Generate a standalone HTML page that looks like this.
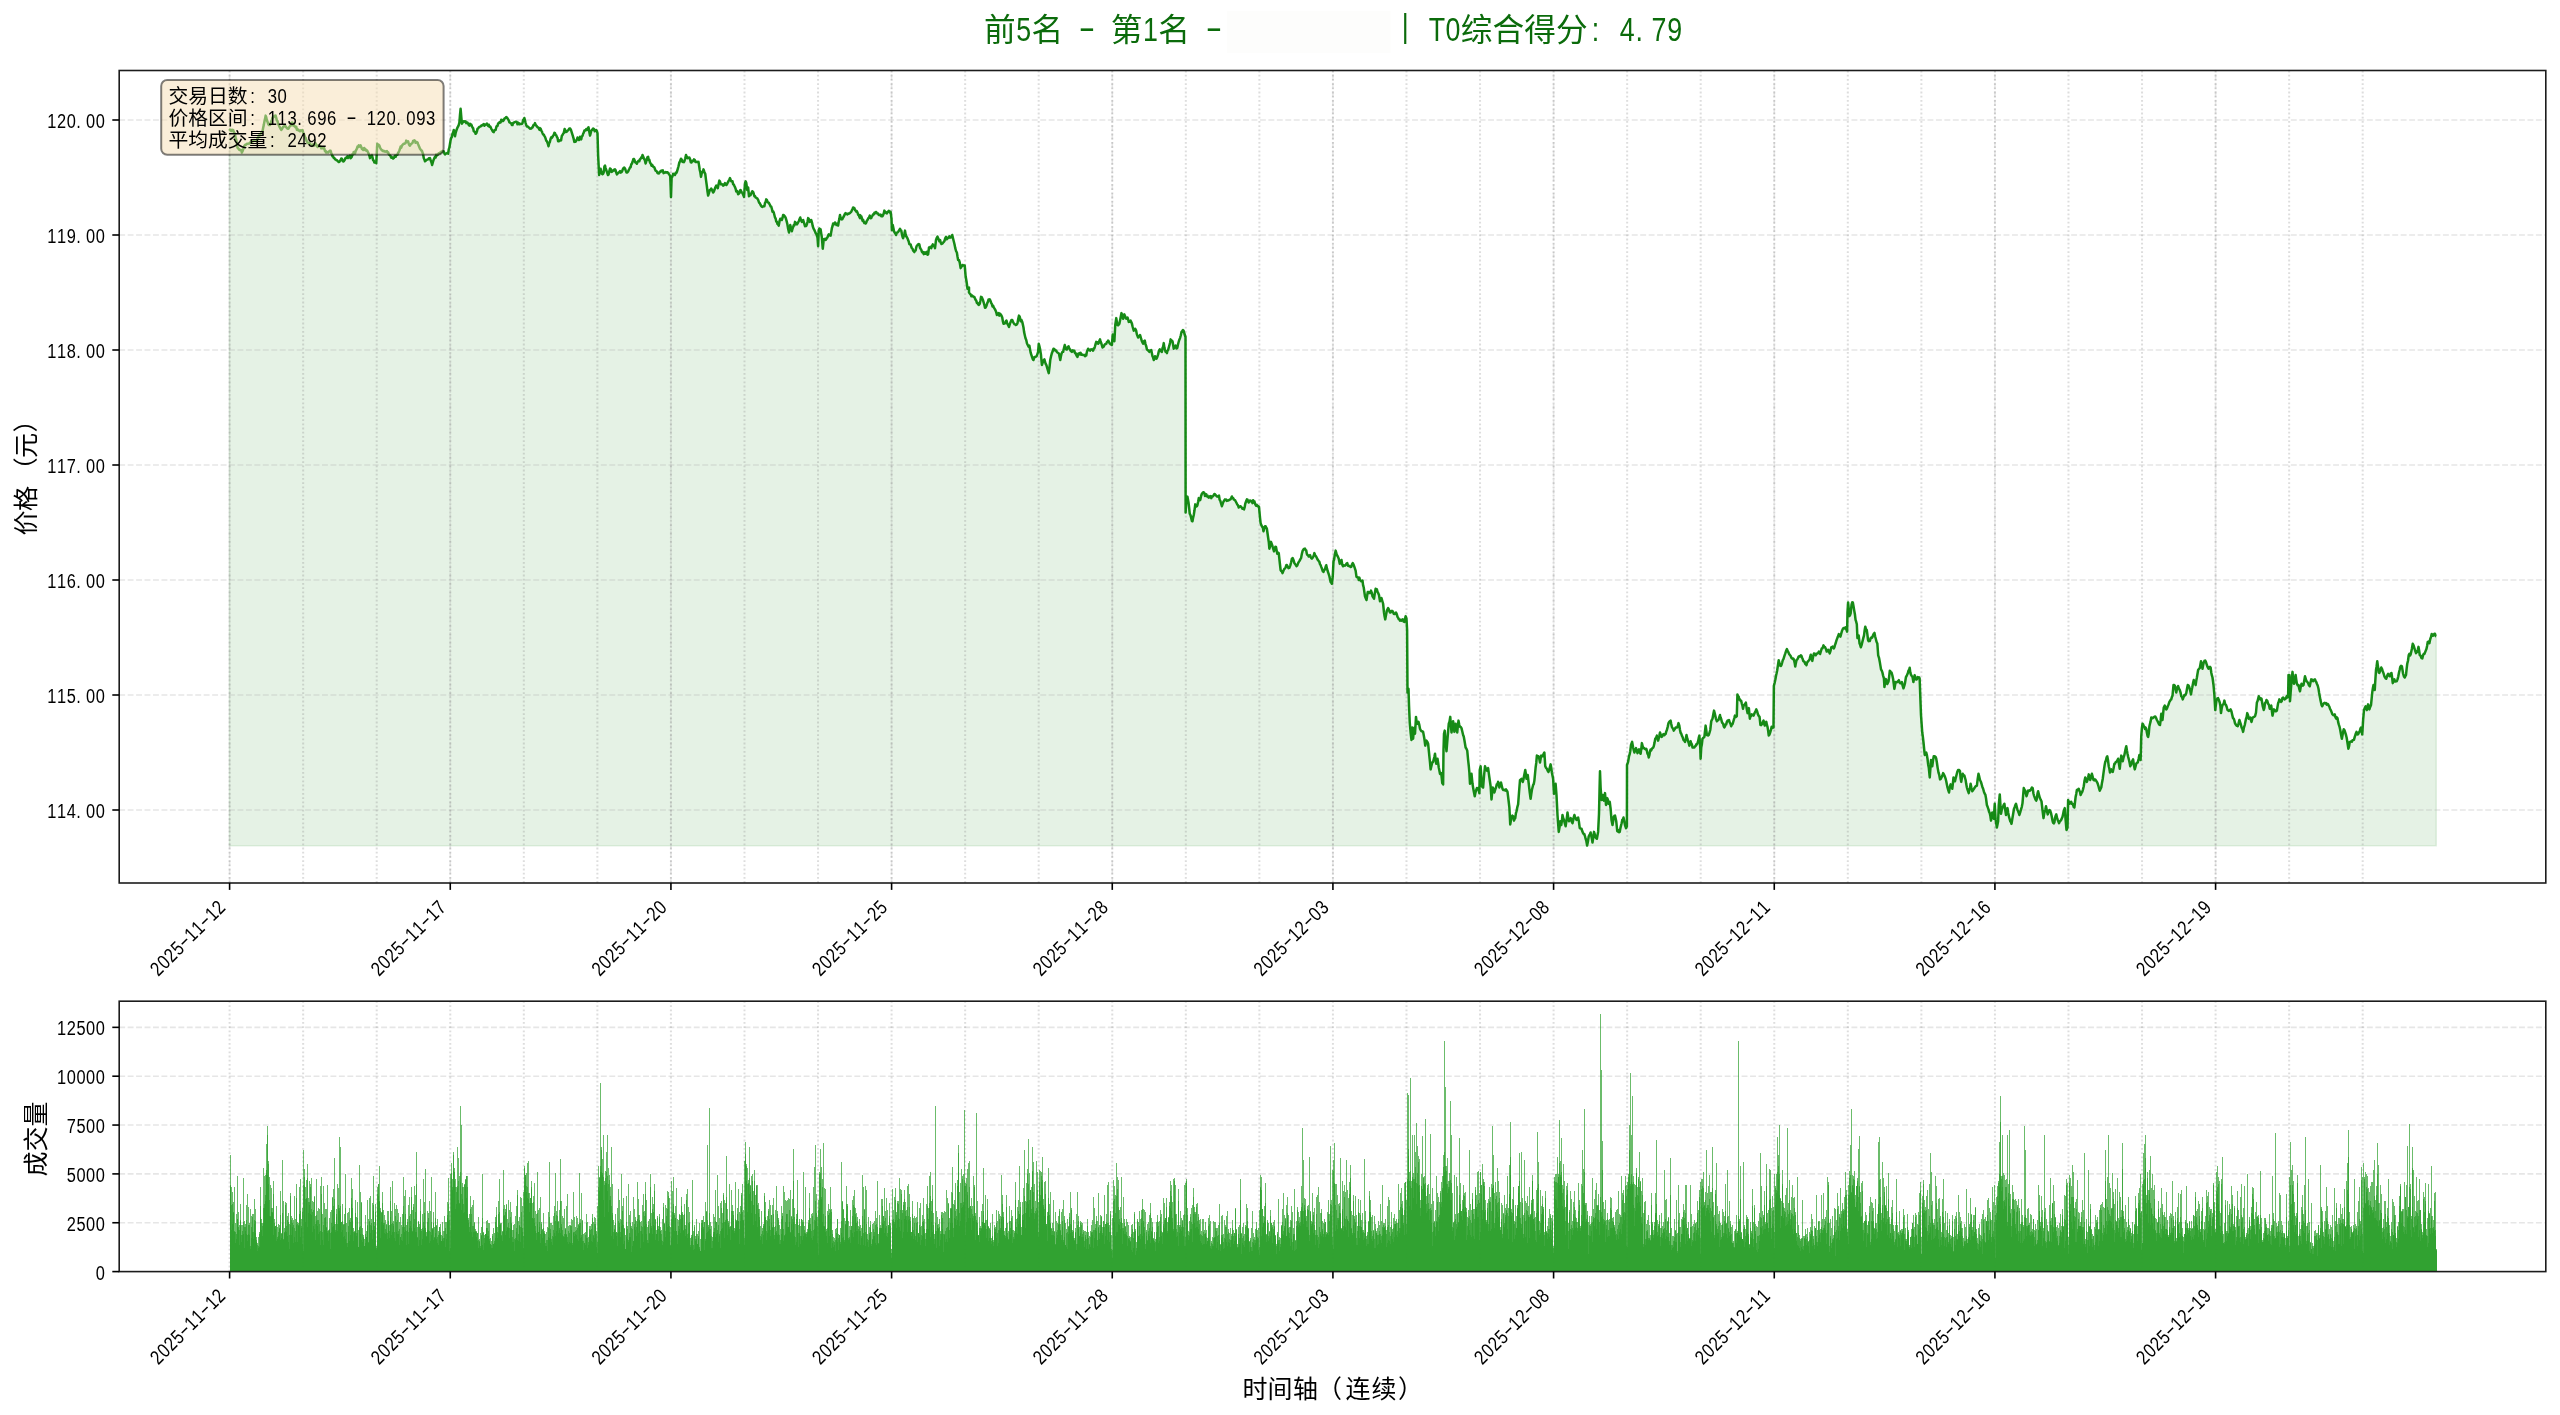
<!DOCTYPE html>
<html lang="zh-CN"><head><meta charset="utf-8"><title>T0 chart</title>
<style>html,body{margin:0;padding:0;background:#fff;overflow:hidden}svg{display:block;will-change:transform}</style></head>
<body>
<svg width="2560" height="1415" viewBox="0 0 2560 1415">
<rect width="2560" height="1415" fill="#fff"/>
<path d="M229.38 845.7L229.38 130.62L232.5 130L235 133.75L237.5 147.5L242.5 151.25L245 145L250 142.5L256.25 140L262.5 131.25L265.62 115.62L268.12 123.75L270 125L272.5 117.5L275.62 115.62L278.75 125L281.25 130L285 125L288.12 128.75L291.88 122.5L295 126.25L300 131.25L302.5 130L306.25 140L308.75 143.75L312.5 145L316.25 145L320 146.25L323.75 147.5L326.25 152.5L330 150.62L332.5 156.25L336.25 160L339.38 161.88L341.88 158.75L343.75 161.25L347.5 156.25L351.25 157.5L354.38 151.88L359.38 145.62L362.5 148.75L365.62 149.38L368.12 152.5L370 158.12L371.88 155L374.38 162.5L376.25 163.12L377.25 143.75L380 147.5L383.75 151.25L387.5 152.5L390.62 156.25L393.75 158.12L396.88 155L400 148.75L403.75 143.75L406.88 141.25L410 145.62L413.75 140.62L417.5 142.5L420 148.75L422.5 152.5L425 161.25L427.5 159.38L430 158.12L432.12 165L434.38 158.12L437.5 155L440.62 151.88L443.75 151.25L445 154.38L448.12 153.75L450.62 140L453.75 130L455 136.25L457.5 127.5L459.38 122.5L460.62 108.75L461.88 123.75L463.75 121.25L466.25 123.12L470 123.75L472.5 127.5L475.62 133.75L478.75 127.5L482.5 125L486.25 124.38L490 126.25L493.12 131.88L495 130L498.75 123.12L502.5 120L506.88 117.5L510 122.5L511.88 125L515 121.88L520 123.75L522.5 123.12L524.38 118.12L526.25 125L530 128.75L532.5 127.5L535 123.12L538.12 127.5L540 130L540 128.12L542.5 133.12L545 136.88L546.88 141.25L548.5 146.25L550.62 138.75L552.5 136.88L555 133.12L556.88 136.88L558.75 141.25L560.25 140L561.88 135.62L563.75 133.12L564.62 129L566.5 131.88L569.38 128.5L571 130L572.75 135.62L574.38 141.88L576.25 140.62L577.5 137.5L579 140L580 136.88L581.25 139.38L583.12 133.75L585 130.62L586.88 130L588.5 127.25L590 135.62L591.25 130.62L593.12 128.5L594.75 131.25L596.25 130L597.5 133.12L598.12 155L599.12 175L600.62 168.75L601.88 173.75L603.12 173.75L605 165.62L606.25 170L607.88 175L610 168.5L611.5 171.88L613.12 170.62L615 169.38L616.88 174.38L618.75 172.5L621.25 172.25L623.5 168.12L625 168.5L626.5 172.5L628.12 171.5L630 167.5L631.88 163.75L634 159L635.25 162.5L636.88 163.75L638.75 160.62L640.62 158.75L642.5 155L644 158.75L645.62 163.5L646.88 158.75L648.12 156.88L650 162.5L651.5 165.62L653.75 166.88L655.62 170.62L658.12 173.12L660.62 171.88L662.75 170.25L664.38 172.75L666.25 172.5L668.75 173.75L670.25 176.25L671 196.88L671.62 177.5L673.12 173.75L675 175L676.88 171.88L678.5 166.25L680 161.25L681 158.75L682.5 161.88L684.38 161.25L686 155L687.5 158.12L689.38 157.5L691.5 162.5L694 159.38L696.25 161.88L698.5 161.88L699.75 170L701 176.88L702.25 171.88L703.5 169.38L705.25 173.75L706.88 186.25L708.12 195.62L709.75 190L711.25 188.5L713.12 192.5L714.75 189L716.25 185.62L717.75 188.12L719.38 180.62L721.25 184.38L723.12 185.62L725 183.12L726.5 185L728.12 181.88L730 178.12L731.88 181.25L733.75 184.38L735.62 188.75L737.5 191.88L738.75 193.75L740.62 190L742.5 193.12L744 196.88L745 183.12L746.25 182.75L747.25 190L748.12 187.5L749 196.25L750.62 195L752.25 191.25L753.75 193.75L755.62 197.5L757.5 198.75L759 202.5L760.62 205L761.88 206.88L764.38 206.25L766.25 199.38L768.12 202.5L770 205L771.88 208.75L773.75 212.5L775 217.5L776.88 221.88L778.75 225.62L780.25 218.75L781.88 220L783.12 215L784.75 216.25L786.5 220.62L788.12 228.75L789 232.5L790.25 225L791.88 231.25L793.75 225L795 221.88L796.88 224.38L798.75 221.25L800.25 217.5L801.88 221.88L803.12 220L805 226.25L806.88 224.38L808.12 218.12L809.75 221.88L811.25 220L812.75 226.25L814.38 230L816.25 233.75L817.5 237.5L818.12 246.25L818.75 230L820.62 229.38L821.88 237.5L822.75 248.75L823.75 239.38L825.62 240L827.5 237.5L828.75 234.38L830.62 235.62L832.5 226.25L835 222.5L836.5 225L838.12 225.62L840 215L841.5 219.38L843.12 217.5L845 213.75L847.5 214.38L850 213.12L853.12 207.5L855 210L857.5 212.5L860 218.12L860 215L861.88 218.12L863.75 221.88L865.62 223.5L867.5 220L869.75 215.62L871.25 218.12L873.12 214.38L875.62 212.25L878.12 213.5L880 215.25L882.5 216.25L884.38 210.62L886.25 213.12L888.12 211.5L890.62 211.88L891.5 218.75L891.88 230L892.75 225L894 231.25L896 235L898.12 231.88L900 228.75L901.88 233.75L903.12 238.12L905 230.62L906.25 236.25L908.12 240L910 244.38L911.88 248.12L913.75 251.25L915.62 250.62L916.88 245.62L918.75 244L920.62 248.75L922.5 252.5L924.38 253.75L926.25 252.5L928.12 254.38L929 247.5L931.25 248.12L932.75 244.38L935 248.12L936 240L937.5 236.62L939.38 241.25L941.5 244L943.75 241.88L946 236.88L947.5 238.12L949.38 236.25L950.62 237.5L952.25 235L953.75 241.25L955.25 248.12L956.88 252.5L958.12 260L959.75 262.5L960.62 268.12L962.5 265L964.75 265.62L965.62 276.25L966.5 281.25L967.5 288.75L969 287.5L969 292.5L970.62 294.38L972.5 296.25L974.38 296.88L976.25 300.62L978.12 304.38L979.75 303.75L981 296.88L982.75 299.38L984.38 305L985.62 307.5L987.25 303.12L989.75 299.38L991.25 303.12L993.12 305.62L995 309.38L996.88 315L998.75 313.12L1000.62 314.38L1002.25 317.5L1003.5 323.75L1005.25 323.12L1006.5 320.62L1008.12 325L1009 326.88L1010.62 321.88L1012.25 320L1013.75 323.12L1015.62 325L1017.5 323.12L1019 315.62L1020.62 321.25L1022.25 321.88L1023.5 327.5L1024.75 335L1026.25 340L1027.75 345L1029.38 345.62L1030.62 352.5L1032.25 357.5L1033.5 360L1035 356.88L1036.88 355.62L1038.12 351.88L1038.75 343.75L1040 348.75L1041 355L1041.88 365L1043.12 361.25L1044.38 359.38L1045.62 363.75L1047.25 368.12L1048.75 373.12L1050.25 360L1051.88 353.12L1053.5 348.75L1055.62 350.62L1057.5 352.5L1059 353.75L1060.25 360L1061.5 353.75L1063.12 351.88L1064.75 345L1066.25 349.38L1068.5 346.25L1070 349.38L1071.88 351.88L1073.75 350.62L1075.62 353.12L1077.5 356.88L1079.38 353.12L1081.88 354.38L1085 356.25L1086.88 351.88L1088.12 348.75L1090 350.62L1091.25 349.38L1093.12 350.62L1095 346.25L1096.25 341.88L1098.12 343.75L1100 339.38L1101.25 343.12L1102.5 347.5L1104.38 345L1106.25 343.75L1108.12 340.62L1110 343.75L1111.88 345L1112.75 334.38L1114.38 341.25L1115.25 325L1116.25 318.12L1117.5 325L1119.38 323.75L1120.62 317.5L1121.5 313.12L1123.12 318.75L1124.38 314.38L1126.25 318.75L1127.5 317.5L1128.75 321.88L1130.62 320.62L1132.5 326.25L1133.75 330.62L1135.25 328.75L1136.88 334.38L1138.12 337.5L1140 335L1141.88 341.25L1143.12 343.75L1144.75 340.62L1146.25 346.25L1147.5 350L1149.38 351.88L1151.25 350L1152.5 356.25L1153.75 360L1155 356.25L1156.5 358.75L1158.12 354.38L1159.75 349.38L1161.88 351.88L1163.75 343.12L1165 350L1166.88 353.12L1168.75 347.5L1170.62 339.38L1172.5 341.25L1173.75 348.75L1175.62 345.62L1177.25 348.12L1178.5 342.5L1180 338.12L1181.5 332L1183 330L1184.5 334L1185.5 337L1185.62 512.5L1186.5 496.25L1187.5 496.88L1188.5 502.5L1189.75 513.75L1191.25 518.12L1192.5 521.25L1193.75 515L1195.25 504.38L1196.88 506.25L1198.75 498.12L1200.25 500L1201.88 493.75L1203.75 492.25L1205.62 495L1208.12 496.88L1210 496.25L1211.88 496.88L1214.38 494L1216.88 496.5L1219 495.62L1220.25 500.62L1221.88 506.25L1223.75 501.25L1225.62 500L1228.12 500.62L1230 499.38L1231.88 496.5L1233.75 499.38L1235.62 501.25L1237.25 504.38L1238.75 507.5L1240.62 506.25L1242.5 508.75L1244 509.38L1245.25 503.75L1246.88 499.38L1248.75 502.5L1250.62 500.62L1252.5 503.12L1254.38 501.25L1256 505.62L1257.5 506.25L1259 506.88L1260 517.5L1260.62 523.12L1262.25 526.88L1263.5 531.25L1265 526.25L1266.88 528.75L1268.12 537.5L1269.38 548.75L1271 541.88L1272.5 546.25L1274 551.25L1276 546.88L1277.25 553.75L1278.75 553.12L1279.75 562.5L1280.62 570L1282.5 573.12L1284.38 568.75L1286.88 565L1288.5 568.12L1290.25 565.62L1291.88 558.75L1292.75 558.12L1294.38 563.12L1296.5 566.25L1298.12 563.12L1300.25 559.38L1301.88 553.75L1303.5 549.38L1305.62 550L1307.5 555L1309.38 555.62L1311.25 558.12L1313.12 556.88L1314.38 553.12L1316 556.25L1317.5 559.38L1319.38 561.88L1321.25 566.88L1323.5 571.88L1325 569.38L1326.25 565.25L1327.75 571.25L1329.38 576.25L1330.62 581.88L1331.88 583.75L1332.75 576.25L1333.5 561.25L1334.75 555L1335.62 550.62L1337.25 555.62L1338.75 558.75L1339.75 563.75L1341.5 560L1343.12 566.25L1345 565.62L1347.25 563.12L1349.38 566.25L1351.25 566.88L1352.75 563.12L1354.38 566.88L1355.62 570.62L1356.5 576.88L1358.12 577.5L1360 580L1362.5 580.62L1363.75 587.5L1365 596.25L1366.5 600L1367.75 591.88L1369.38 593.12L1371 590.62L1372.5 596.25L1374 598.75L1375.62 588.75L1377.5 591.88L1379 595L1380 601.25L1381.5 598.12L1383.12 603.75L1384 612.5L1385.25 619.38L1386.88 610.62L1388.12 608.12L1390 612.5L1391.88 611.25L1393.75 613.75L1396 612.5L1397.5 616.88L1399.38 619.38L1401.25 620.62L1402.75 619.38L1404.38 621.88L1405.62 616.25L1406.5 618.75L1407.12 630L1407.5 692.5L1408.5 688.75L1409 705L1409.75 722.5L1410.62 732.5L1411.5 740L1412.25 727.5L1413.12 738.75L1414 728.12L1415 733.75L1416 716.88L1417.25 723.75L1418.5 721.88L1420 728.75L1421.5 731.25L1423.12 731.88L1424.38 738.75L1425.25 745.62L1426.5 740.62L1428.12 743.75L1429 752.5L1430 762.5L1430.62 769.38L1432.25 762.5L1433.75 759.38L1435 753.75L1436.25 763.75L1437.5 758.75L1438.75 767.5L1440 773.75L1441.25 773.12L1442.25 783.12L1443.12 784.38L1443.5 750L1444 733.75L1444.75 730.62L1445.62 742.5L1446.5 751.25L1447.5 738.75L1448.75 723.75L1450.25 716.88L1451.5 732.5L1453.12 721.25L1454.38 731.88L1455.62 723.75L1457.25 732.5L1458.5 720.62L1460 726.88L1461.5 728.12L1463.12 735L1464.38 740L1465.62 747.5L1467.25 750.62L1468.12 760L1469.38 772.5L1470 783.75L1471.5 773.75L1472.5 783.75L1473.75 791.25L1474.75 796.25L1476.25 790L1478.12 788.12L1479.38 793.12L1479.75 770L1480.62 766.25L1481.88 786.25L1483.12 787.5L1484 776.25L1485 766.25L1486.88 770.62L1488.12 768.12L1489.38 777.5L1490.62 786.25L1491.5 799.38L1492.75 787.5L1494.38 792.5L1496 787.5L1498.12 781.88L1499.38 787.5L1501 782.5L1502.5 788.75L1504.38 790L1506 789.38L1507.5 791.88L1508.5 800L1509.38 807.5L1510.25 824.38L1511.5 816.88L1513.12 816.25L1514 820.62L1515.25 818.12L1516.5 811.25L1518.12 804.38L1519 792.5L1520 780L1521.5 778.75L1522.75 781.88L1524 776.25L1525.25 770L1526.5 778.75L1527.75 775L1528.75 783.75L1529.75 792.5L1530.62 798.75L1531.88 790L1533.12 785L1534.38 780.62L1535.62 767.5L1536.88 755.62L1538.5 756.25L1540 762.5L1541.25 755.62L1542.75 756.25L1544.38 752.5L1545.25 766.25L1546.88 768.75L1548.5 771.88L1550.62 764.38L1551.88 772.5L1553.12 778.75L1554 793.75L1555.62 783.75L1556.5 795L1557.5 815L1558.75 831.88L1560.25 821.25L1561.25 825L1562.5 815L1564 820L1565.62 826.25L1567.5 812.5L1569 821.25L1570.62 818.12L1572.5 823.12L1574.38 815L1576.5 820L1578.12 817.5L1579.75 828.12L1581.5 828.75L1583.12 833.12L1585 836.25L1586.25 840.62L1587.12 845.62L1588.75 836.25L1590.62 832.5L1592.5 842.5L1594 831.88L1595.62 837.5L1596.88 838.75L1598.12 831.88L1599 813.75L1599.62 786.25L1600 771.25L1600.62 787.5L1601.5 800L1602.75 795L1604 800.62L1605 793.12L1606 805L1607.25 798.12L1608.5 803.75L1609.75 801.88L1610.62 808.75L1611.5 820L1612.5 825L1613.75 816.88L1615 815.62L1616.25 821.25L1617.25 831.25L1618.5 831.88L1619.75 831.88L1621 825.62L1622.25 820L1623.5 817.5L1625 825L1626 828.12L1626.88 826.25L1627 765L1628.12 761.88L1629 756.25L1630.25 751.25L1631 745L1632.12 741.88L1633.12 747.5L1634.38 752.5L1636 748.12L1637.5 753.12L1639 749.38L1640.62 753.75L1641.88 743.12L1643.12 748.12L1644.75 748.75L1646.25 748.75L1647.5 753.75L1648.75 757.5L1650 751.25L1651.88 748.75L1653.75 746.25L1655.25 738.75L1656.88 735.62L1658.12 740.62L1660 732.5L1661.5 736.88L1663.12 734.38L1665 734.38L1666.88 730L1668.5 723.12L1670.62 720.62L1671.88 726.88L1673.75 730.62L1675.62 727.5L1677.5 726.88L1678.5 723.12L1680 730L1681.88 735.62L1683.5 740L1685 741.88L1686.5 735L1688.12 741.25L1689.38 745.62L1690.62 741.25L1692.5 747.5L1694.38 747.5L1696.25 744.38L1698.12 741.25L1699.38 735.62L1700.25 747.5L1700.62 758.75L1701.25 747.5L1702.5 738.75L1704.38 736.88L1705.62 725.62L1706.88 735L1708.75 735L1710.25 730L1711.25 721.25L1712.5 718.75L1714 710.62L1715.25 715.62L1716.88 721.25L1718.5 720L1720 715L1720 715.62L1721.87 721.84L1724.35 727.44L1726.84 721.84L1728.96 719.98L1731.19 726.19L1733.06 722.46L1734.93 715.62L1736.79 716.24L1737.41 694.48L1739.28 699.45L1741.14 700.7L1743.01 708.78L1744.25 705.05L1745.87 702.56L1747.61 713.13L1748.86 708.16L1749.85 718.73L1751.72 714.38L1753.58 715.62L1755.45 711.27L1756.32 709.4L1757.94 714.38L1759.55 716.87L1760.42 724.95L1762.29 723.71L1763.53 720.6L1764.78 725.57L1766.27 721.84L1767.51 726.82L1768.76 735.52L1770 733.03L1771.62 726.82L1773.48 727.44L1773.86 685.77L1775.35 679.55L1776.59 673.33L1777.84 665.87L1778.71 660.27L1780.32 665.87L1781.57 664.63L1783.43 659.03L1785.3 653.43L1786.92 649.08L1788.41 652.19L1790.65 655.92L1792.76 659.03L1794 659.65L1795.25 666.49L1796.49 660.27L1798.61 656.54L1800.85 655.3L1802.71 659.03L1804.58 662.14L1806.44 665.25L1808.31 660.9L1809.8 658.41L1810.8 654.68L1812.29 660.9L1813.91 653.43L1815.77 655.3L1817.64 653.43L1818.88 651.57L1820.12 654.05L1821.74 648.46L1823.48 645.35L1825.1 647.21L1826.72 651.57L1828.21 649.7L1829.7 653.43L1831.32 647.21L1832.56 646.59L1833.81 648.46L1835.05 644.73L1836.92 639.13L1838.78 634.15L1840.4 636.64L1842.14 630.42L1843.76 627.94L1845.62 627.31L1847.11 631.67L1847.49 612.39L1848.11 602.44L1849.35 616.12L1850.6 613.63L1851.59 604.3L1852.84 602.44L1854.33 611.14L1855.57 619.85L1856.82 624.2L1857.44 637.89L1858.68 635.4L1859.55 643.48L1860.8 647.21L1862.41 641.62L1864.03 635.4L1865.27 626.69L1866.77 629.8L1868.01 639.75L1869.88 641L1871.49 637.26L1872.99 635.4L1874.48 632.91L1875.72 638.51L1877.34 643.48L1878.21 655.3L1879.83 662.14L1881.07 669.6L1882.31 672.09L1883.93 678.31L1884.43 687.01L1885.67 678.93L1887.29 683.91L1888.53 681.42L1889.78 670.85L1891.64 672.71L1893.13 678.93L1894.38 688.88L1895.62 682.04L1897.24 682.04L1898.86 680.17L1900.35 683.28L1901.84 682.04L1903.46 688.26L1905.07 682.66L1905.95 677.06L1907.81 673.33L1909.68 667.74L1910.92 674.58L1912.54 677.06L1913.41 682.04L1914.65 675.2L1916.27 679.55L1917.76 677.06L1919.63 678.31L1920.62 705L1921 715L1922.25 732.5L1923.5 742.5L1924.75 755L1926.25 752.5L1927.5 758.75L1928.75 767.5L1929.75 777.5L1931 760L1932.25 766.25L1933.75 756.25L1935.62 756.88L1936.88 762.5L1938.5 772.5L1940 779.38L1941.5 777.5L1943.12 773.12L1944.75 776.25L1946.25 781.25L1947.5 787.5L1949 792.5L1950.62 784.38L1952.25 788.75L1953.5 777.5L1955 781.25L1956.5 775L1958.12 770L1960 771.25L1961.25 781.88L1962.75 773.75L1964.38 775.62L1965.62 780L1966.88 787.5L1968.75 793.12L1970.62 783.75L1972.25 791.25L1974 788.75L1975.62 786.25L1976.88 785.62L1978.5 773.75L1980 780L1981.5 783.75L1983.12 788.75L1984.75 793.75L1986 798.12L1986.88 805L1988.5 809.38L1989.75 813.12L1991 820.62L1992.25 812.5L1993.75 818.75L1994.75 803.75L1995.62 819.38L1996.88 827.5L1998.12 821.25L1998.75 805L1999.75 794.38L2001 813.75L2002.5 807.5L2004.38 803.75L2006 815L2007.5 808.12L2009 816.88L2010.25 821.25L2011.5 823.75L2012.75 816.25L2014 808.75L2016 803.75L2017.5 810L2019.38 815L2021 809.38L2022.5 803.12L2023.75 788.12L2025.25 790.62L2026.5 796.25L2028.12 790.62L2030 790.62L2031.88 787.5L2033.5 793.75L2034.75 797.5L2036.25 800.62L2038.12 791.25L2039.75 797.5L2041.5 801.25L2042.5 810L2043.5 818.12L2044.75 811.25L2046 806.25L2047.75 814.38L2049.38 810L2051 813.12L2052.5 820.62L2054.38 822.5L2056.25 814.38L2057.75 820L2059 823.12L2060.62 820.62L2062.5 816.88L2063.75 810.62L2064.75 808.12L2065.62 820L2066.5 830L2067.5 827.5L2068.12 800L2069.75 803.75L2071.25 801.88L2073.12 805L2074.38 807.5L2075.62 796.88L2076.88 790L2078.75 788.75L2080.62 795L2082.25 791.88L2083.75 786.25L2085.25 777.5L2086.88 781.88L2088.75 774.38L2090.25 780L2091.88 773.75L2093.5 780L2095 779.38L2096.88 781.88L2098.5 786.25L2099.75 790.62L2101.25 787.5L2102.75 778.75L2104 769.38L2105.25 761.88L2107.25 756.25L2108.75 766.25L2110 772.5L2111.5 769.38L2112.75 771.88L2114.38 763.75L2116.25 761.88L2118.12 758.75L2119.75 768.75L2121.25 755.62L2122.75 761.25L2124.38 755L2126.25 746.25L2127.5 753.75L2129 760L2130.25 766.25L2131.88 761.88L2133.12 759.38L2134.75 769.38L2136.25 763.75L2137.75 762.5L2139.38 755L2140.62 760L2141.25 736.25L2142.5 723.75L2144.38 726.88L2146.25 728.75L2148.12 736.88L2150 723.75L2151.25 717.5L2153.5 717.5L2155.25 716.5L2156.88 720L2158.5 723.12L2159 724.38L2160 725L2161.25 713.75L2162.5 720L2163.75 707.5L2164.75 705.62L2166.25 709.38L2167.75 706.25L2169.38 701.88L2171.25 699.38L2172.5 695.62L2173.5 685L2174.75 685.62L2176.25 692.5L2178.12 686L2179.75 690L2181.25 696.25L2182.75 699.38L2184.38 695L2186.25 693.12L2187.75 685L2189.38 687.5L2191 694.38L2192.25 687.5L2193.75 680L2195.62 685L2196.88 677.5L2198.12 670L2199.75 668.12L2201 661.25L2202.5 668.75L2203.75 662.5L2205.25 660.62L2206.88 665L2208.5 668.75L2210 666.88L2211.25 672.5L2212.5 677.5L2213.5 685L2214.38 695L2215.25 710L2216.5 700L2218.12 698.12L2219.75 702.5L2221 713.12L2222.5 705L2224.38 700.62L2226 705L2227.5 710L2229.38 710.62L2230.62 709.38L2232.25 715L2233.75 718.75L2235 723.12L2236.5 725.62L2237.75 726.25L2239.38 720L2241 725L2242.25 728.75L2243.12 731.88L2244.75 725L2246 718.75L2247.25 713.12L2248.75 718.75L2250.25 717.5L2251.5 721.88L2252.75 717.5L2254.38 716.88L2256 712.5L2256.88 702.5L2258.75 696.25L2260.25 699.38L2261.5 698.75L2262.75 706.25L2263.75 710L2265 703.12L2266.5 700L2268.12 703.75L2269.75 708.75L2271.25 705.62L2272.5 715.62L2274 709.38L2275.62 711.25L2276.88 710.62L2278.12 703.12L2279.38 699.38L2281 701.88L2283.12 697.5L2284.75 699.38L2286.25 697.5L2288.12 696.25L2288.5 675L2289.38 675L2290 701.25L2291.25 685L2292.5 671.88L2294 683.75L2295.62 675L2296.88 683.75L2298.5 685L2300 691.25L2301.5 683.75L2303.5 685L2305 676.25L2306.5 681.25L2308.12 683.12L2309.75 686.25L2311.25 679.38L2313.12 681.25L2315 679.38L2316.88 683.75L2318.5 688.75L2319.75 696.25L2321 702.5L2322.25 706.25L2324 703.12L2326 703.12L2328.12 704.38L2330 708.75L2331.5 711.88L2333.12 715L2334.75 714.38L2336.25 718.75L2337.5 718.12L2338.75 724.38L2340.25 730L2341.88 738.75L2343.12 731.88L2344.38 730L2346 735L2347.25 741.25L2348.38 748.75L2349.75 741.88L2351.25 741.25L2353.12 740L2354.75 736.88L2356.5 731.88L2358.12 734.38L2359.75 731.25L2361 727.5L2362.25 734.38L2363.12 720L2364 710L2365.62 706.25L2366.88 710L2368.12 704.38L2369.38 709.38L2371 705L2372.25 692.5L2373.5 685L2374.75 690L2376 670L2377.25 661.25L2378.75 672.5L2380 671.25L2381.25 667.5L2382.75 671.25L2384.38 676.25L2386.25 678.75L2388.12 673.75L2390 676.25L2391.5 673.12L2392.75 683.12L2394.38 679.38L2396 681.25L2397.5 679.38L2399 672.5L2400.25 666.88L2401.88 666.25L2403.12 673.75L2404.75 677.5L2406 675L2407.25 663.75L2408.75 655L2410.62 654.38L2411.88 648.75L2412.75 643.75L2414.38 648.12L2416 653.12L2417.25 651.88L2418.5 646.88L2419.75 655L2421.5 658.12L2423.12 655L2425 652.5L2426.5 648.75L2427.75 641.88L2429.38 643.12L2431 636.88L2432.5 635.62L2434.38 633.75L2436.25 636.25L2436.25 845.7Z" fill="#008000" fill-opacity="0.1" stroke="#008000" stroke-opacity="0.1" stroke-width="1.5"/>
<path d="M119.2 120H2545.8" stroke="#b0b0b0" stroke-opacity="0.32" stroke-width="1.6" stroke-dasharray="5.9 2.55" fill="none"/>
<path d="M119.2 235H2545.8" stroke="#b0b0b0" stroke-opacity="0.32" stroke-width="1.6" stroke-dasharray="5.9 2.55" fill="none"/>
<path d="M119.2 350H2545.8" stroke="#b0b0b0" stroke-opacity="0.32" stroke-width="1.6" stroke-dasharray="5.9 2.55" fill="none"/>
<path d="M119.2 465H2545.8" stroke="#b0b0b0" stroke-opacity="0.32" stroke-width="1.6" stroke-dasharray="5.9 2.55" fill="none"/>
<path d="M119.2 580H2545.8" stroke="#b0b0b0" stroke-opacity="0.32" stroke-width="1.6" stroke-dasharray="5.9 2.55" fill="none"/>
<path d="M119.2 695H2545.8" stroke="#b0b0b0" stroke-opacity="0.32" stroke-width="1.6" stroke-dasharray="5.9 2.55" fill="none"/>
<path d="M119.2 810H2545.8" stroke="#b0b0b0" stroke-opacity="0.32" stroke-width="1.6" stroke-dasharray="5.9 2.55" fill="none"/>
<path d="M229.6 883V70.5" stroke="#b0b0b0" stroke-opacity="0.32" stroke-width="1.6" stroke-dasharray="5.9 2.55" fill="none"/>
<path d="M450.26 883V70.5" stroke="#b0b0b0" stroke-opacity="0.32" stroke-width="1.6" stroke-dasharray="5.9 2.55" fill="none"/>
<path d="M670.93 883V70.5" stroke="#b0b0b0" stroke-opacity="0.32" stroke-width="1.6" stroke-dasharray="5.9 2.55" fill="none"/>
<path d="M891.6 883V70.5" stroke="#b0b0b0" stroke-opacity="0.32" stroke-width="1.6" stroke-dasharray="5.9 2.55" fill="none"/>
<path d="M1112.26 883V70.5" stroke="#b0b0b0" stroke-opacity="0.32" stroke-width="1.6" stroke-dasharray="5.9 2.55" fill="none"/>
<path d="M1332.92 883V70.5" stroke="#b0b0b0" stroke-opacity="0.32" stroke-width="1.6" stroke-dasharray="5.9 2.55" fill="none"/>
<path d="M1553.59 883V70.5" stroke="#b0b0b0" stroke-opacity="0.32" stroke-width="1.6" stroke-dasharray="5.9 2.55" fill="none"/>
<path d="M1774.26 883V70.5" stroke="#b0b0b0" stroke-opacity="0.32" stroke-width="1.6" stroke-dasharray="5.9 2.55" fill="none"/>
<path d="M1994.92 883V70.5" stroke="#b0b0b0" stroke-opacity="0.32" stroke-width="1.6" stroke-dasharray="5.9 2.55" fill="none"/>
<path d="M2215.59 883V70.5" stroke="#b0b0b0" stroke-opacity="0.32" stroke-width="1.6" stroke-dasharray="5.9 2.55" fill="none"/>
<path d="M229.6 883V70.5" stroke="#808080" stroke-opacity="0.31" stroke-width="2" stroke-dasharray="1.8 2.4" fill="none"/>
<path d="M303.15 883V70.5" stroke="#808080" stroke-opacity="0.27" stroke-width="2" stroke-dasharray="1.8 2.4" fill="none"/>
<path d="M376.71 883V70.5" stroke="#808080" stroke-opacity="0.27" stroke-width="2" stroke-dasharray="1.8 2.4" fill="none"/>
<path d="M450.26 883V70.5" stroke="#808080" stroke-opacity="0.31" stroke-width="2" stroke-dasharray="1.8 2.4" fill="none"/>
<path d="M523.82 883V70.5" stroke="#808080" stroke-opacity="0.27" stroke-width="2" stroke-dasharray="1.8 2.4" fill="none"/>
<path d="M597.38 883V70.5" stroke="#808080" stroke-opacity="0.27" stroke-width="2" stroke-dasharray="1.8 2.4" fill="none"/>
<path d="M670.93 883V70.5" stroke="#808080" stroke-opacity="0.31" stroke-width="2" stroke-dasharray="1.8 2.4" fill="none"/>
<path d="M744.49 883V70.5" stroke="#808080" stroke-opacity="0.27" stroke-width="2" stroke-dasharray="1.8 2.4" fill="none"/>
<path d="M818.04 883V70.5" stroke="#808080" stroke-opacity="0.27" stroke-width="2" stroke-dasharray="1.8 2.4" fill="none"/>
<path d="M891.6 883V70.5" stroke="#808080" stroke-opacity="0.31" stroke-width="2" stroke-dasharray="1.8 2.4" fill="none"/>
<path d="M965.15 883V70.5" stroke="#808080" stroke-opacity="0.27" stroke-width="2" stroke-dasharray="1.8 2.4" fill="none"/>
<path d="M1038.7 883V70.5" stroke="#808080" stroke-opacity="0.27" stroke-width="2" stroke-dasharray="1.8 2.4" fill="none"/>
<path d="M1112.26 883V70.5" stroke="#808080" stroke-opacity="0.31" stroke-width="2" stroke-dasharray="1.8 2.4" fill="none"/>
<path d="M1185.82 883V70.5" stroke="#808080" stroke-opacity="0.27" stroke-width="2" stroke-dasharray="1.8 2.4" fill="none"/>
<path d="M1259.37 883V70.5" stroke="#808080" stroke-opacity="0.27" stroke-width="2" stroke-dasharray="1.8 2.4" fill="none"/>
<path d="M1332.92 883V70.5" stroke="#808080" stroke-opacity="0.31" stroke-width="2" stroke-dasharray="1.8 2.4" fill="none"/>
<path d="M1406.48 883V70.5" stroke="#808080" stroke-opacity="0.27" stroke-width="2" stroke-dasharray="1.8 2.4" fill="none"/>
<path d="M1480.04 883V70.5" stroke="#808080" stroke-opacity="0.27" stroke-width="2" stroke-dasharray="1.8 2.4" fill="none"/>
<path d="M1553.59 883V70.5" stroke="#808080" stroke-opacity="0.31" stroke-width="2" stroke-dasharray="1.8 2.4" fill="none"/>
<path d="M1627.14 883V70.5" stroke="#808080" stroke-opacity="0.27" stroke-width="2" stroke-dasharray="1.8 2.4" fill="none"/>
<path d="M1700.7 883V70.5" stroke="#808080" stroke-opacity="0.27" stroke-width="2" stroke-dasharray="1.8 2.4" fill="none"/>
<path d="M1774.26 883V70.5" stroke="#808080" stroke-opacity="0.31" stroke-width="2" stroke-dasharray="1.8 2.4" fill="none"/>
<path d="M1847.81 883V70.5" stroke="#808080" stroke-opacity="0.27" stroke-width="2" stroke-dasharray="1.8 2.4" fill="none"/>
<path d="M1921.37 883V70.5" stroke="#808080" stroke-opacity="0.27" stroke-width="2" stroke-dasharray="1.8 2.4" fill="none"/>
<path d="M1994.92 883V70.5" stroke="#808080" stroke-opacity="0.31" stroke-width="2" stroke-dasharray="1.8 2.4" fill="none"/>
<path d="M2068.48 883V70.5" stroke="#808080" stroke-opacity="0.27" stroke-width="2" stroke-dasharray="1.8 2.4" fill="none"/>
<path d="M2142.03 883V70.5" stroke="#808080" stroke-opacity="0.27" stroke-width="2" stroke-dasharray="1.8 2.4" fill="none"/>
<path d="M2215.59 883V70.5" stroke="#808080" stroke-opacity="0.31" stroke-width="2" stroke-dasharray="1.8 2.4" fill="none"/>
<path d="M2289.14 883V70.5" stroke="#808080" stroke-opacity="0.27" stroke-width="2" stroke-dasharray="1.8 2.4" fill="none"/>
<path d="M2362.7 883V70.5" stroke="#808080" stroke-opacity="0.27" stroke-width="2" stroke-dasharray="1.8 2.4" fill="none"/>
<path d="M229.38 130.62L230 129.64L230.63 130.64L231.25 130.94L231.88 129.76L232.5 130L233.12 130.01L233.75 131.83L234.38 133.15L235 133.75L235.62 137.96L236.25 139.77L236.88 143.16L237.5 147.5L238.12 148.46L238.75 148.77L239.38 149.98L240 150.06L240.62 149.77L241.25 150.12L241.88 152.58L242.5 151.25L243.12 149.49L243.75 147.58L244.38 145.77L245 145L245.62 144.75L246.25 144.48L246.88 143.82L247.5 143.71L248.12 143.63L248.75 143.61L249.38 143.58L250 142.5L250.62 142.4L251.25 140.75L251.88 142.24L252.5 140.51L253.12 141.13L253.75 139.97L254.38 140.75L255 139.96L255.62 140.4L256.25 140L256.88 141.44L257.5 138.22L258.12 137.96L258.75 135.57L259.38 135.42L260 135.21L260.62 133.81L261.25 133.26L261.88 132.2L262.5 131.25L263.12 127.91L263.75 125.12L264.37 121.7L265 119.14L265.62 115.62L266.25 117.3L266.87 120.17L267.5 121.72L268.12 123.75L268.75 124.83L269.37 124.16L270 125L270.62 123.82L271.25 121.16L271.88 120.26L272.5 117.5L273.12 117.56L273.75 116.85L274.37 115.83L275 116.53L275.62 115.62L276.25 117.82L276.87 120.52L277.5 120.98L278.12 123.51L278.75 125L279.38 126.61L280 127.7L280.62 128.9L281.25 130L281.88 129.29L282.5 127.91L283.12 126.79L283.75 126.39L284.38 126.25L285 125L285.62 126.81L286.25 127.18L286.87 127.99L287.5 128.54L288.12 128.75L288.75 128.2L289.37 126.8L290 126.17L290.63 125.82L291.25 123.31L291.88 122.5L292.5 122.76L293.13 125.37L293.75 124.92L294.38 126.18L295 126.25L295.62 127.49L296.25 126.7L296.88 129.83L297.5 129.99L298.12 129.5L298.75 130.53L299.38 130.71L300 131.25L300.62 130.32L301.25 130.55L301.88 130.57L302.5 130L303.12 132.45L303.75 133.83L304.38 135.04L305 137.62L305.62 137.8L306.25 140L306.88 141.49L307.5 142.65L308.12 142.61L308.75 143.75L309.38 142.7L310 143.53L310.62 144.54L311.25 144.95L311.88 145.88L312.5 145L313.12 144.3L313.75 145L314.38 145.45L315 144.89L315.62 143.34L316.25 145L316.88 145.77L317.5 147.04L318.12 146.33L318.75 145.19L319.38 145.75L320 146.25L320.62 146.61L321.25 148.41L321.88 147.31L322.5 147.16L323.12 148.38L323.75 147.5L324.38 148.69L325 151.3L325.62 150.77L326.25 152.5L326.88 151.85L327.5 152.38L328.12 152.56L328.75 151.7L329.38 151.14L330 150.62L330.62 150.75L331.25 152.94L331.88 154.42L332.5 156.25L333.12 156.5L333.75 157.91L334.38 157.89L335 159.3L335.62 159.43L336.25 160L336.88 160.14L337.5 160.83L338.13 161.43L338.75 162.1L339.38 161.88L340 160.76L340.63 160.15L341.25 158.58L341.88 158.75L342.5 160.71L343.13 161.43L343.75 161.25L344.38 160.29L345 159.25L345.62 157.88L346.25 158.04L346.88 157.23L347.5 156.25L348.12 157.99L348.75 156.84L349.38 156.33L350 155.37L350.62 158.28L351.25 157.5L351.88 156.51L352.5 154.13L353.13 154.25L353.75 151.88L354.38 151.88L355 153.53L355.63 151.1L356.25 149.93L356.88 148.63L357.5 146.47L358.13 147.1L358.75 145.31L359.38 145.62L360 146.66L360.63 145.37L361.25 146.86L361.88 148.98L362.5 148.75L363.12 150.03L363.75 148.18L364.37 148.05L365 149.87L365.62 149.38L366.25 150.76L366.87 150.25L367.5 151.23L368.12 152.5L368.75 153.89L369.37 155.41L370 158.12L370.63 156.6L371.25 156.92L371.88 155L372.5 157.36L373.13 160.19L373.75 160.56L374.38 162.5L375 162.61L375.63 162.23L376.25 163.12L377.25 143.75L377.94 144.6L378.62 144.71L379.31 145.32L380 147.5L380.62 148.61L381.25 149.76L381.88 149.96L382.5 150.93L383.12 150.8L383.75 151.25L384.38 150.96L385 151.73L385.62 151.61L386.25 151.31L386.88 151.11L387.5 152.5L388.12 152.21L388.75 154L389.37 154.86L390 155.17L390.62 156.25L391.25 157.62L391.87 157.12L392.5 157.78L393.12 158.6L393.75 158.12L394.38 156.92L395 155.49L395.63 156.77L396.25 155.14L396.88 155L397.5 154.67L398.13 152.74L398.75 151.95L399.38 150.53L400 148.75L400.62 146.46L401.25 147.59L401.88 145.78L402.5 144.89L403.12 144.28L403.75 143.75L404.38 143.79L405 143.37L405.63 142.96L406.25 140.59L406.88 141.25L407.5 141.71L408.13 141.34L408.75 143.8L409.38 145.17L410 145.62L410.62 144.25L411.25 144.12L411.88 143.28L412.5 142.99L413.12 140.88L413.75 140.62L414.38 140.35L415 140.71L415.62 142.79L416.25 142.64L416.88 142.1L417.5 142.5L418.12 144.22L418.75 145.71L419.38 147.33L420 148.75L420.62 149.54L421.25 150.39L421.88 150.68L422.5 152.5L423.12 154.24L423.75 158.03L424.38 159.44L425 161.25L425.62 160.83L426.25 160.16L426.88 159.89L427.5 159.38L428.12 159.31L428.75 158.3L429.38 158.57L430 158.12L430.71 160.58L431.41 162.18L432.12 165L432.87 162.15L433.63 159.71L434.38 158.12L435 156.75L435.63 157.49L436.25 154.6L436.88 155.44L437.5 155L438.12 153.95L438.75 153.32L439.37 153.2L440 153.29L440.62 151.88L441.25 151.81L441.87 151.53L442.5 151.07L443.12 151.29L443.75 151.25L444.38 153.45L445 154.38L445.62 153.98L446.25 153.33L446.87 153.12L447.5 153.1L448.12 153.75L448.75 149.34L449.37 147.64L450 143.69L450.62 140L451.25 137.83L451.87 137.02L452.5 133.54L453.12 132.53L453.75 130L454.38 133.69L455 136.25L455.62 132.98L456.25 130.79L456.88 129.04L457.5 127.5L458.13 126.47L458.75 125.07L459.38 122.5L460 114.77L460.62 108.75L461.25 116.47L461.88 123.75L462.5 122.65L463.13 121.81L463.75 121.25L464.38 121.33L465 121.96L465.62 121.38L466.25 123.12L466.88 122.52L467.5 122.47L468.12 123.78L468.75 125L469.38 125.56L470 123.75L470.62 124.45L471.25 124.42L471.88 126.28L472.5 127.5L473.12 128.09L473.75 131.39L474.37 131.65L475 131.99L475.62 133.75L476.25 133.16L476.87 131.63L477.5 128.86L478.12 128.38L478.75 127.5L479.38 126.92L480 126.68L480.62 126.34L481.25 125.6L481.88 125.55L482.5 125L483.12 124.49L483.75 124.17L484.38 125.75L485 124.84L485.62 124.79L486.25 124.38L486.88 123.58L487.5 124.89L488.12 125.89L488.75 124.72L489.38 126.71L490 126.25L490.62 127.1L491.25 128.78L491.87 129.53L492.5 130.91L493.12 131.88L493.75 132.1L494.37 130.34L495 130L495.62 129.95L496.25 127.16L496.88 125.91L497.5 125.91L498.12 123.52L498.75 123.12L499.38 122.34L500 122.71L500.62 122.41L501.25 119.8L501.88 120.87L502.5 120L503.13 120.96L503.75 120.12L504.38 118.76L505 118.15L505.63 118.01L506.25 117.05L506.88 117.5L507.5 118.31L508.13 119.37L508.75 120.4L509.38 122.33L510 122.5L510.63 123.17L511.25 123.15L511.88 125L512.5 125.11L513.13 123L513.75 122.81L514.38 122.41L515 121.88L515.62 121.87L516.25 121.65L516.88 122.41L517.5 124.34L518.12 122.62L518.75 123.19L519.38 124.3L520 123.75L520.62 124.11L521.25 123.97L521.88 123.88L522.5 123.12L523.13 120.08L523.75 119.18L524.38 118.12L525 120.5L525.63 123.06L526.25 125L526.88 126.53L527.5 126.58L528.12 126.71L528.75 127.53L529.38 127.98L530 128.75L530.62 128.61L531.25 128.6L531.88 127.57L532.5 127.5L533.12 125.84L533.75 124.71L534.38 124.98L535 123.12L535.62 124.89L536.25 125.57L536.87 126.35L537.5 127.21L538.12 127.5L538.75 128.33L539.37 129.63L540 130L540 128.12L540.62 128.63L541.25 130.48L541.88 131.36L542.5 133.12L543.12 134.57L543.75 134.59L544.38 135.86L545 136.88L545.63 138.62L546.25 140.74L546.88 141.25L547.69 143.2L548.5 146.25L549.21 143.09L549.91 141.82L550.62 138.75L551.25 137.35L551.87 137.82L552.5 136.88L553.12 135.54L553.75 134.93L554.38 132.79L555 133.12L555.63 134.87L556.25 135.28L556.88 136.88L557.5 137.71L558.13 141.25L558.75 141.25L559.5 141.12L560.25 140L561.07 140.27L561.88 135.62L562.5 135.07L563.13 133.71L563.75 133.12L564.62 129L565.25 130.04L565.87 132.04L566.5 131.88L567.22 131.02L567.94 130.51L568.66 129.71L569.38 128.5L570.19 128.61L571 130L571.88 132.9L572.75 135.62L573.57 138.4L574.38 141.88L575 140.59L575.63 141.65L576.25 140.62L576.88 139.53L577.5 137.5L578.25 138.8L579 140L580 136.88L580.62 137.49L581.25 139.38L581.87 136.1L582.5 135.97L583.12 133.75L583.75 132.64L584.37 130.48L585 130.62L585.63 130.37L586.25 129.14L586.88 130L587.69 128.61L588.5 127.25L589.25 131.54L590 135.62L590.62 133.37L591.25 130.62L591.87 130.07L592.5 129.33L593.12 128.5L593.93 129.08L594.75 131.25L595.5 130.36L596.25 130L596.88 131.2L597.5 133.12L598.12 155L599.12 175L599.87 171.71L600.62 168.75L601.25 171.44L601.88 173.75L602.5 174.18L603.12 173.75L603.75 172.18L604.37 166.53L605 165.62L605.62 168.09L606.25 170L607.07 172.36L607.88 175L608.59 174.43L609.29 171.32L610 168.5L610.75 169.03L611.5 171.88L612.31 171.53L613.12 170.62L613.75 169.84L614.37 170.49L615 169.38L615.63 170.31L616.25 172.64L616.88 174.38L617.5 173.66L618.13 173.06L618.75 172.5L619.38 172.03L620 171.09L620.62 172.63L621.25 172.25L622 171.57L622.75 169.45L623.5 168.12L624.25 167.6L625 168.5L625.75 170.64L626.5 172.5L627.31 172.4L628.12 171.5L628.75 170.04L629.37 168.82L630 167.5L630.63 167.24L631.25 164.22L631.88 163.75L632.59 161.78L633.29 159.25L634 159L634.62 160.26L635.25 162.5L636.07 162.61L636.88 163.75L637.5 162.03L638.13 161.18L638.75 160.62L639.37 161.25L640 159.24L640.62 158.75L641.25 157.42L641.87 157.79L642.5 155L643.25 156.83L644 158.75L644.81 159.91L645.62 163.5L646.25 161.41L646.88 158.75L647.5 157.16L648.12 156.88L648.75 159.9L649.37 159.75L650 162.5L650.75 163.65L651.5 165.62L652.25 164.92L653 166.53L653.75 166.88L654.37 167.42L655 169.33L655.62 170.62L656.25 170.98L656.87 171.44L657.5 173.16L658.12 173.12L658.75 173.46L659.37 172.54L660 171.56L660.62 171.88L661.33 170.59L662.04 170.98L662.75 170.25L663.57 173.17L664.38 172.75L665 172.35L665.63 172.03L666.25 172.5L666.88 172.32L667.5 172.36L668.12 172.76L668.75 173.75L669.5 174.86L670.25 176.25L671 196.88L671.62 177.5L672.37 176.63L673.12 173.75L673.75 174.17L674.37 174.23L675 175L675.63 172.83L676.25 173.07L676.88 171.88L677.69 169.05L678.5 166.25L679.25 162.89L680 161.25L681 158.75L681.75 159.55L682.5 161.88L683.13 161.64L683.75 162.17L684.38 161.25L685.19 158.56L686 155L686.75 156.7L687.5 158.12L688.13 157.69L688.75 157.93L689.38 157.5L690.09 159.16L690.79 162.35L691.5 162.5L692.12 160.93L692.75 160.68L693.38 161.05L694 159.38L694.75 160.03L695.5 162.04L696.25 161.88L697 161.85L697.75 161.98L698.5 161.88L699.12 165.68L699.75 170L700.38 172.47L701 176.88L701.62 173.7L702.25 171.88L702.88 172.18L703.5 169.38L704.38 172.02L705.25 173.75L706.07 180.42L706.88 186.25L707.5 191.6L708.12 195.62L708.93 193.21L709.75 190L710.5 189.97L711.25 188.5L711.87 189.65L712.5 191.01L713.12 192.5L713.93 191.44L714.75 189L715.5 187.06L716.25 185.62L717 185.94L717.75 188.12L718.57 184.21L719.38 180.62L720 181.49L720.63 183.56L721.25 184.38L721.87 184.29L722.5 184.46L723.12 185.62L723.75 184.55L724.37 185.04L725 183.12L725.75 184.03L726.5 185L727.31 183.55L728.12 181.88L728.75 180.63L729.37 179.58L730 178.12L730.63 179.81L731.25 181.18L731.88 181.25L732.5 181.14L733.13 184.29L733.75 184.38L734.37 185.83L735 187.07L735.62 188.75L736.25 191.47L736.87 190.72L737.5 191.88L738.12 194.18L738.75 193.75L739.37 193.18L740 190.53L740.62 190L741.25 191.38L741.87 192.6L742.5 193.12L743.25 194.91L744 196.88L745 183.12L745.62 181.31L746.25 182.75L747.25 190L748.12 187.5L749 196.25L749.81 195.38L750.62 195L751.43 192.99L752.25 191.25L753 191.72L753.75 193.75L754.37 196.28L755 196.08L755.62 197.5L756.25 197.64L756.87 198.12L757.5 198.75L758.25 200.08L759 202.5L759.81 203.21L760.62 205L761.25 206.01L761.88 206.88L762.5 206.94L763.13 206.21L763.75 206.34L764.38 206.25L765 202.99L765.63 202.04L766.25 199.38L766.87 199.9L767.5 201.61L768.12 202.5L768.75 202.7L769.37 203.81L770 205L770.63 206.4L771.25 206.65L771.88 208.75L772.5 211.73L773.13 211.22L773.75 212.5L774.38 214.95L775 217.5L775.63 218.45L776.25 221.54L776.88 221.88L777.5 224.1L778.13 224.58L778.75 225.62L779.5 221.23L780.25 218.75L781.07 219.02L781.88 220L782.5 217.93L783.12 215L783.93 215.27L784.75 216.25L785.62 217.61L786.5 220.62L787.31 223.85L788.12 228.75L789 232.5L789.62 228.21L790.25 225L791.07 228.13L791.88 231.25L792.5 228.71L793.13 227.1L793.75 225L794.38 225.39L795 221.88L795.63 223.95L796.25 222.82L796.88 224.38L797.5 223.58L798.13 222.35L798.75 221.25L799.5 219.28L800.25 217.5L801.07 220.42L801.88 221.88L802.5 220.71L803.12 220L803.75 221.86L804.37 223.9L805 226.25L805.63 225.56L806.25 225.9L806.88 224.38L807.5 221.79L808.12 218.12L808.93 219.06L809.75 221.88L810.5 220.63L811.25 220L812 222.57L812.75 226.25L813.57 228.7L814.38 230L815 231.41L815.63 233.12L816.25 233.75L816.88 235.58L817.5 237.5L818.12 246.25L818.75 230L819.37 228.46L820 229.9L820.62 229.38L821.25 233.6L821.88 237.5L822.75 248.75L823.75 239.38L824.37 239.94L825 238.88L825.62 240L826.25 239.22L826.87 237.85L827.5 237.5L828.12 235.46L828.75 234.38L829.37 235.04L830 235.45L830.62 235.62L831.25 231.87L831.87 228.17L832.5 226.25L833.12 223.58L833.75 223.97L834.38 224.22L835 222.5L835.75 223.71L836.5 225L837.31 223.73L838.12 225.62L838.75 221.48L839.37 218.84L840 215L840.75 218.36L841.5 219.38L842.31 219.26L843.12 217.5L843.75 216.51L844.37 215.14L845 213.75L845.62 213.17L846.25 213.75L846.88 213.99L847.5 214.38L848.12 213.52L848.75 213.79L849.38 213.16L850 213.12L850.62 212.23L851.25 211.88L851.87 210.27L852.5 208.92L853.12 207.5L853.75 208.16L854.37 208.1L855 210L855.62 210.55L856.25 211.63L856.88 211.17L857.5 212.5L858.12 214.78L858.75 215.08L859.38 216.98L860 218.12L860 215L860.63 215.81L861.25 216.2L861.88 218.12L862.5 220.82L863.13 219.81L863.75 221.88L864.37 223.06L865 222.57L865.62 223.5L866.25 222.53L866.87 220.6L867.5 220L868.25 218.25L869 217.72L869.75 215.62L870.5 218.23L871.25 218.12L871.87 216.28L872.5 215.63L873.12 214.38L873.75 214.51L874.37 212.87L875 213.28L875.62 212.25L876.25 212.01L876.87 213.3L877.5 213.49L878.12 213.5L878.75 214.93L879.37 214.92L880 215.25L880.62 214.66L881.25 216.22L881.88 215.23L882.5 216.25L883.13 214.9L883.75 213.55L884.38 210.62L885 211.87L885.63 211.9L886.25 213.12L886.87 213.41L887.5 212.16L888.12 211.5L888.75 210.72L889.37 211.44L890 212.78L890.62 211.88L891.5 218.75L891.88 230L892.75 225L893.38 227.91L894 231.25L894.67 232.59L895.33 233.51L896 235L896.71 232.78L897.41 232.56L898.12 231.88L898.75 231.09L899.37 229.94L900 228.75L900.63 230.29L901.25 230.59L901.88 233.75L902.5 236.79L903.12 238.12L903.75 236.12L904.37 233.84L905 230.62L905.62 234.35L906.25 236.25L906.87 237.19L907.5 238.33L908.12 240L908.75 241.68L909.37 244.09L910 244.38L910.63 244.45L911.25 246.71L911.88 248.12L912.5 248.66L913.13 250.6L913.75 251.25L914.37 252.07L915 250.62L915.62 250.62L916.25 247.25L916.88 245.62L917.5 245.11L918.13 244.34L918.75 244L919.37 244.5L920 247.79L920.62 248.75L921.25 249.63L921.87 251.73L922.5 252.5L923.13 252L923.75 254.1L924.38 253.75L925 252.32L925.63 253.65L926.25 252.5L926.87 251.86L927.5 254.72L928.12 254.38L929 247.5L929.75 247.44L930.5 246.82L931.25 248.12L932 246.09L932.75 244.38L933.5 245.86L934.25 246.18L935 248.12L936 240L936.75 237.96L937.5 236.62L938.13 238.35L938.75 239.59L939.38 241.25L940.09 240.02L940.79 242.78L941.5 244L942.25 243.59L943 242.79L943.75 241.88L944.5 240.92L945.25 238.06L946 236.88L946.75 239.29L947.5 238.12L948.13 238.06L948.75 237.09L949.38 236.25L950 237.63L950.62 237.5L951.43 236.92L952.25 235L953 238.2L953.75 241.25L954.5 244.25L955.25 248.12L956.07 251.03L956.88 252.5L957.5 256.55L958.12 260L958.93 259.93L959.75 262.5L960.62 268.12L961.25 266.31L961.87 266.37L962.5 265L963.25 265.28L964 265.61L964.75 265.62L965.62 276.25L966.5 281.25L967.5 288.75L968.25 288.57L969 287.5L969 292.5L969.81 293.54L970.62 294.38L971.25 296.11L971.87 295.21L972.5 296.25L973.13 296.18L973.75 296.9L974.38 296.88L975 298.65L975.63 299.92L976.25 300.62L976.87 302.91L977.5 302.79L978.12 304.38L978.93 304.88L979.75 303.75L980.38 300.64L981 296.88L981.88 297.4L982.75 299.38L983.57 302.09L984.38 305L985 307.71L985.62 307.5L986.43 305.86L987.25 303.12L987.88 301.86L988.5 299.57L989.12 299.8L989.75 299.38L990.5 300.76L991.25 303.12L991.87 304.01L992.5 306.4L993.12 305.62L993.75 307.4L994.37 308.35L995 309.38L995.63 310.6L996.25 312.3L996.88 315L997.5 314.23L998.13 313.42L998.75 313.12L999.37 315.64L1000 313.68L1000.62 314.38L1001.43 315.51L1002.25 317.5L1002.88 321.42L1003.5 323.75L1004.38 323.49L1005.25 323.12L1005.88 321.01L1006.5 320.62L1007.31 323.71L1008.12 325L1009 326.88L1009.81 324.16L1010.62 321.88L1011.43 320.01L1012.25 320L1013 321.78L1013.75 323.12L1014.37 324.09L1015 324.14L1015.62 325L1016.25 324.86L1016.87 324.32L1017.5 323.12L1018.25 318.75L1019 315.62L1019.81 316.99L1020.62 321.25L1021.43 319.89L1022.25 321.88L1022.88 324.6L1023.5 327.5L1024.12 332.11L1024.75 335L1025.5 338.2L1026.25 340L1027 343.47L1027.75 345L1028.57 346.61L1029.38 345.62L1030.62 352.5L1031.43 355.01L1032.25 357.5L1032.88 359.49L1033.5 360L1034.25 357.37L1035 356.88L1035.63 356.94L1036.25 356.31L1036.88 355.62L1038.12 351.88L1038.75 343.75L1039.38 346.18L1040 348.75L1041 355L1041.88 365L1043.12 361.25L1043.75 360.01L1044.38 359.38L1045.62 363.75L1046.43 365.15L1047.25 368.12L1048 370.72L1048.75 373.12L1049.5 367.45L1050.25 360L1051.07 356.3L1051.88 353.12L1052.69 351.31L1053.5 348.75L1054.21 348.91L1054.91 350.17L1055.62 350.62L1056.25 350.54L1056.87 352.14L1057.5 352.5L1058.25 352.97L1059 353.75L1059.62 357.1L1060.25 360L1060.88 356.45L1061.5 353.75L1062.31 351.99L1063.12 351.88L1063.93 348.21L1064.75 345L1065.5 347.92L1066.25 349.38L1067 349.44L1067.75 347.07L1068.5 346.25L1069.25 348.37L1070 349.38L1070.63 350.74L1071.25 351.32L1071.88 351.88L1072.5 350.37L1073.13 351.27L1073.75 350.62L1074.37 350.77L1075 353.11L1075.62 353.12L1076.25 354.93L1076.87 356.06L1077.5 356.88L1078.13 353.85L1078.75 354.81L1079.38 353.12L1080.01 353.92L1080.63 352.86L1081.26 354.74L1081.88 354.38L1082.5 354.81L1083.13 355L1083.75 355L1084.38 355.16L1085 356.25L1085.63 354.49L1086.25 355.5L1086.88 351.88L1088.12 348.75L1088.75 349.52L1089.37 350.14L1090 350.62L1090.62 349.55L1091.25 349.38L1091.87 349.36L1092.5 349.82L1093.12 350.62L1093.75 348.54L1094.37 348.32L1095 346.25L1095.62 343.88L1096.25 341.88L1096.87 343.11L1097.5 342.32L1098.12 343.75L1098.75 342.94L1099.37 340.82L1100 339.38L1100.62 341.72L1101.25 343.12L1101.88 345.24L1102.5 347.5L1103.13 346.05L1103.75 346.68L1104.38 345L1105 344.28L1105.63 344.06L1106.25 343.75L1106.87 342.09L1107.5 341.81L1108.12 340.62L1108.75 341.39L1109.37 342.9L1110 343.75L1110.63 344.41L1111.25 344.1L1111.88 345L1112.75 334.38L1113.57 336.83L1114.38 341.25L1115.25 325L1116.25 318.12L1116.88 321.86L1117.5 325L1118.13 325.23L1118.75 324.65L1119.38 323.75L1120.62 317.5L1121.5 313.12L1122.31 315.13L1123.12 318.75L1123.75 316.99L1124.38 314.38L1125 316.11L1125.63 317.49L1126.25 318.75L1126.88 318.43L1127.5 317.5L1128.12 319.46L1128.75 321.88L1129.37 321.61L1130 321.69L1130.62 320.62L1131.25 322.14L1131.87 323.37L1132.5 326.25L1133.12 328.36L1133.75 330.62L1134.5 329.82L1135.25 328.75L1136.07 330.27L1136.88 334.38L1138.12 337.5L1138.75 336.19L1139.37 336.25L1140 335L1140.63 336.98L1141.25 339.23L1141.88 341.25L1143.12 343.75L1143.93 341.3L1144.75 340.62L1145.5 344.07L1146.25 346.25L1146.88 349.35L1147.5 350L1148.13 350.49L1148.75 350.74L1149.38 351.88L1150 350.44L1150.63 351.25L1151.25 350L1151.88 353.2L1152.5 356.25L1153.12 357.57L1153.75 360L1154.38 358.97L1155 356.25L1155.75 358.04L1156.5 358.75L1157.31 356.99L1158.12 354.38L1158.93 350.65L1159.75 349.38L1160.46 350.14L1161.17 351.48L1161.88 351.88L1162.5 348.1L1163.13 346.69L1163.75 343.12L1164.38 347.56L1165 350L1165.63 351.76L1166.25 351.57L1166.88 353.12L1167.5 350.75L1168.13 350.03L1168.75 347.5L1169.37 345.49L1170 342.95L1170.62 339.38L1171.25 340.84L1171.87 340.56L1172.5 341.25L1173.12 344.71L1173.75 348.75L1174.37 346.41L1175 347.21L1175.62 345.62L1176.43 348.46L1177.25 348.12L1177.88 344.99L1178.5 342.5L1179.25 339.98L1180 338.12L1180.75 335.51L1181.5 332L1182.25 331.26L1183 330L1183.75 331.04L1184.5 334L1185.5 337L1185.62 512.5L1186.5 496.25L1187.5 496.88L1188.5 502.5L1189.12 507.62L1189.75 513.75L1190.5 515.17L1191.25 518.12L1191.88 521.1L1192.5 521.25L1193.12 517.62L1193.75 515L1194.5 510.29L1195.25 504.38L1196.07 506.66L1196.88 506.25L1197.5 504.87L1198.13 501.83L1198.75 498.12L1199.5 500.2L1200.25 500L1201.07 496.01L1201.88 493.75L1202.5 493.01L1203.13 492.24L1203.75 492.25L1204.37 492.96L1205 495.92L1205.62 495L1206.24 494.29L1206.87 496.33L1207.49 495.54L1208.12 496.88L1208.75 497.61L1209.37 497.37L1210 496.25L1210.63 496.1L1211.25 498.12L1211.88 496.88L1212.51 496.21L1213.13 496.35L1213.76 494.94L1214.38 494L1215.01 494.23L1215.63 494.98L1216.26 495.79L1216.88 496.5L1217.59 496.64L1218.29 496L1219 495.62L1219.62 499.77L1220.25 500.62L1221.07 503.3L1221.88 506.25L1222.5 504.26L1223.13 502.41L1223.75 501.25L1224.37 500.29L1225 499.41L1225.62 500L1226.24 499.47L1226.87 500.94L1227.49 500.51L1228.12 500.62L1228.75 500.09L1229.37 500.04L1230 499.38L1230.63 499.17L1231.25 497.89L1231.88 496.5L1232.5 498L1233.13 498.03L1233.75 499.38L1234.37 499.82L1235 500.08L1235.62 501.25L1236.43 502.75L1237.25 504.38L1238 505.37L1238.75 507.5L1239.37 506.82L1240 506.54L1240.62 506.25L1241.25 506.93L1241.87 507.73L1242.5 508.75L1243.25 508.72L1244 509.38L1244.62 507.48L1245.25 503.75L1246.07 501.33L1246.88 499.38L1247.5 499.71L1248.13 501.6L1248.75 502.5L1249.37 501.11L1250 500.5L1250.62 500.62L1251.25 501.51L1251.87 501.12L1252.5 503.12L1253.13 500.24L1253.75 502.08L1254.38 501.25L1255.19 504.16L1256 505.62L1256.75 504.77L1257.5 506.25L1258.25 505.94L1259 506.88L1260 517.5L1260.62 523.12L1261.43 525.4L1262.25 526.88L1262.88 527.67L1263.5 531.25L1264.25 528.14L1265 526.25L1265.63 526.24L1266.25 527.78L1266.88 528.75L1268.12 537.5L1268.75 541.74L1269.38 548.75L1270.19 545.94L1271 541.88L1271.75 543.96L1272.5 546.25L1273.25 548.96L1274 551.25L1274.67 549.56L1275.33 546.85L1276 546.88L1276.62 550.21L1277.25 553.75L1278 552.5L1278.75 553.12L1279.75 562.5L1280.62 570L1281.25 571.05L1281.87 571.48L1282.5 573.12L1283.13 571.44L1283.75 570.06L1284.38 568.75L1285.01 568.35L1285.63 567.41L1286.26 565.23L1286.88 565L1287.69 566.55L1288.5 568.12L1289.38 567.89L1290.25 565.62L1291.07 562.53L1291.88 558.75L1292.75 558.12L1293.57 560.11L1294.38 563.12L1295.09 564.08L1295.79 564.96L1296.5 566.25L1297.31 565.34L1298.12 563.12L1298.83 561.9L1299.54 560.89L1300.25 559.38L1301.07 558.11L1301.88 553.75L1302.69 550.6L1303.5 549.38L1304.21 548.88L1304.91 548.58L1305.62 550L1306.25 550.55L1306.87 553.93L1307.5 555L1308.13 555.41L1308.75 556.56L1309.38 555.62L1310 555.07L1310.63 556.67L1311.25 558.12L1311.87 558.72L1312.5 558.01L1313.12 556.88L1313.75 555.62L1314.38 553.12L1315.19 555.3L1316 556.25L1316.75 557.84L1317.5 559.38L1318.13 560.21L1318.75 561.07L1319.38 561.88L1320 564.14L1320.63 565.1L1321.25 566.88L1322 568.77L1322.75 571.23L1323.5 571.88L1324.25 569.84L1325 569.38L1325.62 566.79L1326.25 565.25L1327 568.65L1327.75 571.25L1328.57 573.57L1329.38 576.25L1330.62 581.88L1331.25 582.71L1331.88 583.75L1332.75 576.25L1333.5 561.25L1334.12 559.59L1334.75 555L1335.62 550.62L1336.43 553.41L1337.25 555.62L1338 556.89L1338.75 558.75L1339.75 563.75L1340.62 562.64L1341.5 560L1342.31 564.89L1343.12 566.25L1343.75 565.26L1344.37 565.36L1345 565.62L1345.75 564.87L1346.5 563.51L1347.25 563.12L1347.96 565.68L1348.67 565.57L1349.38 566.25L1350 566.18L1350.63 567.01L1351.25 566.88L1352 564.44L1352.75 563.12L1353.57 564.58L1354.38 566.88L1355.62 570.62L1356.5 576.88L1357.31 577.26L1358.12 577.5L1358.75 580L1359.37 577.59L1360 580L1360.62 580.45L1361.25 581.26L1361.88 580.98L1362.5 580.62L1363.12 585.41L1363.75 587.5L1364.38 592.19L1365 596.25L1365.75 598.23L1366.5 600L1367.12 595.85L1367.75 591.88L1368.57 591.9L1369.38 593.12L1370.19 593.01L1371 590.62L1371.75 592.61L1372.5 596.25L1373.25 597.41L1374 598.75L1374.81 593.38L1375.62 588.75L1376.25 589.24L1376.87 589.28L1377.5 591.88L1378.25 593.17L1379 595L1380 601.25L1380.75 599.78L1381.5 598.12L1382.31 601.04L1383.12 603.75L1384 612.5L1384.62 616.53L1385.25 619.38L1386.07 614.89L1386.88 610.62L1388.12 608.12L1388.75 609.13L1389.37 611.26L1390 612.5L1390.63 612.55L1391.25 611.03L1391.88 611.25L1392.5 611.02L1393.13 612.2L1393.75 613.75L1394.5 614.07L1395.25 613.62L1396 612.5L1396.75 614.07L1397.5 616.88L1398.13 617.79L1398.75 619.13L1399.38 619.38L1400 620.72L1400.63 619.75L1401.25 620.62L1402 619.83L1402.75 619.38L1403.57 621.62L1404.38 621.88L1405.62 616.25L1406.5 618.75L1407.12 630L1407.5 692.5L1408.5 688.75L1409 705L1409.75 722.5L1410.62 732.5L1411.5 740L1412.25 727.5L1413.12 738.75L1414 728.12L1415 733.75L1416 716.88L1416.62 722L1417.25 723.75L1417.88 723.89L1418.5 721.88L1419.25 724.52L1420 728.75L1420.75 730.31L1421.5 731.25L1422.31 731.36L1423.12 731.88L1423.75 735.27L1424.38 738.75L1425.25 745.62L1425.88 742.66L1426.5 740.62L1427.31 741.85L1428.12 743.75L1429 752.5L1430 762.5L1430.62 769.38L1431.43 765.93L1432.25 762.5L1433 762.2L1433.75 759.38L1434.38 757.05L1435 753.75L1435.62 759.05L1436.25 763.75L1436.88 761.27L1437.5 758.75L1438.12 762.6L1438.75 767.5L1439.38 770.46L1440 773.75L1440.62 774.3L1441.25 773.12L1442.25 783.12L1443.12 784.38L1443.5 750L1444 733.75L1444.75 730.62L1445.62 742.5L1446.5 751.25L1447.5 738.75L1448.12 731.42L1448.75 723.75L1449.5 721.69L1450.25 716.88L1450.88 724.74L1451.5 732.5L1452.31 726.86L1453.12 721.25L1453.75 725.43L1454.38 731.88L1455.62 723.75L1456.43 728.4L1457.25 732.5L1457.88 725.35L1458.5 720.62L1459.25 724.82L1460 726.88L1460.75 727.06L1461.5 728.12L1462.31 731.56L1463.12 735L1463.75 736.55L1464.38 740L1465.62 747.5L1466.43 748.71L1467.25 750.62L1468.12 760L1468.75 765.6L1469.38 772.5L1470 783.75L1470.75 779.54L1471.5 773.75L1472.5 783.75L1473.12 787.67L1473.75 791.25L1474.75 796.25L1475.5 792.3L1476.25 790L1476.87 788.02L1477.5 788.7L1478.12 788.12L1478.75 790.28L1479.38 793.12L1479.75 770L1480.62 766.25L1481.25 776.02L1481.88 786.25L1483.12 787.5L1484 776.25L1485 766.25L1485.63 768.12L1486.25 769.03L1486.88 770.62L1488.12 768.12L1488.75 772.89L1489.38 777.5L1490.62 786.25L1491.5 799.38L1492.12 793.03L1492.75 787.5L1493.57 789.6L1494.38 792.5L1495.19 789.68L1496 787.5L1496.71 784.5L1497.41 784.19L1498.12 781.88L1498.75 784.97L1499.38 787.5L1500.19 783.79L1501 782.5L1501.75 785.7L1502.5 788.75L1503.13 789.97L1503.75 789.75L1504.38 790L1505.19 790.6L1506 789.38L1506.75 790.44L1507.5 791.88L1508.5 800L1509.38 807.5L1510.25 824.38L1510.88 820.63L1511.5 816.88L1512.31 815.66L1513.12 816.25L1514 820.62L1514.62 818.74L1515.25 818.12L1515.88 813.41L1516.5 811.25L1517.31 807.19L1518.12 804.38L1519 792.5L1520 780L1520.75 779.55L1521.5 778.75L1522.12 780.68L1522.75 781.88L1523.38 779.88L1524 776.25L1524.62 773.22L1525.25 770L1525.88 773.68L1526.5 778.75L1527.12 777.18L1527.75 775L1528.75 783.75L1529.75 792.5L1530.62 798.75L1531.25 794.27L1531.88 790L1533.12 785L1533.75 784.06L1534.38 780.62L1535.62 767.5L1536.25 762.93L1536.88 755.62L1537.69 756.61L1538.5 756.25L1539.25 758.58L1540 762.5L1540.62 758.69L1541.25 755.62L1542 756.07L1542.75 756.25L1543.57 753.88L1544.38 752.5L1545.25 766.25L1546.07 767.87L1546.88 768.75L1547.69 770.8L1548.5 771.88L1549.21 769.97L1549.91 767.04L1550.62 764.38L1551.25 767.82L1551.88 772.5L1553.12 778.75L1554 793.75L1554.81 788.16L1555.62 783.75L1556.5 795L1557.5 815L1558.12 823.41L1558.75 831.88L1559.5 827.49L1560.25 821.25L1561.25 825L1561.88 821.1L1562.5 815L1563.25 818.18L1564 820L1564.81 823.38L1565.62 826.25L1566.25 822.14L1566.87 817.66L1567.5 812.5L1568.25 817.78L1569 821.25L1569.81 820.28L1570.62 818.12L1571.25 818.71L1571.87 822.12L1572.5 823.12L1573.13 820.68L1573.75 817.38L1574.38 815L1575.09 817.03L1575.79 818.54L1576.5 820L1577.31 818.71L1578.12 817.5L1578.93 821.63L1579.75 828.12L1580.62 828.51L1581.5 828.75L1582.31 831.32L1583.12 833.12L1583.75 834.13L1584.37 834.09L1585 836.25L1585.62 838.76L1586.25 840.62L1587.12 845.62L1587.93 841.44L1588.75 836.25L1589.37 835.13L1590 834.05L1590.62 832.5L1591.25 835.59L1591.87 838.71L1592.5 842.5L1593.25 837.56L1594 831.88L1594.81 834.44L1595.62 837.5L1596.25 838.25L1596.88 838.75L1598.12 831.88L1599 813.75L1599.62 786.25L1600 771.25L1600.62 787.5L1601.5 800L1602.12 799.78L1602.75 795L1603.38 798.31L1604 800.62L1605 793.12L1606 805L1606.62 801.65L1607.25 798.12L1607.88 799.8L1608.5 803.75L1609.12 802.88L1609.75 801.88L1610.62 808.75L1611.5 820L1612.5 825L1613.12 821.47L1613.75 816.88L1614.38 815.76L1615 815.62L1615.62 818.27L1616.25 821.25L1617.25 831.25L1617.88 829.99L1618.5 831.88L1619.12 832.27L1619.75 831.88L1620.38 828.33L1621 825.62L1621.62 823.29L1622.25 820L1622.88 819.71L1623.5 817.5L1624.25 821.14L1625 825L1626 828.12L1626.88 826.25L1627 765L1628.12 761.88L1629 756.25L1629.62 754.44L1630.25 751.25L1631 745L1632.12 741.88L1633.12 747.5L1633.75 750.18L1634.38 752.5L1635.19 750.17L1636 748.12L1636.75 750.42L1637.5 753.12L1638.25 750.65L1639 749.38L1639.81 752.46L1640.62 753.75L1641.25 749.05L1641.88 743.12L1643.12 748.12L1643.93 747.73L1644.75 748.75L1645.5 749.34L1646.25 748.75L1646.88 750.74L1647.5 753.75L1648.12 754.57L1648.75 757.5L1649.38 755.21L1650 751.25L1650.63 749.52L1651.25 750.41L1651.88 748.75L1652.5 748.06L1653.13 747.71L1653.75 746.25L1654.5 742.86L1655.25 738.75L1656.07 737.99L1656.88 735.62L1658.12 740.62L1658.75 738.16L1659.37 735.61L1660 732.5L1660.75 734.86L1661.5 736.88L1662.31 736.4L1663.12 734.38L1663.75 734.11L1664.37 735.09L1665 734.38L1665.63 733.97L1666.25 731.42L1666.88 730L1667.69 726.87L1668.5 723.12L1669.21 721.93L1669.91 721.25L1670.62 720.62L1671.25 723.93L1671.88 726.88L1672.5 727.89L1673.13 728.75L1673.75 730.62L1674.37 729.56L1675 728.67L1675.62 727.5L1676.25 727.52L1676.87 727.58L1677.5 726.88L1678.5 723.12L1679.25 725.32L1680 730L1680.63 732.86L1681.25 733.63L1681.88 735.62L1682.69 737.27L1683.5 740L1684.25 740.68L1685 741.88L1685.75 738.75L1686.5 735L1687.31 738.73L1688.12 741.25L1688.75 743.18L1689.38 745.62L1690.62 741.25L1691.25 743.44L1691.87 744.3L1692.5 747.5L1693.13 747.62L1693.75 747.42L1694.38 747.5L1695 746.16L1695.63 746.04L1696.25 744.38L1696.87 744.59L1697.5 743.02L1698.12 741.25L1698.75 737.89L1699.38 735.62L1700.25 747.5L1700.62 758.75L1701.25 747.5L1701.88 744.19L1702.5 738.75L1703.13 737.89L1703.75 737.47L1704.38 736.88L1705.62 725.62L1706.25 729.9L1706.88 735L1707.5 735.32L1708.13 735.39L1708.75 735L1709.5 732.6L1710.25 730L1711.25 721.25L1711.88 719.85L1712.5 718.75L1713.25 714.58L1714 710.62L1714.62 712.84L1715.25 715.62L1716.07 719.11L1716.88 721.25L1717.69 720.26L1718.5 720L1719.25 717.4L1720 715L1720 715.62L1720.62 717.55L1721.25 719.24L1721.87 721.84L1722.49 723.08L1723.11 723.62L1723.73 726.33L1724.35 727.44L1724.97 726.42L1725.59 724.43L1726.22 724.33L1726.84 721.84L1727.55 720.65L1728.25 720.99L1728.96 719.98L1729.7 722.38L1730.45 723.75L1731.19 726.19L1731.81 724.78L1732.44 724.32L1733.06 722.46L1733.68 720.22L1734.31 718.1L1734.93 715.62L1735.86 716.91L1736.79 716.24L1737.41 694.48L1738.03 696.29L1738.66 696.63L1739.28 699.45L1739.9 699.35L1740.52 700.87L1741.14 700.7L1741.76 703.3L1742.39 705.33L1743.01 708.78L1743.63 705.54L1744.25 705.05L1745.06 704.03L1745.87 702.56L1746.74 708.89L1747.61 713.13L1748.23 709.77L1748.86 708.16L1749.85 718.73L1750.47 715.77L1751.1 716.18L1751.72 714.38L1752.65 714.62L1753.58 715.62L1754.2 713.97L1754.83 712.5L1755.45 711.27L1756.32 709.4L1757.13 711.26L1757.94 714.38L1758.74 715.93L1759.55 716.87L1760.42 724.95L1761.04 725.18L1761.67 724.38L1762.29 723.71L1762.91 721.77L1763.53 720.6L1764.15 723.81L1764.78 725.57L1765.53 723.63L1766.27 721.84L1766.89 724.73L1767.51 726.82L1768.13 730.52L1768.76 735.52L1769.38 734.73L1770 733.03L1770.81 730.44L1771.62 726.82L1772.24 727.92L1772.86 727.25L1773.48 727.44L1773.86 685.77L1774.61 682.97L1775.35 679.55L1775.97 676.04L1776.59 673.33L1777.21 670.21L1777.84 665.87L1778.71 660.27L1779.51 663.61L1780.32 665.87L1780.94 666L1781.57 664.63L1782.19 662.5L1782.81 660.05L1783.43 659.03L1784.05 657.12L1784.68 655.15L1785.3 653.43L1786.11 650.74L1786.92 649.08L1787.66 651.06L1788.41 652.19L1789.16 654.09L1789.9 654.95L1790.65 655.92L1791.35 657.73L1792.06 658.27L1792.76 659.03L1793.38 658.66L1794 659.65L1794.62 662.67L1795.25 666.49L1795.87 663.14L1796.49 660.27L1797.2 659.5L1797.9 658.42L1798.61 656.54L1799.36 656.22L1800.1 656.42L1800.85 655.3L1801.47 655.97L1802.09 657.71L1802.71 659.03L1803.33 661.1L1803.96 661.41L1804.58 662.14L1805.2 663.9L1805.82 662.91L1806.44 665.25L1807.06 662.65L1807.69 661.75L1808.31 660.9L1809.05 660.35L1809.8 658.41L1810.8 654.68L1811.55 658.91L1812.29 660.9L1813.1 656.74L1813.91 653.43L1814.84 653.69L1815.77 655.3L1816.39 653.98L1817.02 653.44L1817.64 653.43L1818.26 652.89L1818.88 651.57L1820.12 654.05L1820.93 651.04L1821.74 648.46L1822.61 648.2L1823.48 645.35L1824.29 646.78L1825.1 647.21L1825.91 648.92L1826.72 651.57L1827.47 650.8L1828.21 649.7L1828.95 651.46L1829.7 653.43L1830.51 650.87L1831.32 647.21L1831.94 647.53L1832.56 646.59L1833.18 647.29L1833.81 648.46L1834.43 647.21L1835.05 644.73L1835.67 643.26L1836.3 640.94L1836.92 639.13L1837.85 636.82L1838.78 634.15L1839.59 635.87L1840.4 636.64L1841.27 633.31L1842.14 630.42L1842.95 628.72L1843.76 627.94L1844.69 628.5L1845.62 627.31L1846.36 629.5L1847.11 631.67L1847.49 612.39L1848.11 602.44L1848.73 608.87L1849.35 616.12L1849.97 615.2L1850.6 613.63L1851.59 604.3L1852.21 602.36L1852.84 602.44L1853.59 606.83L1854.33 611.14L1854.95 614.56L1855.57 619.85L1856.19 621.73L1856.82 624.2L1857.44 637.89L1858.06 635.42L1858.68 635.4L1859.55 643.48L1860.17 644.85L1860.8 647.21L1861.61 645.03L1862.41 641.62L1863.22 638.39L1864.03 635.4L1864.65 630.21L1865.27 626.69L1866.02 629.44L1866.77 629.8L1867.39 634.34L1868.01 639.75L1868.63 641.19L1869.26 640.22L1869.88 641L1870.68 638.13L1871.49 637.26L1872.24 637.6L1872.99 635.4L1873.74 633.86L1874.48 632.91L1875.1 636.24L1875.72 638.51L1876.53 641.82L1877.34 643.48L1878.21 655.3L1879.02 657.82L1879.83 662.14L1880.45 665.92L1881.07 669.6L1881.69 670.45L1882.31 672.09L1883.12 675.62L1883.93 678.31L1884.43 687.01L1885.05 682.96L1885.67 678.93L1886.48 680.55L1887.29 683.91L1887.91 682.71L1888.53 681.42L1889.15 676.66L1889.78 670.85L1890.4 671.27L1891.02 672.48L1891.64 672.71L1892.39 675.46L1893.13 678.93L1893.76 683.87L1894.38 688.88L1895.62 682.04L1896.43 682.28L1897.24 682.04L1898.05 681.21L1898.86 680.17L1899.61 682.6L1900.35 683.28L1901.09 683.32L1901.84 682.04L1902.65 685.73L1903.46 688.26L1904.26 685.96L1905.07 682.66L1905.95 677.06L1906.88 675.31L1907.81 673.33L1908.43 670.67L1909.06 670.34L1909.68 667.74L1910.3 672.36L1910.92 674.58L1911.73 675.98L1912.54 677.06L1913.41 682.04L1914.03 678.45L1914.65 675.2L1915.46 677.35L1916.27 679.55L1917.01 679.14L1917.76 677.06L1918.38 677.68L1919.01 677.22L1919.63 678.31L1920.62 705L1921 715L1921.62 723.72L1922.25 732.5L1922.88 736.98L1923.5 742.5L1924.12 748.62L1924.75 755L1925.5 753.14L1926.25 752.5L1926.88 755.03L1927.5 758.75L1928.12 764.15L1928.75 767.5L1929.75 777.5L1930.38 768.97L1931 760L1931.62 762.03L1932.25 766.25L1933 760.58L1933.75 756.25L1934.37 756.16L1935 756.41L1935.62 756.88L1936.25 758.75L1936.88 762.5L1937.69 768.11L1938.5 772.5L1939.25 774.84L1940 779.38L1940.75 778.92L1941.5 777.5L1942.31 775.79L1943.12 773.12L1943.93 774.44L1944.75 776.25L1945.5 778.31L1946.25 781.25L1946.88 784.42L1947.5 787.5L1948.25 790.11L1949 792.5L1949.81 787.01L1950.62 784.38L1951.43 785.71L1952.25 788.75L1952.88 783.49L1953.5 777.5L1954.25 779.31L1955 781.25L1955.75 777.85L1956.5 775L1957.31 771.83L1958.12 770L1958.75 769.94L1959.37 770.32L1960 771.25L1960.62 778.48L1961.25 781.88L1962 776.96L1962.75 773.75L1963.57 775.74L1964.38 775.62L1965.62 780L1966.25 784.08L1966.88 787.5L1967.5 789.52L1968.13 791.39L1968.75 793.12L1969.37 789.74L1970 787.98L1970.62 783.75L1971.43 787.85L1972.25 791.25L1973.12 789.99L1974 788.75L1974.81 787.42L1975.62 786.25L1976.25 786.08L1976.88 785.62L1977.69 778.91L1978.5 773.75L1979.25 776.66L1980 780L1980.75 781.45L1981.5 783.75L1982.31 786.68L1983.12 788.75L1983.93 791.67L1984.75 793.75L1985.38 794.66L1986 798.12L1986.88 805L1987.69 807.04L1988.5 809.38L1989.12 811.93L1989.75 813.12L1990.38 815.99L1991 820.62L1991.62 815.76L1992.25 812.5L1993 816.32L1993.75 818.75L1994.75 803.75L1995.62 819.38L1996.25 823.36L1996.88 827.5L1998.12 821.25L1998.75 805L1999.75 794.38L2000.38 803.97L2001 813.75L2001.75 809.8L2002.5 807.5L2003.13 806.37L2003.75 804.62L2004.38 803.75L2005.19 809.53L2006 815L2006.75 811.86L2007.5 808.12L2008.25 812.99L2009 816.88L2009.62 818.85L2010.25 821.25L2010.88 822.15L2011.5 823.75L2012.12 820.03L2012.75 816.25L2013.38 812.44L2014 808.75L2014.67 807.21L2015.33 805.06L2016 803.75L2016.75 806.72L2017.5 810L2018.13 811.27L2018.75 812.94L2019.38 815L2020.19 812.3L2021 809.38L2021.75 807.05L2022.5 803.12L2023.12 795.51L2023.75 788.12L2024.5 789.78L2025.25 790.62L2025.88 793.68L2026.5 796.25L2027.31 793.52L2028.12 790.62L2028.75 791.09L2029.37 790.24L2030 790.62L2030.63 789.97L2031.25 788.75L2031.88 787.5L2032.69 788.24L2033.5 793.75L2034.12 795.87L2034.75 797.5L2035.5 799.48L2036.25 800.62L2036.87 798.84L2037.5 793.65L2038.12 791.25L2038.93 794.45L2039.75 797.5L2040.62 799.62L2041.5 801.25L2042.5 810L2043.5 818.12L2044.12 814.03L2044.75 811.25L2045.38 809.58L2046 806.25L2046.88 810.63L2047.75 814.38L2048.57 811.65L2049.38 810L2050.19 810.74L2051 813.12L2051.75 816.59L2052.5 820.62L2053.13 822.88L2053.75 823.36L2054.38 822.5L2055 818.1L2055.63 815.84L2056.25 814.38L2057 817.65L2057.75 820L2058.38 821.49L2059 823.12L2059.81 821.44L2060.62 820.62L2061.25 819.79L2061.87 818.2L2062.5 816.88L2063.12 813.95L2063.75 810.62L2064.75 808.12L2065.62 820L2066.5 830L2067.5 827.5L2068.12 800L2068.93 802.06L2069.75 803.75L2070.5 802.07L2071.25 801.88L2071.87 803.83L2072.5 803.65L2073.12 805L2073.75 807.03L2074.38 807.5L2075.62 796.88L2076.25 793.92L2076.88 790L2077.5 789.61L2078.13 789.27L2078.75 788.75L2079.37 790.81L2080 791.66L2080.62 795L2081.43 793.22L2082.25 791.88L2083 789.36L2083.75 786.25L2084.5 780.77L2085.25 777.5L2086.07 778.67L2086.88 781.88L2087.5 780.13L2088.13 777.44L2088.75 774.38L2089.5 776.13L2090.25 780L2091.07 777.2L2091.88 773.75L2092.69 776.85L2093.5 780L2094.25 780.37L2095 779.38L2095.63 780L2096.25 780.9L2096.88 781.88L2097.69 783.55L2098.5 786.25L2099.12 788.56L2099.75 790.62L2100.5 788.98L2101.25 787.5L2102 782.68L2102.75 778.75L2103.38 773.83L2104 769.38L2104.62 765.12L2105.25 761.88L2105.92 760.44L2106.58 757.42L2107.25 756.25L2108 760.18L2108.75 766.25L2109.38 768.72L2110 772.5L2110.75 771.69L2111.5 769.38L2112.12 770.29L2112.75 771.88L2113.57 768.26L2114.38 763.75L2115 763.64L2115.63 762.16L2116.25 761.88L2116.87 761.36L2117.5 760.15L2118.12 758.75L2118.93 763.72L2119.75 768.75L2120.5 761.7L2121.25 755.62L2122 758.4L2122.75 761.25L2123.57 757.25L2124.38 755L2125 751.9L2125.63 748.77L2126.25 746.25L2126.88 750.31L2127.5 753.75L2128.25 757.11L2129 760L2129.62 762.69L2130.25 766.25L2131.07 764.67L2131.88 761.88L2133.12 759.38L2133.93 765.21L2134.75 769.38L2135.5 766.61L2136.25 763.75L2137 762.62L2137.75 762.5L2138.57 759.1L2139.38 755L2140.62 760L2141.25 736.25L2141.88 728.32L2142.5 723.75L2143.13 724.39L2143.75 726.24L2144.38 726.88L2145 728.89L2145.63 727.62L2146.25 728.75L2146.87 732.52L2147.5 735.78L2148.12 736.88L2148.75 733.81L2149.37 726.5L2150 723.75L2150.62 721.39L2151.25 717.5L2152 717.64L2152.75 718.2L2153.5 717.5L2154.38 716.88L2155.25 716.5L2156.07 717.83L2156.88 720L2157.69 721.41L2158.5 723.12L2159 724.38L2160 725L2160.62 720.42L2161.25 713.75L2161.88 717.46L2162.5 720L2163.12 713.55L2163.75 707.5L2164.75 705.62L2165.5 707.77L2166.25 709.38L2167 708.42L2167.75 706.25L2168.57 704.46L2169.38 701.88L2170 701.02L2170.63 699.76L2171.25 699.38L2171.88 696.99L2172.5 695.62L2173.5 685L2174.12 685.01L2174.75 685.62L2175.5 688.68L2176.25 692.5L2176.87 689.24L2177.5 687.19L2178.12 686L2178.93 688.61L2179.75 690L2180.5 692.35L2181.25 696.25L2182 696.91L2182.75 699.38L2183.57 697.16L2184.38 695L2185 695.38L2185.63 694.62L2186.25 693.12L2187 688.78L2187.75 685L2188.57 685.54L2189.38 687.5L2190.19 690.57L2191 694.38L2191.62 690.31L2192.25 687.5L2193 683.37L2193.75 680L2194.37 682L2195 682.6L2195.62 685L2196.25 680.71L2196.88 677.5L2198.12 670L2198.93 668.88L2199.75 668.12L2200.38 664.67L2201 661.25L2201.75 664.47L2202.5 668.75L2203.12 665.08L2203.75 662.5L2204.5 660.78L2205.25 660.62L2206.07 662.29L2206.88 665L2207.69 667.24L2208.5 668.75L2209.25 667.65L2210 666.88L2210.62 667.53L2211.25 672.5L2211.88 675.43L2212.5 677.5L2213.5 685L2214.38 695L2215.25 710L2215.88 704.95L2216.5 700L2217.31 698.46L2218.12 698.12L2218.93 700.13L2219.75 702.5L2220.38 705.71L2221 713.12L2221.75 707.91L2222.5 705L2223.13 704.35L2223.75 703.57L2224.38 700.62L2225.19 704.33L2226 705L2226.75 706.99L2227.5 710L2228.13 710.24L2228.75 710.96L2229.38 710.62L2230.62 709.38L2231.43 711.34L2232.25 715L2233 718.09L2233.75 718.75L2234.38 720.43L2235 723.12L2235.75 724.62L2236.5 725.62L2237.12 725.13L2237.75 726.25L2238.57 723.38L2239.38 720L2240.19 722.49L2241 725L2241.62 727.63L2242.25 728.75L2243.12 731.88L2243.93 727.64L2244.75 725L2245.38 721.87L2246 718.75L2246.62 717.21L2247.25 713.12L2248 715.1L2248.75 718.75L2249.5 718.37L2250.25 717.5L2250.88 720L2251.5 721.88L2252.12 719.34L2252.75 717.5L2253.57 717L2254.38 716.88L2255.19 715.68L2256 712.5L2256.88 702.5L2257.5 701.21L2258.13 698.73L2258.75 696.25L2259.5 698L2260.25 699.38L2260.88 698.27L2261.5 698.75L2262.12 702.56L2262.75 706.25L2263.75 710L2264.38 707.81L2265 703.12L2265.75 702.3L2266.5 700L2267.31 700.93L2268.12 703.75L2268.93 704.8L2269.75 708.75L2270.5 706.72L2271.25 705.62L2271.88 710.74L2272.5 715.62L2273.25 712.12L2274 709.38L2274.81 710.1L2275.62 711.25L2276.25 711.18L2276.88 710.62L2278.12 703.12L2278.75 701.88L2279.38 699.38L2280.19 700.78L2281 701.88L2281.71 701.3L2282.41 697.96L2283.12 697.5L2283.93 698.77L2284.75 699.38L2285.5 698.74L2286.25 697.5L2286.87 696.04L2287.5 697.54L2288.12 696.25L2288.5 675L2289.38 675L2290 701.25L2290.62 692.79L2291.25 685L2291.88 677.43L2292.5 671.88L2293.25 679.69L2294 683.75L2294.81 680.28L2295.62 675L2296.25 679.64L2296.88 683.75L2297.69 685.32L2298.5 685L2299.25 688.93L2300 691.25L2300.75 686.71L2301.5 683.75L2302.17 684.51L2302.83 685.57L2303.5 685L2304.25 680.51L2305 676.25L2305.75 678.8L2306.5 681.25L2307.31 681.86L2308.12 683.12L2308.93 685.2L2309.75 686.25L2310.5 682.43L2311.25 679.38L2311.87 679.59L2312.5 679.77L2313.12 681.25L2313.75 679.98L2314.37 680.16L2315 679.38L2315.63 681.17L2316.25 682.02L2316.88 683.75L2317.69 685.51L2318.5 688.75L2319.12 692.74L2319.75 696.25L2320.38 699.63L2321 702.5L2321.62 705.27L2322.25 706.25L2323.12 704.34L2324 703.12L2324.67 702.83L2325.33 703.48L2326 703.12L2326.71 704.61L2327.41 703.93L2328.12 704.38L2328.75 705.78L2329.37 706.63L2330 708.75L2330.75 710.05L2331.5 711.88L2332.31 714.11L2333.12 715L2333.93 715.29L2334.75 714.38L2335.5 717.35L2336.25 718.75L2336.88 717.28L2337.5 718.12L2338.12 721.84L2338.75 724.38L2339.5 726.54L2340.25 730L2341.07 734.79L2341.88 738.75L2343.12 731.88L2343.75 729.27L2344.38 730L2345.19 732.43L2346 735L2346.62 737.5L2347.25 741.25L2348.38 748.75L2349.07 746.21L2349.75 741.88L2350.5 741.65L2351.25 741.25L2351.87 741.75L2352.5 740.11L2353.12 740L2353.93 739.83L2354.75 736.88L2355.62 734.07L2356.5 731.88L2357.31 734.47L2358.12 734.38L2358.93 732.47L2359.75 731.25L2360.38 728.68L2361 727.5L2361.62 731.57L2362.25 734.38L2363.12 720L2364 710L2364.81 707.84L2365.62 706.25L2366.25 708.08L2366.88 710L2368.12 704.38L2368.75 705.93L2369.38 709.38L2370.19 706.95L2371 705L2371.62 698.83L2372.25 692.5L2372.88 688.25L2373.5 685L2374.12 687.78L2374.75 690L2375.38 679.51L2376 670L2376.62 666.26L2377.25 661.25L2378 666.59L2378.75 672.5L2379.38 672.91L2380 671.25L2380.62 669.13L2381.25 667.5L2382 668.91L2382.75 671.25L2383.57 673.43L2384.38 676.25L2385 677.28L2385.63 678.34L2386.25 678.75L2386.87 676.76L2387.5 674.85L2388.12 673.75L2388.75 674.89L2389.37 676L2390 676.25L2390.75 673.45L2391.5 673.12L2392.12 677.38L2392.75 683.12L2393.57 680.78L2394.38 679.38L2395.19 681.52L2396 681.25L2396.75 681.19L2397.5 679.38L2398.25 676.51L2399 672.5L2399.62 670.04L2400.25 666.88L2401.07 665.77L2401.88 666.25L2403.12 673.75L2403.93 676.42L2404.75 677.5L2405.38 675.94L2406 675L2406.62 668.81L2407.25 663.75L2408 660.75L2408.75 655L2409.37 653.77L2410 655.57L2410.62 654.38L2411.25 651.71L2411.88 648.75L2412.75 643.75L2413.57 645.28L2414.38 648.12L2415.19 650.75L2416 653.12L2416.62 651.9L2417.25 651.88L2417.88 649.51L2418.5 646.88L2419.12 650.48L2419.75 655L2420.62 655.72L2421.5 658.12L2422.31 658.44L2423.12 655L2423.75 653.81L2424.37 654.03L2425 652.5L2425.75 650.59L2426.5 648.75L2427.12 645.8L2427.75 641.88L2428.57 641.61L2429.38 643.12L2430.19 639.26L2431 636.88L2431.75 633.93L2432.5 635.62L2433.13 635.71L2433.75 634.69L2434.38 633.75L2435 633.75L2435.63 636.01L2436.25 636.25" fill="none" stroke="#008000" stroke-opacity="0.9" stroke-width="2.5" stroke-linejoin="round" stroke-linecap="butt"/>
<rect x="119.2" y="70.5" width="2426.6" height="812.5" fill="none" stroke="#1c1c1c" stroke-width="1.6"/>
<path d="M112.3 120H119.2" stroke="#000" stroke-width="1.6"/>
<text font-size="19.4" fill="#000" text-anchor="middle" style="font-family:'Noto Sans CJK SC','WenQuanYi Zen Hei',sans-serif"><tspan font-size="19.98" style="font-family:'Liberation Sans','Noto Sans CJK SC',sans-serif"><tspan x="51.85" y="128" textLength="9.11" lengthAdjust="spacingAndGlyphs">1</tspan><tspan x="61.55" y="128" textLength="9.11" lengthAdjust="spacingAndGlyphs">2</tspan><tspan x="71.25" y="128" textLength="9.11" lengthAdjust="spacingAndGlyphs">0</tspan><tspan x="78.62" y="128" textLength="4.56" lengthAdjust="spacingAndGlyphs">.</tspan><tspan x="90.65" y="128" textLength="9.11" lengthAdjust="spacingAndGlyphs">0</tspan><tspan x="100.35" y="128" textLength="9.11" lengthAdjust="spacingAndGlyphs">0</tspan></tspan></text>
<path d="M112.3 235H119.2" stroke="#000" stroke-width="1.6"/>
<text font-size="19.4" fill="#000" text-anchor="middle" style="font-family:'Noto Sans CJK SC','WenQuanYi Zen Hei',sans-serif"><tspan font-size="19.98" style="font-family:'Liberation Sans','Noto Sans CJK SC',sans-serif"><tspan x="51.85" y="243" textLength="9.11" lengthAdjust="spacingAndGlyphs">1</tspan><tspan x="61.55" y="243" textLength="9.11" lengthAdjust="spacingAndGlyphs">1</tspan><tspan x="71.25" y="243" textLength="9.11" lengthAdjust="spacingAndGlyphs">9</tspan><tspan x="78.62" y="243" textLength="4.56" lengthAdjust="spacingAndGlyphs">.</tspan><tspan x="90.65" y="243" textLength="9.11" lengthAdjust="spacingAndGlyphs">0</tspan><tspan x="100.35" y="243" textLength="9.11" lengthAdjust="spacingAndGlyphs">0</tspan></tspan></text>
<path d="M112.3 350H119.2" stroke="#000" stroke-width="1.6"/>
<text font-size="19.4" fill="#000" text-anchor="middle" style="font-family:'Noto Sans CJK SC','WenQuanYi Zen Hei',sans-serif"><tspan font-size="19.98" style="font-family:'Liberation Sans','Noto Sans CJK SC',sans-serif"><tspan x="51.85" y="358" textLength="9.11" lengthAdjust="spacingAndGlyphs">1</tspan><tspan x="61.55" y="358" textLength="9.11" lengthAdjust="spacingAndGlyphs">1</tspan><tspan x="71.25" y="358" textLength="9.11" lengthAdjust="spacingAndGlyphs">8</tspan><tspan x="78.62" y="358" textLength="4.56" lengthAdjust="spacingAndGlyphs">.</tspan><tspan x="90.65" y="358" textLength="9.11" lengthAdjust="spacingAndGlyphs">0</tspan><tspan x="100.35" y="358" textLength="9.11" lengthAdjust="spacingAndGlyphs">0</tspan></tspan></text>
<path d="M112.3 465H119.2" stroke="#000" stroke-width="1.6"/>
<text font-size="19.4" fill="#000" text-anchor="middle" style="font-family:'Noto Sans CJK SC','WenQuanYi Zen Hei',sans-serif"><tspan font-size="19.98" style="font-family:'Liberation Sans','Noto Sans CJK SC',sans-serif"><tspan x="51.85" y="473" textLength="9.11" lengthAdjust="spacingAndGlyphs">1</tspan><tspan x="61.55" y="473" textLength="9.11" lengthAdjust="spacingAndGlyphs">1</tspan><tspan x="71.25" y="473" textLength="9.11" lengthAdjust="spacingAndGlyphs">7</tspan><tspan x="78.62" y="473" textLength="4.56" lengthAdjust="spacingAndGlyphs">.</tspan><tspan x="90.65" y="473" textLength="9.11" lengthAdjust="spacingAndGlyphs">0</tspan><tspan x="100.35" y="473" textLength="9.11" lengthAdjust="spacingAndGlyphs">0</tspan></tspan></text>
<path d="M112.3 580H119.2" stroke="#000" stroke-width="1.6"/>
<text font-size="19.4" fill="#000" text-anchor="middle" style="font-family:'Noto Sans CJK SC','WenQuanYi Zen Hei',sans-serif"><tspan font-size="19.98" style="font-family:'Liberation Sans','Noto Sans CJK SC',sans-serif"><tspan x="51.85" y="588" textLength="9.11" lengthAdjust="spacingAndGlyphs">1</tspan><tspan x="61.55" y="588" textLength="9.11" lengthAdjust="spacingAndGlyphs">1</tspan><tspan x="71.25" y="588" textLength="9.11" lengthAdjust="spacingAndGlyphs">6</tspan><tspan x="78.62" y="588" textLength="4.56" lengthAdjust="spacingAndGlyphs">.</tspan><tspan x="90.65" y="588" textLength="9.11" lengthAdjust="spacingAndGlyphs">0</tspan><tspan x="100.35" y="588" textLength="9.11" lengthAdjust="spacingAndGlyphs">0</tspan></tspan></text>
<path d="M112.3 695H119.2" stroke="#000" stroke-width="1.6"/>
<text font-size="19.4" fill="#000" text-anchor="middle" style="font-family:'Noto Sans CJK SC','WenQuanYi Zen Hei',sans-serif"><tspan font-size="19.98" style="font-family:'Liberation Sans','Noto Sans CJK SC',sans-serif"><tspan x="51.85" y="703" textLength="9.11" lengthAdjust="spacingAndGlyphs">1</tspan><tspan x="61.55" y="703" textLength="9.11" lengthAdjust="spacingAndGlyphs">1</tspan><tspan x="71.25" y="703" textLength="9.11" lengthAdjust="spacingAndGlyphs">5</tspan><tspan x="78.62" y="703" textLength="4.56" lengthAdjust="spacingAndGlyphs">.</tspan><tspan x="90.65" y="703" textLength="9.11" lengthAdjust="spacingAndGlyphs">0</tspan><tspan x="100.35" y="703" textLength="9.11" lengthAdjust="spacingAndGlyphs">0</tspan></tspan></text>
<path d="M112.3 810H119.2" stroke="#000" stroke-width="1.6"/>
<text font-size="19.4" fill="#000" text-anchor="middle" style="font-family:'Noto Sans CJK SC','WenQuanYi Zen Hei',sans-serif"><tspan font-size="19.98" style="font-family:'Liberation Sans','Noto Sans CJK SC',sans-serif"><tspan x="51.85" y="818" textLength="9.11" lengthAdjust="spacingAndGlyphs">1</tspan><tspan x="61.55" y="818" textLength="9.11" lengthAdjust="spacingAndGlyphs">1</tspan><tspan x="71.25" y="818" textLength="9.11" lengthAdjust="spacingAndGlyphs">4</tspan><tspan x="78.62" y="818" textLength="4.56" lengthAdjust="spacingAndGlyphs">.</tspan><tspan x="90.65" y="818" textLength="9.11" lengthAdjust="spacingAndGlyphs">0</tspan><tspan x="100.35" y="818" textLength="9.11" lengthAdjust="spacingAndGlyphs">0</tspan></tspan></text>
<path d="M229.6 883V889.9" stroke="#000" stroke-width="1.6"/>
<g transform="translate(226.7,908.5) rotate(-45)"><text font-size="19.4" fill="#000" text-anchor="middle" style="font-family:'Noto Sans CJK SC','WenQuanYi Zen Hei',sans-serif"><tspan font-size="19.98" style="font-family:'Liberation Sans','Noto Sans CJK SC',sans-serif"><tspan x="-92.15" y="0" textLength="9.11" lengthAdjust="spacingAndGlyphs">2</tspan><tspan x="-82.45" y="0" textLength="9.11" lengthAdjust="spacingAndGlyphs">0</tspan><tspan x="-72.75" y="0" textLength="9.11" lengthAdjust="spacingAndGlyphs">2</tspan><tspan x="-63.05" y="0" textLength="9.11" lengthAdjust="spacingAndGlyphs">5</tspan><tspan x="-53.35" y="-1.16" textLength="10.31" lengthAdjust="spacingAndGlyphs">-</tspan><tspan x="-43.65" y="0" textLength="9.11" lengthAdjust="spacingAndGlyphs">1</tspan><tspan x="-33.95" y="0" textLength="9.11" lengthAdjust="spacingAndGlyphs">1</tspan><tspan x="-24.25" y="-1.16" textLength="10.31" lengthAdjust="spacingAndGlyphs">-</tspan><tspan x="-14.55" y="0" textLength="9.11" lengthAdjust="spacingAndGlyphs">1</tspan><tspan x="-4.85" y="0" textLength="9.11" lengthAdjust="spacingAndGlyphs">2</tspan></tspan></text></g>
<path d="M450.26 883V889.9" stroke="#000" stroke-width="1.6"/>
<g transform="translate(447.37,908.5) rotate(-45)"><text font-size="19.4" fill="#000" text-anchor="middle" style="font-family:'Noto Sans CJK SC','WenQuanYi Zen Hei',sans-serif"><tspan font-size="19.98" style="font-family:'Liberation Sans','Noto Sans CJK SC',sans-serif"><tspan x="-92.15" y="0" textLength="9.11" lengthAdjust="spacingAndGlyphs">2</tspan><tspan x="-82.45" y="0" textLength="9.11" lengthAdjust="spacingAndGlyphs">0</tspan><tspan x="-72.75" y="0" textLength="9.11" lengthAdjust="spacingAndGlyphs">2</tspan><tspan x="-63.05" y="0" textLength="9.11" lengthAdjust="spacingAndGlyphs">5</tspan><tspan x="-53.35" y="-1.16" textLength="10.31" lengthAdjust="spacingAndGlyphs">-</tspan><tspan x="-43.65" y="0" textLength="9.11" lengthAdjust="spacingAndGlyphs">1</tspan><tspan x="-33.95" y="0" textLength="9.11" lengthAdjust="spacingAndGlyphs">1</tspan><tspan x="-24.25" y="-1.16" textLength="10.31" lengthAdjust="spacingAndGlyphs">-</tspan><tspan x="-14.55" y="0" textLength="9.11" lengthAdjust="spacingAndGlyphs">1</tspan><tspan x="-4.85" y="0" textLength="9.11" lengthAdjust="spacingAndGlyphs">7</tspan></tspan></text></g>
<path d="M670.93 883V889.9" stroke="#000" stroke-width="1.6"/>
<g transform="translate(668.03,908.5) rotate(-45)"><text font-size="19.4" fill="#000" text-anchor="middle" style="font-family:'Noto Sans CJK SC','WenQuanYi Zen Hei',sans-serif"><tspan font-size="19.98" style="font-family:'Liberation Sans','Noto Sans CJK SC',sans-serif"><tspan x="-92.15" y="0" textLength="9.11" lengthAdjust="spacingAndGlyphs">2</tspan><tspan x="-82.45" y="0" textLength="9.11" lengthAdjust="spacingAndGlyphs">0</tspan><tspan x="-72.75" y="0" textLength="9.11" lengthAdjust="spacingAndGlyphs">2</tspan><tspan x="-63.05" y="0" textLength="9.11" lengthAdjust="spacingAndGlyphs">5</tspan><tspan x="-53.35" y="-1.16" textLength="10.31" lengthAdjust="spacingAndGlyphs">-</tspan><tspan x="-43.65" y="0" textLength="9.11" lengthAdjust="spacingAndGlyphs">1</tspan><tspan x="-33.95" y="0" textLength="9.11" lengthAdjust="spacingAndGlyphs">1</tspan><tspan x="-24.25" y="-1.16" textLength="10.31" lengthAdjust="spacingAndGlyphs">-</tspan><tspan x="-14.55" y="0" textLength="9.11" lengthAdjust="spacingAndGlyphs">2</tspan><tspan x="-4.85" y="0" textLength="9.11" lengthAdjust="spacingAndGlyphs">0</tspan></tspan></text></g>
<path d="M891.6 883V889.9" stroke="#000" stroke-width="1.6"/>
<g transform="translate(888.7,908.5) rotate(-45)"><text font-size="19.4" fill="#000" text-anchor="middle" style="font-family:'Noto Sans CJK SC','WenQuanYi Zen Hei',sans-serif"><tspan font-size="19.98" style="font-family:'Liberation Sans','Noto Sans CJK SC',sans-serif"><tspan x="-92.15" y="0" textLength="9.11" lengthAdjust="spacingAndGlyphs">2</tspan><tspan x="-82.45" y="0" textLength="9.11" lengthAdjust="spacingAndGlyphs">0</tspan><tspan x="-72.75" y="0" textLength="9.11" lengthAdjust="spacingAndGlyphs">2</tspan><tspan x="-63.05" y="0" textLength="9.11" lengthAdjust="spacingAndGlyphs">5</tspan><tspan x="-53.35" y="-1.16" textLength="10.31" lengthAdjust="spacingAndGlyphs">-</tspan><tspan x="-43.65" y="0" textLength="9.11" lengthAdjust="spacingAndGlyphs">1</tspan><tspan x="-33.95" y="0" textLength="9.11" lengthAdjust="spacingAndGlyphs">1</tspan><tspan x="-24.25" y="-1.16" textLength="10.31" lengthAdjust="spacingAndGlyphs">-</tspan><tspan x="-14.55" y="0" textLength="9.11" lengthAdjust="spacingAndGlyphs">2</tspan><tspan x="-4.85" y="0" textLength="9.11" lengthAdjust="spacingAndGlyphs">5</tspan></tspan></text></g>
<path d="M1112.26 883V889.9" stroke="#000" stroke-width="1.6"/>
<g transform="translate(1109.36,908.5) rotate(-45)"><text font-size="19.4" fill="#000" text-anchor="middle" style="font-family:'Noto Sans CJK SC','WenQuanYi Zen Hei',sans-serif"><tspan font-size="19.98" style="font-family:'Liberation Sans','Noto Sans CJK SC',sans-serif"><tspan x="-92.15" y="0" textLength="9.11" lengthAdjust="spacingAndGlyphs">2</tspan><tspan x="-82.45" y="0" textLength="9.11" lengthAdjust="spacingAndGlyphs">0</tspan><tspan x="-72.75" y="0" textLength="9.11" lengthAdjust="spacingAndGlyphs">2</tspan><tspan x="-63.05" y="0" textLength="9.11" lengthAdjust="spacingAndGlyphs">5</tspan><tspan x="-53.35" y="-1.16" textLength="10.31" lengthAdjust="spacingAndGlyphs">-</tspan><tspan x="-43.65" y="0" textLength="9.11" lengthAdjust="spacingAndGlyphs">1</tspan><tspan x="-33.95" y="0" textLength="9.11" lengthAdjust="spacingAndGlyphs">1</tspan><tspan x="-24.25" y="-1.16" textLength="10.31" lengthAdjust="spacingAndGlyphs">-</tspan><tspan x="-14.55" y="0" textLength="9.11" lengthAdjust="spacingAndGlyphs">2</tspan><tspan x="-4.85" y="0" textLength="9.11" lengthAdjust="spacingAndGlyphs">8</tspan></tspan></text></g>
<path d="M1332.92 883V889.9" stroke="#000" stroke-width="1.6"/>
<g transform="translate(1330.02,908.5) rotate(-45)"><text font-size="19.4" fill="#000" text-anchor="middle" style="font-family:'Noto Sans CJK SC','WenQuanYi Zen Hei',sans-serif"><tspan font-size="19.98" style="font-family:'Liberation Sans','Noto Sans CJK SC',sans-serif"><tspan x="-92.15" y="0" textLength="9.11" lengthAdjust="spacingAndGlyphs">2</tspan><tspan x="-82.45" y="0" textLength="9.11" lengthAdjust="spacingAndGlyphs">0</tspan><tspan x="-72.75" y="0" textLength="9.11" lengthAdjust="spacingAndGlyphs">2</tspan><tspan x="-63.05" y="0" textLength="9.11" lengthAdjust="spacingAndGlyphs">5</tspan><tspan x="-53.35" y="-1.16" textLength="10.31" lengthAdjust="spacingAndGlyphs">-</tspan><tspan x="-43.65" y="0" textLength="9.11" lengthAdjust="spacingAndGlyphs">1</tspan><tspan x="-33.95" y="0" textLength="9.11" lengthAdjust="spacingAndGlyphs">2</tspan><tspan x="-24.25" y="-1.16" textLength="10.31" lengthAdjust="spacingAndGlyphs">-</tspan><tspan x="-14.55" y="0" textLength="9.11" lengthAdjust="spacingAndGlyphs">0</tspan><tspan x="-4.85" y="0" textLength="9.11" lengthAdjust="spacingAndGlyphs">3</tspan></tspan></text></g>
<path d="M1553.59 883V889.9" stroke="#000" stroke-width="1.6"/>
<g transform="translate(1550.69,908.5) rotate(-45)"><text font-size="19.4" fill="#000" text-anchor="middle" style="font-family:'Noto Sans CJK SC','WenQuanYi Zen Hei',sans-serif"><tspan font-size="19.98" style="font-family:'Liberation Sans','Noto Sans CJK SC',sans-serif"><tspan x="-92.15" y="0" textLength="9.11" lengthAdjust="spacingAndGlyphs">2</tspan><tspan x="-82.45" y="0" textLength="9.11" lengthAdjust="spacingAndGlyphs">0</tspan><tspan x="-72.75" y="0" textLength="9.11" lengthAdjust="spacingAndGlyphs">2</tspan><tspan x="-63.05" y="0" textLength="9.11" lengthAdjust="spacingAndGlyphs">5</tspan><tspan x="-53.35" y="-1.16" textLength="10.31" lengthAdjust="spacingAndGlyphs">-</tspan><tspan x="-43.65" y="0" textLength="9.11" lengthAdjust="spacingAndGlyphs">1</tspan><tspan x="-33.95" y="0" textLength="9.11" lengthAdjust="spacingAndGlyphs">2</tspan><tspan x="-24.25" y="-1.16" textLength="10.31" lengthAdjust="spacingAndGlyphs">-</tspan><tspan x="-14.55" y="0" textLength="9.11" lengthAdjust="spacingAndGlyphs">0</tspan><tspan x="-4.85" y="0" textLength="9.11" lengthAdjust="spacingAndGlyphs">8</tspan></tspan></text></g>
<path d="M1774.26 883V889.9" stroke="#000" stroke-width="1.6"/>
<g transform="translate(1771.36,908.5) rotate(-45)"><text font-size="19.4" fill="#000" text-anchor="middle" style="font-family:'Noto Sans CJK SC','WenQuanYi Zen Hei',sans-serif"><tspan font-size="19.98" style="font-family:'Liberation Sans','Noto Sans CJK SC',sans-serif"><tspan x="-92.15" y="0" textLength="9.11" lengthAdjust="spacingAndGlyphs">2</tspan><tspan x="-82.45" y="0" textLength="9.11" lengthAdjust="spacingAndGlyphs">0</tspan><tspan x="-72.75" y="0" textLength="9.11" lengthAdjust="spacingAndGlyphs">2</tspan><tspan x="-63.05" y="0" textLength="9.11" lengthAdjust="spacingAndGlyphs">5</tspan><tspan x="-53.35" y="-1.16" textLength="10.31" lengthAdjust="spacingAndGlyphs">-</tspan><tspan x="-43.65" y="0" textLength="9.11" lengthAdjust="spacingAndGlyphs">1</tspan><tspan x="-33.95" y="0" textLength="9.11" lengthAdjust="spacingAndGlyphs">2</tspan><tspan x="-24.25" y="-1.16" textLength="10.31" lengthAdjust="spacingAndGlyphs">-</tspan><tspan x="-14.55" y="0" textLength="9.11" lengthAdjust="spacingAndGlyphs">1</tspan><tspan x="-4.85" y="0" textLength="9.11" lengthAdjust="spacingAndGlyphs">1</tspan></tspan></text></g>
<path d="M1994.92 883V889.9" stroke="#000" stroke-width="1.6"/>
<g transform="translate(1992.02,908.5) rotate(-45)"><text font-size="19.4" fill="#000" text-anchor="middle" style="font-family:'Noto Sans CJK SC','WenQuanYi Zen Hei',sans-serif"><tspan font-size="19.98" style="font-family:'Liberation Sans','Noto Sans CJK SC',sans-serif"><tspan x="-92.15" y="0" textLength="9.11" lengthAdjust="spacingAndGlyphs">2</tspan><tspan x="-82.45" y="0" textLength="9.11" lengthAdjust="spacingAndGlyphs">0</tspan><tspan x="-72.75" y="0" textLength="9.11" lengthAdjust="spacingAndGlyphs">2</tspan><tspan x="-63.05" y="0" textLength="9.11" lengthAdjust="spacingAndGlyphs">5</tspan><tspan x="-53.35" y="-1.16" textLength="10.31" lengthAdjust="spacingAndGlyphs">-</tspan><tspan x="-43.65" y="0" textLength="9.11" lengthAdjust="spacingAndGlyphs">1</tspan><tspan x="-33.95" y="0" textLength="9.11" lengthAdjust="spacingAndGlyphs">2</tspan><tspan x="-24.25" y="-1.16" textLength="10.31" lengthAdjust="spacingAndGlyphs">-</tspan><tspan x="-14.55" y="0" textLength="9.11" lengthAdjust="spacingAndGlyphs">1</tspan><tspan x="-4.85" y="0" textLength="9.11" lengthAdjust="spacingAndGlyphs">6</tspan></tspan></text></g>
<path d="M2215.59 883V889.9" stroke="#000" stroke-width="1.6"/>
<g transform="translate(2212.68,908.5) rotate(-45)"><text font-size="19.4" fill="#000" text-anchor="middle" style="font-family:'Noto Sans CJK SC','WenQuanYi Zen Hei',sans-serif"><tspan font-size="19.98" style="font-family:'Liberation Sans','Noto Sans CJK SC',sans-serif"><tspan x="-92.15" y="0" textLength="9.11" lengthAdjust="spacingAndGlyphs">2</tspan><tspan x="-82.45" y="0" textLength="9.11" lengthAdjust="spacingAndGlyphs">0</tspan><tspan x="-72.75" y="0" textLength="9.11" lengthAdjust="spacingAndGlyphs">2</tspan><tspan x="-63.05" y="0" textLength="9.11" lengthAdjust="spacingAndGlyphs">5</tspan><tspan x="-53.35" y="-1.16" textLength="10.31" lengthAdjust="spacingAndGlyphs">-</tspan><tspan x="-43.65" y="0" textLength="9.11" lengthAdjust="spacingAndGlyphs">1</tspan><tspan x="-33.95" y="0" textLength="9.11" lengthAdjust="spacingAndGlyphs">2</tspan><tspan x="-24.25" y="-1.16" textLength="10.31" lengthAdjust="spacingAndGlyphs">-</tspan><tspan x="-14.55" y="0" textLength="9.11" lengthAdjust="spacingAndGlyphs">1</tspan><tspan x="-4.85" y="0" textLength="9.11" lengthAdjust="spacingAndGlyphs">9</tspan></tspan></text></g>
<rect x="161.2" y="80" width="282.4" height="74.7" rx="6" ry="6" fill="#f5deb3" fill-opacity="0.5" stroke="#000" stroke-opacity="0.5" stroke-width="2"/>
<text font-size="19.8" fill="#000" text-anchor="middle" style="font-family:'Noto Sans CJK SC','WenQuanYi Zen Hei',sans-serif"><tspan x="178.3 198.1 217.9 237.7" y="103.2">交易日数</tspan><tspan font-size="20.39" style="font-family:'Liberation Sans','Noto Sans CJK SC',sans-serif"><tspan x="252.55" y="103.2" textLength="4.65" lengthAdjust="spacingAndGlyphs">:</tspan><tspan x="262.45" y="103.2"> </tspan><tspan x="272.35" y="103.2" textLength="9.3" lengthAdjust="spacingAndGlyphs">3</tspan><tspan x="282.25" y="103.2" textLength="9.3" lengthAdjust="spacingAndGlyphs">0</tspan></tspan></text>
<text font-size="19.8" fill="#000" text-anchor="middle" style="font-family:'Noto Sans CJK SC','WenQuanYi Zen Hei',sans-serif"><tspan x="178.3 198.1 217.9 237.7" y="125.1">价格区间</tspan><tspan font-size="20.39" style="font-family:'Liberation Sans','Noto Sans CJK SC',sans-serif"><tspan x="252.55" y="125.1" textLength="4.65" lengthAdjust="spacingAndGlyphs">:</tspan><tspan x="262.45" y="125.1"> </tspan><tspan x="272.35" y="125.1" textLength="9.3" lengthAdjust="spacingAndGlyphs">1</tspan><tspan x="282.25" y="125.1" textLength="9.3" lengthAdjust="spacingAndGlyphs">1</tspan><tspan x="292.15" y="125.1" textLength="9.3" lengthAdjust="spacingAndGlyphs">3</tspan><tspan x="299.67" y="125.1" textLength="4.65" lengthAdjust="spacingAndGlyphs">.</tspan><tspan x="311.95" y="125.1" textLength="9.3" lengthAdjust="spacingAndGlyphs">6</tspan><tspan x="321.85" y="125.1" textLength="9.3" lengthAdjust="spacingAndGlyphs">9</tspan><tspan x="331.75" y="125.1" textLength="9.3" lengthAdjust="spacingAndGlyphs">6</tspan><tspan x="341.65" y="125.1"> </tspan><tspan x="351.55" y="123.91" textLength="10.53" lengthAdjust="spacingAndGlyphs">-</tspan><tspan x="361.45" y="125.1"> </tspan><tspan x="371.35" y="125.1" textLength="9.3" lengthAdjust="spacingAndGlyphs">1</tspan><tspan x="381.25" y="125.1" textLength="9.3" lengthAdjust="spacingAndGlyphs">2</tspan><tspan x="391.15" y="125.1" textLength="9.3" lengthAdjust="spacingAndGlyphs">0</tspan><tspan x="398.67" y="125.1" textLength="4.65" lengthAdjust="spacingAndGlyphs">.</tspan><tspan x="410.95" y="125.1" textLength="9.3" lengthAdjust="spacingAndGlyphs">0</tspan><tspan x="420.85" y="125.1" textLength="9.3" lengthAdjust="spacingAndGlyphs">9</tspan><tspan x="430.75" y="125.1" textLength="9.3" lengthAdjust="spacingAndGlyphs">3</tspan></tspan></text>
<text font-size="19.8" fill="#000" text-anchor="middle" style="font-family:'Noto Sans CJK SC','WenQuanYi Zen Hei',sans-serif"><tspan x="178.3 198.1 217.9 237.7 257.5" y="147">平均成交量</tspan><tspan font-size="20.39" style="font-family:'Liberation Sans','Noto Sans CJK SC',sans-serif"><tspan x="272.35" y="147" textLength="4.65" lengthAdjust="spacingAndGlyphs">:</tspan><tspan x="282.25" y="147"> </tspan><tspan x="292.15" y="147" textLength="9.3" lengthAdjust="spacingAndGlyphs">2</tspan><tspan x="302.05" y="147" textLength="9.3" lengthAdjust="spacingAndGlyphs">4</tspan><tspan x="311.95" y="147" textLength="9.3" lengthAdjust="spacingAndGlyphs">9</tspan><tspan x="321.85" y="147" textLength="9.3" lengthAdjust="spacingAndGlyphs">2</tspan></tspan></text>
<rect x="1227" y="11" width="163.5" height="42" fill="#fdfdfc"/>
<text font-size="31.7" fill="#0b6b0b" text-anchor="middle" style="font-family:'Noto Sans CJK SC','WenQuanYi Zen Hei',sans-serif"><tspan x="999.85" y="40.5">前</tspan><tspan font-size="32.65" style="font-family:'Liberation Sans','Noto Sans CJK SC',sans-serif"><tspan x="1023.62" y="40.5" textLength="14.89" lengthAdjust="spacingAndGlyphs">5</tspan></tspan><tspan x="1047.4" y="40.5">名</tspan><tspan font-size="32.65" style="font-family:'Liberation Sans','Noto Sans CJK SC',sans-serif"><tspan x="1071.17" y="40.5"> </tspan><tspan x="1087.02" y="38.6" textLength="16.85" lengthAdjust="spacingAndGlyphs">-</tspan><tspan x="1102.87" y="40.5"> </tspan></tspan><tspan x="1126.65" y="40.5">第</tspan><tspan font-size="32.65" style="font-family:'Liberation Sans','Noto Sans CJK SC',sans-serif"><tspan x="1150.42" y="40.5" textLength="14.89" lengthAdjust="spacingAndGlyphs">1</tspan></tspan><tspan x="1174.2" y="40.5">名</tspan><tspan font-size="32.65" style="font-family:'Liberation Sans','Noto Sans CJK SC',sans-serif"><tspan x="1197.97" y="40.5"> </tspan><tspan x="1213.82" y="38.6" textLength="16.85" lengthAdjust="spacingAndGlyphs">-</tspan></tspan></text>
<text font-size="31.7" fill="#0b6b0b" text-anchor="middle" style="font-family:'Noto Sans CJK SC','WenQuanYi Zen Hei',sans-serif"><tspan font-size="32.65" style="font-family:'Liberation Sans','Noto Sans CJK SC',sans-serif"><tspan x="1405.33" y="37.49" textLength="6.96" lengthAdjust="spacingAndGlyphs">|</tspan><tspan x="1421.17" y="40.5"> </tspan><tspan x="1437.02" y="40.5" textLength="16.36" lengthAdjust="spacingAndGlyphs">T</tspan><tspan x="1452.87" y="40.5" textLength="14.89" lengthAdjust="spacingAndGlyphs">0</tspan></tspan><tspan x="1476.65 1508.35 1540.05 1571.75" y="40.5">综合得分</tspan><tspan font-size="32.65" style="font-family:'Liberation Sans','Noto Sans CJK SC',sans-serif"><tspan x="1595.52" y="40.5" textLength="7.44" lengthAdjust="spacingAndGlyphs">:</tspan><tspan x="1611.37" y="40.5"> </tspan><tspan x="1627.22" y="40.5" textLength="14.89" lengthAdjust="spacingAndGlyphs">4</tspan><tspan x="1639.27" y="40.5" textLength="7.44" lengthAdjust="spacingAndGlyphs">.</tspan><tspan x="1658.92" y="40.5" textLength="14.89" lengthAdjust="spacingAndGlyphs">7</tspan><tspan x="1674.77" y="40.5" textLength="14.89" lengthAdjust="spacingAndGlyphs">9</tspan></tspan></text>
<text transform="translate(34.6,0) rotate(-90)" x="-522.9 -498.5 -469.8 -445.5 -419.9" y="0" font-size="25" text-anchor="middle" style="font-family:'Noto Sans CJK SC','WenQuanYi Zen Hei',sans-serif">价格（元）</text>
<path d="M119.2 1222.75H2545.8" stroke="#b0b0b0" stroke-opacity="0.32" stroke-width="1.6" stroke-dasharray="5.9 2.55" fill="none"/>
<path d="M119.2 1173.9H2545.8" stroke="#b0b0b0" stroke-opacity="0.32" stroke-width="1.6" stroke-dasharray="5.9 2.55" fill="none"/>
<path d="M119.2 1125.05H2545.8" stroke="#b0b0b0" stroke-opacity="0.32" stroke-width="1.6" stroke-dasharray="5.9 2.55" fill="none"/>
<path d="M119.2 1076.2H2545.8" stroke="#b0b0b0" stroke-opacity="0.32" stroke-width="1.6" stroke-dasharray="5.9 2.55" fill="none"/>
<path d="M119.2 1027.35H2545.8" stroke="#b0b0b0" stroke-opacity="0.32" stroke-width="1.6" stroke-dasharray="5.9 2.55" fill="none"/>
<path d="M229.6 1271.6V1001.2" stroke="#808080" stroke-opacity="0.27" stroke-width="2" stroke-dasharray="1.8 2.4" fill="none"/>
<path d="M303.15 1271.6V1001.2" stroke="#808080" stroke-opacity="0.27" stroke-width="2" stroke-dasharray="1.8 2.4" fill="none"/>
<path d="M376.71 1271.6V1001.2" stroke="#808080" stroke-opacity="0.27" stroke-width="2" stroke-dasharray="1.8 2.4" fill="none"/>
<path d="M450.26 1271.6V1001.2" stroke="#808080" stroke-opacity="0.27" stroke-width="2" stroke-dasharray="1.8 2.4" fill="none"/>
<path d="M523.82 1271.6V1001.2" stroke="#808080" stroke-opacity="0.27" stroke-width="2" stroke-dasharray="1.8 2.4" fill="none"/>
<path d="M597.38 1271.6V1001.2" stroke="#808080" stroke-opacity="0.27" stroke-width="2" stroke-dasharray="1.8 2.4" fill="none"/>
<path d="M670.93 1271.6V1001.2" stroke="#808080" stroke-opacity="0.27" stroke-width="2" stroke-dasharray="1.8 2.4" fill="none"/>
<path d="M744.49 1271.6V1001.2" stroke="#808080" stroke-opacity="0.27" stroke-width="2" stroke-dasharray="1.8 2.4" fill="none"/>
<path d="M818.04 1271.6V1001.2" stroke="#808080" stroke-opacity="0.27" stroke-width="2" stroke-dasharray="1.8 2.4" fill="none"/>
<path d="M891.6 1271.6V1001.2" stroke="#808080" stroke-opacity="0.27" stroke-width="2" stroke-dasharray="1.8 2.4" fill="none"/>
<path d="M965.15 1271.6V1001.2" stroke="#808080" stroke-opacity="0.27" stroke-width="2" stroke-dasharray="1.8 2.4" fill="none"/>
<path d="M1038.7 1271.6V1001.2" stroke="#808080" stroke-opacity="0.27" stroke-width="2" stroke-dasharray="1.8 2.4" fill="none"/>
<path d="M1112.26 1271.6V1001.2" stroke="#808080" stroke-opacity="0.27" stroke-width="2" stroke-dasharray="1.8 2.4" fill="none"/>
<path d="M1185.82 1271.6V1001.2" stroke="#808080" stroke-opacity="0.27" stroke-width="2" stroke-dasharray="1.8 2.4" fill="none"/>
<path d="M1259.37 1271.6V1001.2" stroke="#808080" stroke-opacity="0.27" stroke-width="2" stroke-dasharray="1.8 2.4" fill="none"/>
<path d="M1332.92 1271.6V1001.2" stroke="#808080" stroke-opacity="0.27" stroke-width="2" stroke-dasharray="1.8 2.4" fill="none"/>
<path d="M1406.48 1271.6V1001.2" stroke="#808080" stroke-opacity="0.27" stroke-width="2" stroke-dasharray="1.8 2.4" fill="none"/>
<path d="M1480.04 1271.6V1001.2" stroke="#808080" stroke-opacity="0.27" stroke-width="2" stroke-dasharray="1.8 2.4" fill="none"/>
<path d="M1553.59 1271.6V1001.2" stroke="#808080" stroke-opacity="0.27" stroke-width="2" stroke-dasharray="1.8 2.4" fill="none"/>
<path d="M1627.14 1271.6V1001.2" stroke="#808080" stroke-opacity="0.27" stroke-width="2" stroke-dasharray="1.8 2.4" fill="none"/>
<path d="M1700.7 1271.6V1001.2" stroke="#808080" stroke-opacity="0.27" stroke-width="2" stroke-dasharray="1.8 2.4" fill="none"/>
<path d="M1774.26 1271.6V1001.2" stroke="#808080" stroke-opacity="0.27" stroke-width="2" stroke-dasharray="1.8 2.4" fill="none"/>
<path d="M1847.81 1271.6V1001.2" stroke="#808080" stroke-opacity="0.27" stroke-width="2" stroke-dasharray="1.8 2.4" fill="none"/>
<path d="M1921.37 1271.6V1001.2" stroke="#808080" stroke-opacity="0.27" stroke-width="2" stroke-dasharray="1.8 2.4" fill="none"/>
<path d="M1994.92 1271.6V1001.2" stroke="#808080" stroke-opacity="0.27" stroke-width="2" stroke-dasharray="1.8 2.4" fill="none"/>
<path d="M2068.48 1271.6V1001.2" stroke="#808080" stroke-opacity="0.27" stroke-width="2" stroke-dasharray="1.8 2.4" fill="none"/>
<path d="M2142.03 1271.6V1001.2" stroke="#808080" stroke-opacity="0.27" stroke-width="2" stroke-dasharray="1.8 2.4" fill="none"/>
<path d="M2215.59 1271.6V1001.2" stroke="#808080" stroke-opacity="0.27" stroke-width="2" stroke-dasharray="1.8 2.4" fill="none"/>
<path d="M2289.14 1271.6V1001.2" stroke="#808080" stroke-opacity="0.27" stroke-width="2" stroke-dasharray="1.8 2.4" fill="none"/>
<path d="M2362.7 1271.6V1001.2" stroke="#808080" stroke-opacity="0.27" stroke-width="2" stroke-dasharray="1.8 2.4" fill="none"/>
<path d="M230 1271.6V1154.7h1V1186.7h1V1191.5h1V1202.4h1V1186.9h1V1222.9h1V1214.4h1V1176.2h1V1211.5h1V1225h1V1204h1V1225.3h1V1225.2h1V1177.6h1V1221h1V1224.4h1V1204.5h1V1194h1V1207h1V1223.1h1V1208.9h1V1215.7h1V1214.1h1V1214h1V1198.9h1V1208.5h1V1236.9h1V1242.9h1V1237.3h1V1231.5h1V1187.1h1V1219h1V1222.7h1V1168h1V1176h1V1174.7h1V1144h1V1126h1V1161.1h1V1176.9h1V1184.5h1V1187.5h1V1207.8h1V1180.6h1V1218.5h1V1225.5h1V1205.5h1V1227h1V1224h1V1224.9h1V1191.2h1V1233.1h1V1160h1V1200.9h1V1228.4h1V1202.1h1V1203.1h1V1216.3h1V1212.8h1V1223.6h1V1193.2h1V1216.1h1V1218.2h1V1220.1h1V1195.8h1V1219.1h1V1184.2h1V1222.4h1V1223.2h1V1186.5h1V1179.1h1V1218.7h1V1208.3h1V1149.9h1V1169.2h1V1186.9h1V1180h1V1164.1h1V1198h1V1181h1V1184h1V1178.3h1V1200.6h1V1202.3h1V1196.3h1V1216.3h1V1178.8h1V1211.3h1V1208.4h1V1208.8h1V1186.4h1V1176.9h1V1214.2h1V1186.4h1V1202.8h1V1209h1V1209.1h1V1184.8h1V1230.4h1V1218.3h1V1211.5h1V1210.2h1V1197h1V1188.5h1V1158h1V1223.8h1V1208.5h1V1184.4h1V1188.2h1V1137h1V1147.3h1V1221.9h1V1203.9h1V1224.2h1V1214h1V1174.2h1V1223.1h1V1213.4h1V1211.5h1V1208.1h1V1217.8h1V1177.5h1V1188.5h1V1227.8h1V1230.9h1V1200.1h1V1217.2h1V1201.8h1V1229.6h1V1165h1V1192.3h1V1201.9h1V1228.1h1V1234.5h1V1238.7h1V1215h1V1230.7h1V1200h1V1218.9h1V1197.8h1V1195.5h1V1218.9h1V1202.7h1V1175.8h1V1222h1V1204.2h1V1246.4h1V1187.2h1V1183.5h1V1166h1V1207.9h1V1211.7h1V1192.3h1V1210.4h1V1214.8h1V1219.6h1V1223.5h1V1211h1V1211.1h1V1224.6h1V1187h1V1211h1V1181.1h1V1220.9h1V1203.3h1V1208.7h1V1205.3h1V1209.3h1V1213.4h1V1222.4h1V1217.3h1V1225.3h1V1213.7h1V1177.3h1V1196.4h1V1190h1V1225.3h1V1218.8h1V1205h1V1197.1h1V1214.1h1V1186.5h1V1209.9h1V1203.5h1V1185.7h1V1195h1V1152.1h1V1226.6h1V1220.8h1V1224.1h1V1199.4h1V1228.6h1V1214.4h1V1178.9h1V1202.1h1V1169h1V1232.1h1V1210.8h1V1212.9h1V1201h1V1211.3h1V1177h1V1227.9h1V1212.3h1V1227h1V1191.6h1V1225.1h1V1218.7h1V1231h1V1227.3h1V1224h1V1235.2h1V1221.6h1V1230.6h1V1215.7h1V1222h1V1222h1V1202.1h1V1177.5h1V1211.3h1V1173.6h1V1162.7h1V1178.9h1V1152h1V1167.8h1V1179.4h1V1186.5h1V1147h1V1157.5h1V1176h1V1106h1V1125h1V1182.6h1V1186.9h1V1184h1V1178.8h1V1176.2h1V1176.4h1V1218.4h1V1213.7h1V1196.1h1V1207.3h1V1204.7h1V1200.4h1V1221.9h1V1229.2h1V1231.3h1V1233h1V1216.5h1V1238.8h1V1233.3h1V1226.5h1V1174h1V1231.7h1V1234.9h1V1233.7h1V1220.6h1V1220.4h1V1223.4h1V1222.6h1V1237.7h1V1241.4h1V1234.3h1V1227.6h1V1232.6h1V1217h1V1206.9h1V1227.2h1V1201.2h1V1178.8h1V1222.8h1V1222.9h1V1230.9h1V1170h1V1205.3h1V1209.4h1V1203.5h1V1219h1V1199.8h1V1209.5h1V1201.7h1V1212.1h1V1230h1V1224.7h1V1224.2h1V1215.7h1V1206.2h1V1190.1h1V1221.2h1V1216.6h1V1197h1V1197.9h1V1205.7h1V1191.7h1V1165.7h1V1175.1h1V1173.3h1V1162.6h1V1161h1V1193.2h1V1198h1V1180.5h1V1203.4h1V1195.8h1V1182.6h1V1211.1h1V1213.9h1V1172h1V1209.7h1V1208.3h1V1196.7h1V1222h1V1229.1h1V1213.2h1V1230.9h1V1234.3h1V1232.1h1V1226.8h1V1211.7h1V1162h1V1223.1h1V1222.6h1V1224.6h1V1216.3h1V1206.1h1V1172.6h1V1210.9h1V1200.6h1V1220.5h1V1209.6h1V1158.5h1V1201.2h1V1215.7h1V1218.2h1V1208.5h1V1228.2h1V1206.3h1V1193.8h1V1225.9h1V1225.4h1V1224.8h1V1219h1V1219.6h1V1192.1h1V1217h1V1226.8h1V1216h1V1218.4h1V1223.6h1V1172.5h1V1219.4h1V1193.3h1V1220.3h1V1233.6h1V1233h1V1232.2h1V1214h1V1221.5h1V1236.7h1V1226.4h1V1226.1h1V1224.4h1V1214.1h1V1222.3h1V1217.1h1V1218h1V1231.1h1V1206.2h1V1165.7h1V1176.7h1V1082.5h1V1146.6h1V1158.5h1V1134.8h1V1181.2h1V1171.3h1V1152h1V1134.8h1V1168.4h1V1175.2h1V1187.2h1V1147.2h1V1184.4h1V1220h1V1225.1h1V1214.3h1V1232.2h1V1208.1h1V1188.6h1V1199.6h1V1219h1V1174h1V1205.9h1V1197.5h1V1228.1h1V1235.2h1V1196.4h1V1226.1h1V1184.1h1V1214.8h1V1211.3h1V1226.2h1V1221.9h1V1197.3h1V1208.8h1V1216.6h1V1220.6h1V1182h1V1198.5h1V1215.3h1V1222.3h1V1221.2h1V1205.1h1V1193.8h1V1210.6h1V1181.8h1V1199.6h1V1227h1V1221.2h1V1218.5h1V1173.9h1V1213.4h1V1196.6h1V1204.1h1V1184.1h1V1218.8h1V1229.7h1V1215.6h1V1225.8h1V1213.7h1V1226.9h1V1230.2h1V1218.9h1V1202.6h1V1222.5h1V1204.9h1V1208.4h1V1190.9h1V1191.6h1V1197.7h1V1226.7h1V1180.7h1V1190.7h1V1176.5h1V1212.6h1V1206.2h1V1188.2h1V1219.4h1V1220.4h1V1213.8h1V1215.4h1V1197.4h1V1211.5h1V1214.8h1V1203.7h1V1224.7h1V1194h1V1189.3h1V1206.5h1V1212.3h1V1238.1h1V1234.5h1V1180h1V1231.4h1V1224.5h1V1236.4h1V1218.5h1V1234.4h1V1230.7h1V1223.4h1V1239h1V1219.8h1V1220h1V1215.6h1V1221.7h1V1201.5h1V1211.3h1V1145h1V1225h1V1108h1V1221.5h1V1225.5h1V1237h1V1213.5h1V1216.9h1V1190.2h1V1222.2h1V1175h1V1206.4h1V1217.9h1V1202.6h1V1201.4h1V1212.5h1V1193.1h1V1199.5h1V1202.9h1V1156h1V1209.1h1V1220.8h1V1184.4h1V1225.6h1V1189.9h1V1204.9h1V1211.3h1V1227.6h1V1181.7h1V1219.6h1V1208h1V1189.1h1V1211.6h1V1205.8h1V1193.4h1V1183.9h1V1210.4h1V1160.5h1V1142h1V1164.2h1V1168.1h1V1180h1V1147h1V1185.4h1V1175.9h1V1174.4h1V1191.1h1V1169.7h1V1194.9h1V1184.5h1V1184.6h1V1202.5h1V1208.7h1V1225.7h1V1211h1V1227.9h1V1223.8h1V1192.6h1V1201.6h1V1220h1V1215.9h1V1208.9h1V1199.9h1V1205.3h1V1214.8h1V1205.4h1V1197.9h1V1226.7h1V1210.4h1V1186.4h1V1211.3h1V1218.4h1V1225.3h1V1229.4h1V1205.6h1V1213.1h1V1185.8h1V1192.1h1V1200.1h1V1201.1h1V1199.9h1V1198.4h1V1199.3h1V1190h1V1216h1V1199.1h1V1149h1V1207.6h1V1224.3h1V1213.6h1V1180.2h1V1225.1h1V1219h1V1225.7h1V1218.5h1V1219.9h1V1171.8h1V1225.7h1V1186.6h1V1232.4h1V1228.5h1V1219.9h1V1192.5h1V1217.7h1V1214.3h1V1212.5h1V1186.6h1V1166.7h1V1145h1V1194.1h1V1217h1V1199.8h1V1172h1V1149h1V1166.8h1V1178.5h1V1142.8h1V1187.5h1V1189.3h1V1228.8h1V1210.6h1V1203.5h1V1208.9h1V1186.6h1V1209.2h1V1229.6h1V1236.8h1V1237.6h1V1229h1V1227.9h1V1218.5h1V1234.3h1V1234.7h1V1227.8h1V1162h1V1201.4h1V1209.1h1V1218.4h1V1221.1h1V1186.2h1V1203.8h1V1220.8h1V1226.4h1V1210.4h1V1226h1V1199.6h1V1196.4h1V1190.2h1V1207.8h1V1213.4h1V1216.6h1V1226h1V1219h1V1225.1h1V1228.4h1V1175.4h1V1186.5h1V1209h1V1185.6h1V1190h1V1233.7h1V1216.7h1V1227.4h1V1221.1h1V1232.3h1V1223.6h1V1222.9h1V1221.4h1V1211.3h1V1217.7h1V1181.2h1V1233.6h1V1214.8h1V1224.5h1V1198.8h1V1199.3h1V1215.8h1V1188.3h1V1211.3h1V1197.5h1V1209.6h1V1224.5h1V1203.3h1V1223.4h1V1248.9h1V1189h1V1209.7h1V1197.3h1V1187.6h1V1212.1h1V1200.7h1V1201.2h1V1177.8h1V1189.4h1V1190.1h1V1209.5h1V1201.5h1V1189.7h1V1202.4h1V1209.5h1V1186.4h1V1183.6h1V1194.4h1V1217.2h1V1231.7h1V1200.7h1V1217.6h1V1216h1V1217.5h1V1216.5h1V1201.7h1V1233.2h1V1207.7h1V1202.6h1V1226.2h1V1215.1h1V1198.4h1V1218.8h1V1233.1h1V1203.6h1V1186.4h1V1208.2h1V1176.1h1V1171.9h1V1200.6h1V1184.9h1V1213.2h1V1233.8h1V1106h1V1211.3h1V1216.5h1V1224.4h1V1219.1h1V1231.3h1V1212.3h1V1212h1V1213h1V1210.6h1V1212h1V1190.4h1V1197.8h1V1202.6h1V1217.7h1V1208.2h1V1192.1h1V1166.7h1V1203.5h1V1199.9h1V1182.6h1V1208.6h1V1179.5h1V1145h1V1192.1h1V1183.3h1V1169.2h1V1175.5h1V1174h1V1110h1V1182.7h1V1178.4h1V1168.6h1V1163.2h1V1160.9h1V1205.8h1V1197.8h1V1205.6h1V1176.3h1V1184.9h1V1213.1h1V1112.5h1V1201.3h1V1234.6h1V1216.6h1V1226.4h1V1211.2h1V1204h1V1168h1V1222.5h1V1195.1h1V1219.9h1V1198.9h1V1225.7h1V1227.8h1V1223.4h1V1238.2h1V1213.5h1V1239.6h1V1225.4h1V1226.8h1V1210.3h1V1220.5h1V1210.5h1V1213.6h1V1216.4h1V1174.8h1V1194.8h1V1211.7h1V1231.2h1V1228.1h1V1195.1h1V1222.9h1V1230.5h1V1205.6h1V1221.2h1V1209.9h1V1215.7h1V1229.6h1V1230.6h1V1182.2h1V1218.9h1V1207.4h1V1200.1h1V1165.8h1V1201.5h1V1226.7h1V1202.1h1V1188.1h1V1150h1V1201.4h1V1182.5h1V1168.9h1V1139h1V1173.1h1V1189.6h1V1186.5h1V1147h1V1162.3h1V1183.5h1V1201.2h1V1160.5h1V1171.8h1V1201.9h1V1169.7h1V1171.3h1V1171.6h1V1157h1V1198.7h1V1182.2h1V1181.1h1V1224h1V1211.7h1V1168.1h1V1203.6h1V1191.8h1V1228.2h1V1223.2h1V1199.5h1V1231.3h1V1212.2h1V1221.1h1V1222.9h1V1216.1h1V1208.8h1V1223.5h1V1211.8h1V1208.8h1V1199.9h1V1216.2h1V1223.3h1V1228.6h1V1219.1h1V1225.6h1V1212.5h1V1191.6h1V1208.4h1V1229.5h1V1219.5h1V1237.9h1V1228h1V1214h1V1191.8h1V1215.6h1V1227.2h1V1220.7h1V1221.6h1V1223.4h1V1229.8h1V1231.3h1V1230.5h1V1232.1h1V1218.9h1V1231.8h1V1236h1V1230.8h1V1225.4h1V1220h1V1197.4h1V1207.7h1V1223.8h1V1215.6h1V1221.4h1V1193h1V1224.5h1V1214.7h1V1215.6h1V1227.1h1V1220.9h1V1195h1V1223.8h1V1214.1h1V1185.3h1V1182.2h1V1225.4h1V1210.9h1V1235.3h1V1218.2h1V1179.6h1V1185.5h1V1195.1h1V1162.5h1V1177.2h1V1180.2h1V1210.3h1V1207.1h1V1177.1h1V1223.1h1V1197.3h1V1219.1h1V1226.3h1V1219.2h1V1222.4h1V1225.1h1V1236.1h1V1237.3h1V1224.8h1V1224h1V1232.3h1V1211.9h1V1229h1V1241.5h1V1218.9h1V1222h1V1210.7h1V1218.7h1V1209.6h1V1198.8h1V1209.1h1V1209.9h1V1211.6h1V1229.5h1V1223.8h1V1222.1h1V1215.4h1V1203.3h1V1218.1h1V1221.7h1V1237.7h1V1232h1V1238.7h1V1222.4h1V1214.6h1V1222.2h1V1220.8h1V1210.2h1V1213.7h1V1231.5h1V1197.9h1V1203.4h1V1217.7h1V1197.8h1V1221.5h1V1217.1h1V1202h1V1180.7h1V1185h1V1202.4h1V1178.5h1V1177.7h1V1185.2h1V1214.3h1V1225.1h1V1188.8h1V1225.3h1V1211h1V1217.5h1V1220.3h1V1214.9h1V1184.9h1V1182.7h1V1178.9h1V1207.8h1V1230.6h1V1220.7h1V1214.1h1V1208.4h1V1205.2h1V1188h1V1207.3h1V1212.4h1V1204.1h1V1202.5h1V1213.6h1V1220.3h1V1219h1V1231.2h1V1218.6h1V1219.1h1V1229.8h1V1221.9h1V1230.2h1V1238.4h1V1218.4h1V1215h1V1220.9h1V1240.6h1V1237.4h1V1221.3h1V1222h1V1222.3h1V1228.4h1V1228.3h1V1225.1h1V1203.6h1V1244.4h1V1216.2h1V1214.6h1V1234.4h1V1220.2h1V1225.2h1V1215.7h1V1211h1V1229.4h1V1233.1h1V1227.8h1V1234.1h1V1219.6h1V1230.1h1V1233h1V1207.7h1V1228.7h1V1244.1h1V1226.7h1V1225h1V1178.6h1V1232.8h1V1226.5h1V1223.1h1V1233.5h1V1224.9h1V1204h1V1208.2h1V1227.6h1V1240.5h1V1237.7h1V1228.2h1V1210.5h1V1232.5h1V1237.2h1V1229.3h1V1221.9h1V1230.2h1V1228h1V1209.6h1V1174.7h1V1177.1h1V1208.7h1V1216.1h1V1206.1h1V1183.1h1V1233.6h1V1219.8h1V1222.7h1V1230.8h1V1210h1V1222.9h1V1224.7h1V1221.5h1V1219.5h1V1234.6h1V1243.6h1V1232.1h1V1198.5h1V1236.8h1V1237.5h1V1225h1V1209h1V1193h1V1215.3h1V1217.7h1V1205.1h1V1197.3h1V1214.5h1V1226.8h1V1220.1h1V1206.2h1V1211.6h1V1228.4h1V1188.6h1V1239.7h1V1220.5h1V1206.6h1V1211.5h1V1216.9h1V1211.2h1V1185.8h1V1127.5h1V1160h1V1198.3h1V1198.5h1V1215.7h1V1206.4h1V1204.7h1V1157.1h1V1211.2h1V1220.5h1V1193h1V1212.1h1V1208.4h1V1230.4h1V1196.6h1V1194.6h1V1187.4h1V1202.2h1V1213h1V1209.2h1V1221.2h1V1222.5h1V1219h1V1221.5h1V1232h1V1212.4h1V1199.9h1V1213.8h1V1146h1V1200h1V1169.7h1V1159.7h1V1142.5h1V1183.5h1V1184.1h1V1194.5h1V1204.3h1V1202.5h1V1157.8h1V1227.7h1V1181.2h1V1191.1h1V1185.3h1V1191.5h1V1159.8h1V1189.9h1V1197.9h1V1181.6h1V1164.8h1V1210.5h1V1215.1h1V1195.4h1V1216.2h1V1196.1h1V1214.9h1V1225.5h1V1199h1V1212.7h1V1200.2h1V1220h1V1212.8h1V1230.2h1V1159h1V1210.5h1V1236.4h1V1231.9h1V1221.3h1V1191.4h1V1199.8h1V1217.3h1V1215.3h1V1230.2h1V1216.2h1V1224.2h1V1230.9h1V1228.1h1V1221.3h1V1224.6h1V1204.4h1V1220.6h1V1184.7h1V1222.9h1V1222.8h1V1219.4h1V1229.7h1V1205.5h1V1197.1h1V1200.2h1V1226.8h1V1212h1V1228.5h1V1217.8h1V1214.1h1V1221h1V1218.6h1V1222.6h1V1183.7h1V1209.7h1V1193.2h1V1187.5h1V1201.1h1V1214.5h1V1182.8h1V1182.1h1V1200h1V1092.5h1V1095h1V1171.7h1V1077.5h1V1181.1h1V1134.8h1V1172.9h1V1134.8h1V1152.1h1V1122.5h1V1146.1h1V1156.2h1V1158.9h1V1199.9h1V1174.4h1V1136.2h1V1177.1h1V1176h1V1119h1V1195.9h1V1184.7h1V1184.2h1V1194.4h1V1134h1V1204.3h1V1188.1h1V1200.6h1V1221.1h1V1209.7h1V1176.2h1V1192.9h1V1197.3h1V1202.1h1V1190.8h1V1181.6h1V1176.4h1V1155.1h1V1041h1V1087h1V1166h1V1157.9h1V1180.8h1V1173.3h1V1101h1V1135h1V1193.1h1V1222.4h1V1174.8h1V1213.9h1V1177.2h1V1186.4h1V1213.3h1V1137.5h1V1183.2h1V1210.6h1V1200.2h1V1185h1V1193.1h1V1191.5h1V1207.6h1V1217h1V1209.5h1V1150h1V1203.8h1V1210.3h1V1192.5h1V1208.7h1V1209.4h1V1186.5h1V1195h1V1171.5h1V1170.8h1V1192.7h1V1171.5h1V1184.6h1V1164.4h1V1179.1h1V1181.9h1V1200h1V1220.3h1V1203.4h1V1199.3h1V1187.4h1V1197.4h1V1183.9h1V1126h1V1155h1V1193.3h1V1181.5h1V1192.3h1V1167.9h1V1180.8h1V1192.4h1V1226.5h1V1202.7h1V1205h1V1212.7h1V1195.4h1V1208.4h1V1203.5h1V1175.6h1V1207.6h1V1165h1V1121.8h1V1209.3h1V1198.7h1V1187.3h1V1221.2h1V1204.5h1V1216.2h1V1205.3h1V1186h1V1152.5h1V1201.6h1V1151.7h1V1197.6h1V1214.8h1V1160h1V1200.5h1V1203h1V1196.3h1V1205.5h1V1187h1V1214.4h1V1199.9h1V1175.1h1V1198.5h1V1211.1h1V1216.5h1V1189.6h1V1132h1V1162h1V1220.9h1V1189.7h1V1206.1h1V1196.4h1V1207.3h1V1232.3h1V1191h1V1230.5h1V1225.8h1V1217.7h1V1209.3h1V1214h1V1217.7h1V1215h1V1245.5h1V1177.2h1V1173.6h1V1174.2h1V1156.7h1V1173.5h1V1120h1V1160.6h1V1138h1V1185.3h1V1164h1V1181h1V1206.8h1V1186.4h1V1183.1h1V1223h1V1210.4h1V1190.7h1V1199.3h1V1221.4h1V1202.4h1V1190.9h1V1210.4h1V1217.9h1V1221.8h1V1182.5h1V1200h1V1226h1V1183.9h1V1150h1V1169.3h1V1108.8h1V1202.8h1V1203.3h1V1210.9h1V1221.7h1V1215.5h1V1223.7h1V1216.2h1V1178.3h1V1209.4h1V1198.8h1V1189.5h1V1182.5h1V1205.4h1V1193.7h1V1210.2h1V1014h1V1070h1V1140.9h1V1201.8h1V1208.9h1V1200.2h1V1219.7h1V1212.5h1V1220.4h1V1219.1h1V1196.8h1V1197.7h1V1217.8h1V1216.9h1V1225.3h1V1212.4h1V1210.1h1V1209.1h1V1191.2h1V1214.4h1V1214.5h1V1175.7h1V1193.1h1V1190.3h1V1203h1V1176.2h1V1185.1h1V1181.5h1V1174.1h1V1125h1V1073h1V1134.8h1V1096h1V1176.4h1V1183.5h1V1185.3h1V1167.5h1V1187.3h1V1177.3h1V1152.4h1V1181.2h1V1190.8h1V1178.3h1V1212.9h1V1202.3h1V1200.8h1V1223.7h1V1220.3h1V1215.1h1V1224.9h1V1235.1h1V1193h1V1222.1h1V1229.6h1V1221.5h1V1193.1h1V1139.5h1V1220.2h1V1223.7h1V1215.2h1V1227.7h1V1213.1h1V1225.5h1V1222.4h1V1170.1h1V1200.4h1V1199.3h1V1220.5h1V1217.2h1V1233.1h1V1158h1V1228.3h1V1236.4h1V1236.3h1V1219.1h1V1230.1h1V1200.1h1V1233.1h1V1184.7h1V1212.6h1V1226.9h1V1218.9h1V1216.8h1V1204h1V1209.5h1V1184.9h1V1184.5h1V1228.1h1V1222.4h1V1237.7h1V1185.2h1V1213.5h1V1225.8h1V1223.5h1V1220.4h1V1223.2h1V1222.1h1V1201.3h1V1209.5h1V1190.3h1V1182.2h1V1178.7h1V1178.7h1V1172.2h1V1201.5h1V1192.1h1V1150h1V1193h1V1185.8h1V1174.5h1V1191.5h1V1192.2h1V1147h1V1201.9h1V1214.9h1V1189.6h1V1163h1V1205.8h1V1214.3h1V1210.9h1V1222.9h1V1224.6h1V1208.6h1V1212.4h1V1216.4h1V1183.7h1V1222.8h1V1169.9h1V1216.4h1V1200.5h1V1220.5h1V1227h1V1224.6h1V1240.8h1V1231.1h1V1228.7h1V1215.2h1V1231.4h1V1040.5h1V1218.9h1V1165.8h1V1232.3h1V1238.5h1V1162h1V1224.8h1V1228.6h1V1214.5h1V1217.3h1V1219.2h1V1244.3h1V1221.9h1V1231.2h1V1188.5h1V1221.5h1V1205.4h1V1224.4h1V1226.3h1V1227.2h1V1221.3h1V1212.6h1V1152.5h1V1185.8h1V1211.4h1V1214.5h1V1190.9h1V1222h1V1163.8h1V1213h1V1209.7h1V1168.8h1V1169.7h1V1208h1V1195.8h1V1206.5h1V1173.6h1V1186h1V1173.9h1V1136.7h1V1155h1V1125h1V1198.3h1V1201.2h1V1170.1h1V1203.2h1V1208.1h1V1195.3h1V1187.8h1V1128h1V1202.5h1V1179.6h1V1209.7h1V1197h1V1184.5h1V1197.6h1V1197.4h1V1211.9h1V1232.5h1V1177h1V1225.4h1V1234.8h1V1238.6h1V1237.7h1V1199.6h1V1235.7h1V1235.5h1V1229h1V1233.9h1V1227.7h1V1240.6h1V1232.4h1V1226.5h1V1213.7h1V1219.4h1V1235.6h1V1225.9h1V1227.8h1V1195.2h1V1229.5h1V1220.8h1V1220.9h1V1229.4h1V1195.3h1V1219h1V1192.6h1V1218.9h1V1217.3h1V1209.6h1V1177.2h1V1182h1V1222.6h1V1219.1h1V1227.9h1V1216.4h1V1235h1V1207.6h1V1209.3h1V1220.3h1V1193.3h1V1206.2h1V1213.8h1V1187.6h1V1211.1h1V1202.5h1V1209.3h1V1197.4h1V1171.7h1V1190.2h1V1228.8h1V1184.6h1V1171h1V1145h1V1108.8h1V1174.7h1V1175.5h1V1170.5h1V1194.9h1V1185.7h1V1177.8h1V1149.2h1V1136h1V1191.7h1V1182.9h1V1181.4h1V1223.3h1V1220.5h1V1211.7h1V1214.6h1V1225.4h1V1220.6h1V1205.6h1V1197h1V1202.1h1V1203.2h1V1207.8h1V1228.4h1V1198.5h1V1222.8h1V1214.1h1V1142h1V1137.3h1V1179.3h1V1213h1V1162h1V1177.8h1V1187.1h1V1205h1V1185.9h1V1211.4h1V1172.6h1V1216.9h1V1223.6h1V1207.3h1V1200.3h1V1225.3h1V1230.9h1V1224.5h1V1178.7h1V1225.2h1V1232h1V1211.1h1V1230h1V1228.6h1V1228.9h1V1209.1h1V1214.8h1V1228h1V1239.4h1V1214.3h1V1229.9h1V1244.9h1V1236.8h1V1229.4h1V1222.7h1V1214.7h1V1226.8h1V1212.7h1V1215.2h1V1224.1h1V1212h1V1192.8h1V1182.3h1V1237h1V1195.6h1V1180.2h1V1199.8h1V1207h1V1195.5h1V1189.6h1V1209.2h1V1183.7h1V1152.5h1V1171.9h1V1200.5h1V1223.4h1V1219.3h1V1176.3h1V1185.5h1V1208.8h1V1198.9h1V1197.6h1V1216.2h1V1232h1V1199.2h1V1178.5h1V1223.3h1V1211h1V1229.9h1V1213.1h1V1233.1h1V1219.4h1V1235.1h1V1236.2h1V1214.8h1V1237h1V1218.8h1V1216.3h1V1211.7h1V1234h1V1194.9h1V1211.5h1V1216.6h1V1220.5h1V1227.5h1V1237.5h1V1223.9h1V1226.5h1V1189.1h1V1239.4h1V1213.3h1V1223.9h1V1198.4h1V1214.3h1V1226.7h1V1214.6h1V1214.7h1V1207.1h1V1229.4h1V1237.6h1V1228h1V1224.4h1V1234.9h1V1219.1h1V1214.3h1V1209.6h1V1218.7h1V1216.5h1V1220.5h1V1200.4h1V1198.3h1V1207.8h1V1211.8h1V1219.9h1V1187h1V1202h1V1185.4h1V1205h1V1197.1h1V1186.1h1V1181h1V1142h1V1095.5h1V1175.6h1V1134.8h1V1173.2h1V1174.7h1V1180.3h1V1178.6h1V1134.8h1V1184.3h1V1129.5h1V1193.9h1V1209h1V1185.3h1V1191.9h1V1200.3h1V1199.1h1V1201.2h1V1205.3h1V1199.1h1V1207.5h1V1224.4h1V1198.8h1V1215.2h1V1224.6h1V1125.5h1V1150h1V1217.6h1V1208.7h1V1208.4h1V1223.4h1V1214.4h1V1215.2h1V1228.9h1V1218.9h1V1229.8h1V1224.3h1V1229.3h1V1219.8h1V1184.9h1V1195.2h1V1221.6h1V1196.1h1V1209.9h1V1228.4h1V1135h1V1207.7h1V1218.5h1V1225.3h1V1231.2h1V1204.9h1V1177.5h1V1217.5h1V1202.9h1V1184.8h1V1200.6h1V1216.8h1V1226.9h1V1224.8h1V1228.1h1V1222.6h1V1214.2h1V1225.6h1V1208.8h1V1226.4h1V1195.2h1V1196.2h1V1179.2h1V1182.6h1V1236.7h1V1174.7h1V1177.6h1V1185.9h1V1165.1h1V1172.3h1V1208h1V1201.5h1V1199.2h1V1180.2h1V1212.3h1V1213h1V1222.4h1V1212h1V1199.9h1V1209.5h1V1153h1V1238.8h1V1218.5h1V1232.3h1V1169.5h1V1225.7h1V1204.2h1V1229h1V1233.5h1V1235.5h1V1226.9h1V1215.4h1V1220.1h1V1216.9h1V1228.5h1V1209.8h1V1205.1h1V1204.4h1V1201.6h1V1206.8h1V1208.1h1V1149.5h1V1199.3h1V1177.2h1V1134.8h1V1182.8h1V1187.5h1V1207.5h1V1172.7h1V1192.3h1V1204.2h1V1189.3h1V1221.1h1V1177.5h1V1218h1V1192.4h1V1196.9h1V1209.7h1V1143h1V1211.1h1V1219.2h1V1205.4h1V1221.9h1V1227.2h1V1197.1h1V1225.1h1V1228.3h1V1233.2h1V1222.2h1V1233.5h1V1223.8h1V1195.5h1V1208.2h1V1225.7h1V1192.8h1V1188.1h1V1174h1V1210.8h1V1183.6h1V1152.7h1V1143.8h1V1134.8h1V1194.5h1V1172.2h1V1190h1V1170h1V1155.9h1V1187.5h1V1174.4h1V1189.7h1V1184.9h1V1218.3h1V1218.6h1V1222.2h1V1201.1h1V1216.7h1V1207.5h1V1187.5h1V1203.7h1V1214.6h1V1212.2h1V1217.1h1V1191.7h1V1219.5h1V1234.5h1V1216.3h1V1213.3h1V1213.9h1V1180.5h1V1216.2h1V1225.6h1V1212.2h1V1237.9h1V1206.7h1V1192.6h1V1222.2h1V1193.7h1V1189.5h1V1227.7h1V1236.5h1V1234h1V1220.1h1V1185.8h1V1223h1V1228.4h1V1221.3h1V1227.5h1V1221.3h1V1227.6h1V1214.7h1V1215.9h1V1192.3h1V1210.9h1V1208.9h1V1200.7h1V1204.2h1V1229.2h1V1211.1h1V1196.7h1V1228.9h1V1221.9h1V1216h1V1190.2h1V1196.3h1V1192.3h1V1207.1h1V1208.7h1V1209.3h1V1213.1h1V1182.5h1V1201.8h1V1229.2h1V1171.9h1V1166h1V1177.2h1V1180.9h1V1213.4h1V1178.9h1V1157h1V1234.2h1V1222.9h1V1200.2h1V1230.5h1V1200.9h1V1214.7h1V1203.9h1V1209h1V1186.3h1V1194.5h1V1223.5h1V1205.6h1V1226.8h1V1215.8h1V1191.3h1V1209.8h1V1219h1V1197.2h1V1184.2h1V1216.5h1V1207.6h1V1185.6h1V1237.1h1V1233.4h1V1173.9h1V1228.4h1V1217.1h1V1225.5h1V1207h1V1186.7h1V1187.8h1V1219.2h1V1212.4h1V1202.1h1V1215.9h1V1215.1h1V1223.5h1V1170.9h1V1217.7h1V1239.6h1V1233.4h1V1218.2h1V1218.2h1V1224.4h1V1227.5h1V1228.4h1V1213.7h1V1230.7h1V1224.6h1V1175.9h1V1212.5h1V1221h1V1132.5h1V1223.2h1V1225.7h1V1220.7h1V1192.5h1V1195.4h1V1220.9h1V1224.9h1V1233.3h1V1232.6h1V1237.5h1V1194.1h1V1236.2h1V1220.8h1V1176.8h1V1142h1V1170h1V1165.4h1V1180.9h1V1202.4h1V1216.3h1V1212.9h1V1174.9h1V1235.9h1V1222.4h1V1229.1h1V1207.1h1V1194.5h1V1213.5h1V1185.4h1V1137h1V1225.8h1V1222.5h1V1179.2h1V1221.8h1V1242.1h1V1203.4h1V1243.2h1V1246.2h1V1230.5h1V1229.8h1V1233.3h1V1233.3h1V1224.6h1V1235.4h1V1164.6h1V1206.8h1V1211.4h1V1232.4h1V1220.8h1V1210.8h1V1187.3h1V1205.6h1V1223.9h1V1229h1V1225.2h1V1226.6h1V1214.9h1V1240.9h1V1188.1h1V1221.4h1V1202.7h1V1224.1h1V1218h1V1218.2h1V1203.6h1V1214.1h1V1207.5h1V1219.1h1V1188.9h1V1225.8h1V1181.3h1V1162.8h1V1129.5h1V1212.3h1V1227.1h1V1226h1V1232.3h1V1225.3h1V1179.3h1V1224.1h1V1226h1V1211.8h1V1200.6h1V1186.8h1V1220.6h1V1166.5h1V1177.1h1V1162.8h1V1176.9h1V1171.7h1V1174.3h1V1175.5h1V1188.1h1V1192.4h1V1185.7h1V1181.9h1V1181.5h1V1169.7h1V1160h1V1200.2h1V1185.5h1V1143h1V1165h1V1202.5h1V1184.7h1V1194.3h1V1227.8h1V1219.2h1V1201.2h1V1200.8h1V1221.6h1V1208.1h1V1179.2h1V1224.6h1V1235.9h1V1221.6h1V1199h1V1201.9h1V1205.9h1V1214.6h1V1238.1h1V1225.9h1V1222h1V1196.4h1V1183.9h1V1210.8h1V1209h1V1209.1h1V1182.1h1V1196.9h1V1184.9h1V1146h1V1206.9h1V1123.8h1V1183.7h1V1216.2h1V1146.8h1V1169.7h1V1196.2h1V1210.9h1V1176.9h1V1201.4h1V1200.1h1V1178.9h1V1209.7h1V1223.7h1V1232h1V1191.7h1V1196.5h1V1182.8h1V1229h1V1218.1h1V1183.5h1V1213h1V1208.4h1V1165.5h1V1216.3h1V1220h1V1192.5h1V1191.7h1V1248.8h1V1271.6Z" fill="#2ca02c" fill-opacity="0.7" shape-rendering="crispEdges"/>
<path d="M230 1271.6V1184.7h1V1204.9h1V1204.3h1V1211.9h1V1230.9h1V1232h1V1234.3h1V1218.6h1V1226.8h1V1230.4h1V1219.5h1V1235.1h1V1231.2h1V1222.1h1V1227.2h1V1226.5h1V1220.3h1V1234.8h1V1225.1h1V1225h1V1245.8h1V1227h1V1217.4h1V1231.8h1V1219.9h1V1221h1V1240h1V1244.7h1V1245.7h1V1233.7h1V1205.6h1V1222.8h1V1226h1V1207.5h1V1203.5h1V1195.4h1V1169.9h1V1134.8h1V1164h1V1200.2h1V1215.9h1V1208.2h1V1212h1V1194.3h1V1222.9h1V1226.3h1V1225h1V1236.8h1V1231.7h1V1228.4h1V1214.6h1V1233.9h1V1213.3h1V1238.6h1V1231.5h1V1205.4h1V1225.6h1V1219.8h1V1222h1V1235.1h1V1195.7h1V1219.9h1V1223.2h1V1225.3h1V1227.7h1V1231.3h1V1198.1h1V1224.1h1V1225h1V1213.9h1V1211.2h1V1225.5h1V1212h1V1184.8h1V1177h1V1198.6h1V1197.6h1V1178.3h1V1202h1V1201.7h1V1186.9h1V1209h1V1211.7h1V1209.8h1V1196.9h1V1223.8h1V1214.6h1V1219.6h1V1219.8h1V1223.9h1V1230.7h1V1194h1V1231.8h1V1225h1V1217.7h1V1216.7h1V1226.5h1V1231.4h1V1230.7h1V1229.4h1V1233.4h1V1223.4h1V1198.2h1V1206.2h1V1198.5h1V1230.2h1V1213.5h1V1223.7h1V1204.9h1V1207.9h1V1206h1V1222h1V1221.2h1V1225.1h1V1224.1h1V1207.8h1V1231.6h1V1243h1V1226.3h1V1219.8h1V1222h1V1198.4h1V1207.8h1V1232.1h1V1231.5h1V1212.7h1V1233.2h1V1217.7h1V1246.5h1V1227.1h1V1226.1h1V1203.4h1V1233.8h1V1237.2h1V1245.6h1V1233.9h1V1236.8h1V1224.7h1V1241.8h1V1220.8h1V1224.9h1V1223.2h1V1229.5h1V1205h1V1226.4h1V1212.4h1V1248.4h1V1193.9h1V1184.3h1V1201.4h1V1211.2h1V1212.5h1V1202.9h1V1223h1V1222.7h1V1229.2h1V1225.2h1V1232.9h1V1221.1h1V1231.4h1V1200.5h1V1224.1h1V1223.2h1V1223.6h1V1232.3h1V1216h1V1221.5h1V1219.5h1V1230.6h1V1229.4h1V1236.6h1V1234.4h1V1227.1h1V1205.9h1V1227h1V1214.3h1V1230.9h1V1222.2h1V1232.1h1V1216.2h1V1221.2h1V1196.5h1V1230.6h1V1207h1V1218.9h1V1212.3h1V1183.5h1V1236.5h1V1221.8h1V1226.8h1V1211.3h1V1230.9h1V1227.9h1V1221.5h1V1212.5h1V1227.7h1V1236.2h1V1222.1h1V1217.8h1V1231.3h1V1232.3h1V1221.5h1V1228.5h1V1222.9h1V1236.6h1V1217.6h1V1226.2h1V1236.7h1V1234.9h1V1227.4h1V1232.4h1V1240.8h1V1236.4h1V1237.6h1V1230.6h1V1228.3h1V1233.8h1V1215.1h1V1204.3h1V1219.9h1V1230.2h1V1172.9h1V1186.9h1V1154.5h1V1171.9h1V1186.9h1V1192.4h1V1186.4h1V1181h1V1203h1V1172.1h1V1194.1h1V1187.4h1V1204.3h1V1185.3h1V1179.8h1V1176.2h1V1187.1h1V1220.2h1V1226.9h1V1208.7h1V1214.4h1V1225.6h1V1225.5h1V1222.9h1V1231.1h1V1231.6h1V1233.1h1V1240.2h1V1240.9h1V1245.6h1V1234.5h1V1218h1V1232.8h1V1238.4h1V1233.8h1V1227.9h1V1228.4h1V1230.5h1V1239.4h1V1243.7h1V1245.2h1V1236.3h1V1243.5h1V1241.2h1V1222.3h1V1214.6h1V1231.5h1V1214.1h1V1212.4h1V1223.7h1V1235h1V1231.5h1V1208.6h1V1215.4h1V1212.3h1V1204.8h1V1227h1V1222.6h1V1228h1V1216.8h1V1222.6h1V1237.3h1V1229.8h1V1239.4h1V1237.6h1V1228.3h1V1195.2h1V1233.8h1V1224.9h1V1226.5h1V1211.9h1V1228.2h1V1236.2h1V1167.7h1V1175.3h1V1185.9h1V1187.2h1V1192.7h1V1203h1V1198.4h1V1187h1V1217.5h1V1201.9h1V1218.3h1V1225.9h1V1233.3h1V1212.6h1V1231.8h1V1221.8h1V1234.2h1V1223.8h1V1229.7h1V1228.1h1V1232.5h1V1243.1h1V1239.5h1V1240.4h1V1228.4h1V1216.7h1V1229.2h1V1239.4h1V1235.7h1V1230.4h1V1213h1V1220.8h1V1215.4h1V1216h1V1222.2h1V1227.8h1V1200.6h1V1223.7h1V1229.9h1V1235.6h1V1233.8h1V1228.9h1V1233.6h1V1236.9h1V1231.2h1V1233.4h1V1225.8h1V1225.8h1V1243.1h1V1232h1V1232.2h1V1231.3h1V1230.3h1V1227.6h1V1225.3h1V1223.4h1V1223.3h1V1235.2h1V1220.6h1V1240.6h1V1243.1h1V1235.3h1V1222.5h1V1238.3h1V1241.9h1V1228.9h1V1229.9h1V1229h1V1217.6h1V1235h1V1223.9h1V1224.2h1V1234.1h1V1241.9h1V1186.5h1V1177.7h1V1166.4h1V1150h1V1173.4h1V1176.8h1V1185.3h1V1177.8h1V1171.7h1V1175.7h1V1184.4h1V1179.6h1V1196.3h1V1206.2h1V1213.2h1V1231.6h1V1228.9h1V1222.8h1V1232.2h1V1233.3h1V1221h1V1223.2h1V1231.9h1V1220h1V1211.4h1V1224.9h1V1229h1V1248.5h1V1222.3h1V1229.2h1V1239.6h1V1232.7h1V1222.9h1V1228.4h1V1229.3h1V1241.2h1V1224h1V1220.3h1V1226.9h1V1219.1h1V1215.4h1V1219.7h1V1230.7h1V1225.7h1V1226.9h1V1211.7h1V1215.8h1V1194.4h1V1224.1h1V1240.1h1V1225.1h1V1233.2h1V1186.9h1V1225.5h1V1209.1h1V1211.9h1V1191.2h1V1219.9h1V1234h1V1217.6h1V1228.8h1V1216.5h1V1230.9h1V1234.4h1V1241.4h1V1206.9h1V1223.7h1V1231h1V1216.4h1V1208.6h1V1196.1h1V1226h1V1245.4h1V1219.2h1V1211.5h1V1204.2h1V1215.1h1V1217.6h1V1230.5h1V1234.6h1V1225.9h1V1215h1V1219.1h1V1206h1V1214.3h1V1230.4h1V1213.6h1V1229.4h1V1200.1h1V1233.5h1V1223.1h1V1221.6h1V1244.5h1V1237h1V1219.5h1V1244.6h1V1227.3h1V1239.2h1V1233.7h1V1243.8h1V1235.5h1V1247.1h1V1251.2h1V1223.2h1V1220.3h1V1227h1V1221.8h1V1239h1V1212.3h1V1219.5h1V1226.8h1V1213h1V1229.4h1V1235.5h1V1241h1V1231.5h1V1227.7h1V1221.2h1V1222.4h1V1229.9h1V1224.5h1V1234.4h1V1231.2h1V1208h1V1222.5h1V1195.2h1V1222.4h1V1219.8h1V1197.4h1V1219.3h1V1222.9h1V1227.4h1V1226.6h1V1211.4h1V1211.4h1V1215.3h1V1231.1h1V1218.5h1V1221.1h1V1214.3h1V1221.2h1V1229.3h1V1213.9h1V1194.9h1V1212.1h1V1219.6h1V1238.1h1V1154.2h1V1165.9h1V1184.3h1V1183.3h1V1178.1h1V1185.9h1V1200.6h1V1180.8h1V1205.3h1V1181.2h1V1213.8h1V1185.5h1V1205.1h1V1209.4h1V1216.5h1V1235.6h1V1233.5h1V1230.9h1V1226.2h1V1195.5h1V1217.4h1V1231h1V1221.3h1V1211.1h1V1219.1h1V1229.5h1V1215h1V1226.6h1V1214.4h1V1234.5h1V1226.3h1V1231.3h1V1213.5h1V1219.9h1V1234.7h1V1240h1V1219h1V1215.6h1V1228.5h1V1234.8h1V1221.6h1V1213.8h1V1213.9h1V1226.7h1V1210.2h1V1231.9h1V1216.6h1V1219.3h1V1181h1V1217h1V1237.4h1V1218.9h1V1210.4h1V1232.7h1V1224.1h1V1236h1V1218.7h1V1221.9h1V1221.7h1V1230.2h1V1232.9h1V1234.1h1V1232h1V1222.8h1V1208.1h1V1223.6h1V1230.5h1V1216.2h1V1230.3h1V1219.9h1V1200.8h1V1213.4h1V1225.7h1V1209.8h1V1173.6h1V1173h1V1196.5h1V1187.2h1V1213.9h1V1226.2h1V1216.3h1V1230.6h1V1227.7h1V1214.8h1V1213.2h1V1210.3h1V1211.6h1V1234.4h1V1240.5h1V1242.1h1V1240h1V1232.8h1V1218.8h1V1238.1h1V1235.1h1V1242.2h1V1220.9h1V1202.4h1V1209.9h1V1240h1V1224h1V1204.2h1V1205.8h1V1237.9h1V1237.1h1V1229.6h1V1226.3h1V1215.6h1V1205.1h1V1207.2h1V1214.4h1V1222.7h1V1220.6h1V1228.9h1V1227h1V1230.7h1V1235.7h1V1215.6h1V1233h1V1209.5h1V1232h1V1224.1h1V1239.2h1V1239.6h1V1232.7h1V1224.5h1V1244.2h1V1238.5h1V1228.8h1V1232.1h1V1224.7h1V1223.5h1V1227h1V1243.3h1V1227.8h1V1228.1h1V1227.7h1V1205.5h1V1215.9h1V1221.4h1V1217.9h1V1226.2h1V1232.8h1V1224.8h1V1216h1V1225.7h1V1253.2h1V1220.4h1V1218.6h1V1222.2h1V1199.6h1V1214.6h1V1203.3h1V1204.1h1V1219.1h1V1209.5h1V1193.6h1V1212.5h1V1204.6h1V1198.8h1V1211.3h1V1215.6h1V1207.4h1V1216.2h1V1206.6h1V1221.1h1V1231.9h1V1213.5h1V1229.8h1V1223.4h1V1235.9h1V1223.3h1V1221.7h1V1233.4h1V1224.5h1V1227.3h1V1234.7h1V1221.9h1V1221.2h1V1228.7h1V1238.6h1V1228.9h1V1206.3h1V1218.5h1V1202.5h1V1196.1h1V1210.6h1V1199.4h1V1224.5h1V1239.3h1V1223.4h1V1231h1V1225.2h1V1228.4h1V1227.2h1V1233.8h1V1215h1V1218.3h1V1234.1h1V1234h1V1230.7h1V1227.5h1V1226.7h1V1203.9h1V1230.4h1V1208.5h1V1208.2h1V1193.2h1V1228.3h1V1205h1V1210.8h1V1216.3h1V1185.6h1V1152.9h1V1212.6h1V1202.5h1V1203.1h1V1179h1V1201.7h1V1180.1h1V1186h1V1183.9h1V1191.6h1V1207.6h1V1186.7h1V1205.9h1V1209.3h1V1213.6h1V1216.1h1V1187h1V1215.7h1V1219.7h1V1223.2h1V1235.3h1V1227.7h1V1227.6h1V1227.8h1V1222h1V1210.7h1V1222.9h1V1219.8h1V1228.6h1V1209.8h1V1227.3h1V1229.3h1V1230.1h1V1240.8h1V1235.7h1V1241.7h1V1227.5h1V1229.3h1V1222.9h1V1232.7h1V1229.9h1V1219.4h1V1227.7h1V1217h1V1203.8h1V1216.7h1V1235.2h1V1235.8h1V1206.7h1V1232.6h1V1238.6h1V1220.6h1V1228.4h1V1218.3h1V1230.4h1V1236.7h1V1232.6h1V1200.1h1V1226.8h1V1217.7h1V1210.5h1V1214.4h1V1207h1V1235h1V1214.6h1V1213.9h1V1196.2h1V1213.3h1V1202.4h1V1174.4h1V1184.4h1V1200.1h1V1190.2h1V1208.9h1V1170.7h1V1191.6h1V1212.9h1V1210.5h1V1208.1h1V1190.1h1V1231.7h1V1181.8h1V1194.8h1V1176.3h1V1179.6h1V1205h1V1208.8h1V1193.5h1V1224.1h1V1216h1V1197.5h1V1214.7h1V1223.2h1V1229.1h1V1230.6h1V1227.8h1V1232.1h1V1244h1V1231.7h1V1230.2h1V1223.8h1V1211.4h1V1230.2h1V1235.3h1V1220.8h1V1239.9h1V1220.3h1V1244.7h1V1232.7h1V1232.3h1V1226.9h1V1216.9h1V1224.4h1V1210.4h1V1231.6h1V1230.6h1V1240.2h1V1232.1h1V1244.3h1V1224.6h1V1220.7h1V1235.7h1V1223h1V1224.5h1V1233.6h1V1231.6h1V1241.3h1V1234.6h1V1239.1h1V1226.3h1V1238.1h1V1244.3h1V1236.7h1V1231.8h1V1231.5h1V1229.9h1V1229.6h1V1228h1V1221h1V1239.9h1V1226.8h1V1232.9h1V1224.6h1V1216.6h1V1232.8h1V1221.3h1V1227.2h1V1223.9h1V1221.8h1V1222.7h1V1223h1V1232.2h1V1214.4h1V1248.5h1V1250h1V1200.5h1V1199.2h1V1212.5h1V1195.5h1V1189.2h1V1207h1V1218.9h1V1222.2h1V1218.2h1V1228.3h1V1227.7h1V1223.3h1V1226.5h1V1231.6h1V1236.2h1V1237.9h1V1237.6h1V1240.6h1V1234.1h1V1228.6h1V1238.1h1V1214.3h1V1231.4h1V1247.6h1V1220.8h1V1235.5h1V1226h1V1234.1h1V1218.2h1V1208.5h1V1220.6h1V1226.6h1V1243.7h1V1232.3h1V1239.7h1V1230.5h1V1228.2h1V1212.6h1V1230.5h1V1226.6h1V1239.4h1V1240.9h1V1241.7h1V1231.6h1V1220.8h1V1225.8h1V1237.4h1V1216.6h1V1231.2h1V1233h1V1224.1h1V1219.6h1V1218.1h1V1206.5h1V1231.1h1V1218.1h1V1205.9h1V1191.4h1V1196h1V1218h1V1229.4h1V1180.8h1V1214.1h1V1228.9h1V1231.7h1V1200.6h1V1226.7h1V1224.6h1V1226.9h1V1221.3h1V1227h1V1214h1V1237.1h1V1181.2h1V1214.8h1V1235.2h1V1232.3h1V1216.5h1V1221.9h1V1224h1V1197.2h1V1211.6h1V1213.9h1V1207.4h1V1221.2h1V1217.4h1V1223.8h1V1233.6h1V1235.3h1V1235.7h1V1231.9h1V1233.6h1V1233h1V1237.1h1V1240.5h1V1225.9h1V1223.9h1V1246.2h1V1243.4h1V1243.5h1V1237.9h1V1236.8h1V1227.8h1V1230.6h1V1235.6h1V1235.3h1V1222.7h1V1245h1V1235.4h1V1234.5h1V1242.1h1V1237.8h1V1227.3h1V1226.9h1V1234.1h1V1231.6h1V1239.2h1V1240h1V1235.8h1V1227.5h1V1236h1V1233.2h1V1209.1h1V1230h1V1247.3h1V1233.7h1V1238h1V1199.8h1V1234.1h1V1238h1V1235.6h1V1241.1h1V1226.8h1V1225.6h1V1221.3h1V1228.7h1V1242.3h1V1240.1h1V1247.4h1V1241.9h1V1239.2h1V1239.8h1V1240.4h1V1227.5h1V1236.9h1V1237.6h1V1246.5h1V1186.8h1V1189.9h1V1208.9h1V1222.5h1V1216.5h1V1203h1V1235.1h1V1221.6h1V1235.7h1V1232.4h1V1216.1h1V1223.3h1V1226.7h1V1229.4h1V1225.7h1V1236.2h1V1246.3h1V1233.6h1V1240h1V1239.9h1V1243.7h1V1225.9h1V1221.7h1V1231.4h1V1225.8h1V1218.7h1V1235.7h1V1212.7h1V1227.8h1V1233h1V1227h1V1220.5h1V1242.2h1V1234.4h1V1233.8h1V1240.7h1V1225.5h1V1210h1V1221.2h1V1223h1V1221.8h1V1207.3h1V1202.9h1V1210.8h1V1204.6h1V1210.1h1V1220.8h1V1209h1V1209.9h1V1235h1V1212.1h1V1223.7h1V1221.6h1V1214.8h1V1225.2h1V1235.1h1V1214h1V1235.2h1V1237.2h1V1226.6h1V1232.1h1V1212.9h1V1228.6h1V1234.3h1V1224.1h1V1222.3h1V1234.2h1V1232.5h1V1213.9h1V1221.3h1V1204.4h1V1204.8h1V1237.1h1V1171.3h1V1183.3h1V1204.7h1V1210h1V1218h1V1218h1V1205.8h1V1213.3h1V1229h1V1208.8h1V1226.4h1V1196.9h1V1218.9h1V1216.3h1V1219.3h1V1220.7h1V1194.2h1V1178h1V1227.5h1V1233.4h1V1201h1V1219.3h1V1221.6h1V1238h1V1230.8h1V1211.6h1V1225.8h1V1214.7h1V1226.9h1V1229.5h1V1231.9h1V1233.3h1V1220.4h1V1238.8h1V1235.4h1V1222.3h1V1196.4h1V1212.2h1V1230.5h1V1235.5h1V1230.9h1V1239.4h1V1229.1h1V1232.8h1V1235h1V1234.8h1V1230.8h1V1233.7h1V1236.1h1V1226.8h1V1224.6h1V1227.3h1V1226.4h1V1234.1h1V1227.1h1V1225.2h1V1232.2h1V1235.5h1V1224.8h1V1231.6h1V1227.9h1V1224.4h1V1223.5h1V1223.1h1V1231.2h1V1219h1V1228.3h1V1206.6h1V1203.8h1V1207.7h1V1223.2h1V1209.5h1V1182.1h1V1223.6h1V1179.3h1V1149.1h1V1180.8h1V1170.5h1V1187.7h1V1176.7h1V1179.1h1V1179.1h1V1166.9h1V1183.2h1V1172.7h1V1162.4h1V1185.1h1V1208.1h1V1185.6h1V1188.5h1V1178.3h1V1183.7h1V1183.3h1V1203.5h1V1187.9h1V1203.3h1V1208.7h1V1207.9h1V1209.9h1V1231.7h1V1223.1h1V1221.9h1V1227h1V1220.9h1V1202h1V1217h1V1215.4h1V1192.8h1V1202.1h1V1187.7h1V1167.3h1V1151.6h1V1166.2h1V1171.1h1V1183.6h1V1187.1h1V1181.4h1V1179.5h1V1182.9h1V1227.1h1V1223.2h1V1221.3h1V1218.9h1V1223.9h1V1214.1h1V1221.9h1V1195.2h1V1203.6h1V1210.8h1V1209.4h1V1195.1h1V1195.7h1V1207.3h1V1211.5h1V1226.4h1V1217.9h1V1216.4h1V1219.8h1V1222.9h1V1198.6h1V1214.4h1V1219.4h1V1189.7h1V1206.6h1V1203.9h1V1199.7h1V1203.3h1V1172.4h1V1184.7h1V1210h1V1182.4h1V1186.1h1V1209.5h1V1221.5h1V1208.1h1V1224.3h1V1201.4h1V1202h1V1211.4h1V1187.6h1V1184.5h1V1223h1V1199h1V1196.2h1V1203.1h1V1202h1V1198.2h1V1230.4h1V1218.7h1V1233.8h1V1214.1h1V1223.2h1V1215.1h1V1210.2h1V1212.9h1V1216.2h1V1194.4h1V1156.8h1V1212.3h1V1212.9h1V1200h1V1224.3h1V1221.5h1V1228.1h1V1208.3h1V1186.3h1V1181.2h1V1217.9h1V1224.2h1V1203.3h1V1234.3h1V1213.3h1V1221.1h1V1210.2h1V1210.9h1V1214.5h1V1217.4h1V1214.5h1V1202.6h1V1180.5h1V1218.5h1V1217.8h1V1230.5h1V1213.2h1V1187.7h1V1183.9h1V1230.4h1V1222.7h1V1213.5h1V1203.9h1V1209.4h1V1234.5h1V1198.4h1V1231.8h1V1233h1V1229.4h1V1229.2h1V1215.7h1V1229.7h1V1221.2h1V1248.2h1V1180.8h1V1182.1h1V1182.1h1V1183h1V1176.7h1V1163h1V1174.6h1V1172h1V1192.8h1V1188.6h1V1199.6h1V1220.9h1V1194.5h1V1189.8h1V1230.8h1V1212.1h1V1229.4h1V1224.5h1V1228.4h1V1213.6h1V1207.2h1V1217h1V1222.2h1V1227.7h1V1210.5h1V1205h1V1227.7h1V1214.5h1V1186.3h1V1193.2h1V1171.6h1V1205.4h1V1218.5h1V1215h1V1234.9h1V1225h1V1225.5h1V1222.9h1V1221.6h1V1216.8h1V1217.7h1V1213.2h1V1205.1h1V1205.5h1V1205.4h1V1221.7h1V1196.9h1V1212.3h1V1170h1V1219h1V1219.5h1V1220.5h1V1224.8h1V1219.2h1V1230.1h1V1221.5h1V1208.4h1V1209.5h1V1221.2h1V1222.1h1V1226.9h1V1231.4h1V1234.3h1V1228.6h1V1224.8h1V1223.1h1V1216.5h1V1217.3h1V1200h1V1194.8h1V1212.2h1V1186.3h1V1196.4h1V1189.1h1V1177h1V1150.4h1V1183.5h1V1173.6h1V1183.5h1V1181.7h1V1207.7h1V1197.1h1V1172.5h1V1195.4h1V1179.3h1V1186.9h1V1181.9h1V1216.6h1V1194.8h1V1243.9h1V1209.9h1V1239h1V1230.8h1V1230h1V1237.5h1V1237.9h1V1240.4h1V1204.7h1V1223.7h1V1235.4h1V1225.7h1V1213.3h1V1203.7h1V1231.8h1V1225.7h1V1221h1V1237.1h1V1228h1V1232.5h1V1229.4h1V1228.1h1V1219h1V1230.1h1V1221.7h1V1218.1h1V1240.7h1V1194.5h1V1245.4h1V1245.3h1V1241.4h1V1236.5h1V1230.6h1V1233.5h1V1250.6h1V1220.4h1V1227.4h1V1241.8h1V1233.8h1V1219.9h1V1211.6h1V1218.3h1V1213.3h1V1223.9h1V1228.4h1V1234h1V1238.8h1V1227.4h1V1227.4h1V1239.6h1V1232.5h1V1226.8h1V1223.9h1V1229.8h1V1212.8h1V1228.3h1V1196.9h1V1238h1V1188.7h1V1186.4h1V1188.2h1V1205.3h1V1200.3h1V1207.9h1V1204.8h1V1205.4h1V1199.1h1V1207.5h1V1210.6h1V1187.9h1V1217.3h1V1234.8h1V1193.7h1V1224.4h1V1229.2h1V1225.7h1V1221.4h1V1230.2h1V1237.3h1V1223.5h1V1233h1V1220.8h1V1210.5h1V1223.6h1V1216.9h1V1227.5h1V1231.7h1V1224.2h1V1233.8h1V1242.7h1V1242.6h1V1247.4h1V1230.3h1V1232.6h1V1233.3h1V1216.4h1V1220.8h1V1198.5h1V1233.2h1V1238.7h1V1228.9h1V1226.7h1V1235.5h1V1219h1V1219.1h1V1233.6h1V1244.9h1V1227.8h1V1233.4h1V1205.6h1V1239.3h1V1207.5h1V1231.1h1V1242.8h1V1236.1h1V1235.6h1V1234.6h1V1216.7h1V1218.3h1V1225.5h1V1216.5h1V1205.2h1V1224.1h1V1186h1V1222.5h1V1227.9h1V1200.1h1V1199h1V1228.2h1V1211.2h1V1210.1h1V1231.7h1V1188.4h1V1190.3h1V1172.2h1V1166h1V1173.8h1V1198.8h1V1216h1V1183.5h1V1206.8h1V1211.3h1V1211.8h1V1217.4h1V1209.5h1V1214.1h1V1199.7h1V1218.5h1V1212.6h1V1213.8h1V1215.5h1V1208.4h1V1215.4h1V1233.1h1V1237.4h1V1233.1h1V1238.2h1V1241.2h1V1239.2h1V1238.2h1V1246.4h1V1237.6h1V1235.2h1V1239.4h1V1236.9h1V1241.7h1V1239.9h1V1234.1h1V1229.9h1V1231.2h1V1239.1h1V1244.8h1V1227.9h1V1236.2h1V1242.1h1V1222.1h1V1229.5h1V1232.7h1V1227.1h1V1229.8h1V1228.1h1V1224.8h1V1220.8h1V1232.7h1V1222.9h1V1184.8h1V1245.9h1V1235.8h1V1242.8h1V1238.8h1V1237.9h1V1225.7h1V1232.1h1V1229.5h1V1209h1V1226.4h1V1217.1h1V1217.5h1V1213.9h1V1210h1V1211.2h1V1210.4h1V1195.1h1V1195h1V1232.3h1V1194.5h1V1178.3h1V1174.7h1V1192.3h1V1185.3h1V1178.9h1V1180h1V1206.8h1V1186.3h1V1181.2h1V1197.3h1V1186.4h1V1202.7h1V1216.3h1V1191.4h1V1230.2h1V1220.8h1V1219.9h1V1220.9h1V1233h1V1221.6h1V1212.8h1V1241.6h1V1220.9h1V1211.1h1V1220.5h1V1228.9h1V1222.9h1V1229.1h1V1231.7h1V1203.5h1V1180h1V1196.7h1V1219.5h1V1204.7h1V1217.7h1V1192.1h1V1205.8h1V1208.2h1V1219.2h1V1198.7h1V1223.5h1V1232.8h1V1218.6h1V1213.3h1V1229.1h1V1242.4h1V1239h1V1211.8h1V1232.6h1V1233.5h1V1234.9h1V1230.6h1V1232.6h1V1230.9h1V1216.7h1V1234.1h1V1238.7h1V1241.4h1V1226.8h1V1232.2h1V1246.7h1V1236.9h1V1236.1h1V1222.9h1V1229.4h1V1236.9h1V1217.1h1V1234.5h1V1243.5h1V1225.4h1V1215h1V1191h1V1254.1h1V1203.4h1V1184.4h1V1209.6h1V1210.9h1V1210.3h1V1230.9h1V1224.8h1V1216.2h1V1223h1V1204.9h1V1218.7h1V1225.3h1V1225.4h1V1228.5h1V1203h1V1222.1h1V1230.3h1V1217.8h1V1224.3h1V1237.3h1V1212.3h1V1216.5h1V1237.3h1V1238.1h1V1236.8h1V1226h1V1241.7h1V1224.5h1V1239.1h1V1237.9h1V1220.5h1V1251h1V1228.9h1V1236.3h1V1218h1V1238.8h1V1224.6h1V1230.7h1V1222.7h1V1228.1h1V1236.3h1V1246.3h1V1241.2h1V1241.1h1V1235.9h1V1242.7h1V1236.7h1V1227.3h1V1221.7h1V1215.3h1V1229.8h1V1220.1h1V1232h1V1208.3h1V1233.5h1V1243.2h1V1243.6h1V1233.9h1V1240.7h1V1236.3h1V1238.9h1V1220.4h1V1232.5h1V1241.7h1V1221.2h1V1215h1V1221.4h1V1229.6h1V1218.6h1V1237.1h1V1210.3h1V1231h1V1222.3h1V1215h1V1213.2h1V1195.7h1V1183.2h1V1173.8h1V1122h1V1179.2h1V1175.9h1V1201h1V1200.4h1V1186.8h1V1187.4h1V1221.5h1V1193h1V1179.5h1V1212.9h1V1226h1V1199.3h1V1198.8h1V1209.2h1V1223.6h1V1212h1V1207h1V1230.8h1V1211.3h1V1230.6h1V1222.2h1V1221.5h1V1226.9h1V1217.2h1V1214.5h1V1225.5h1V1225.9h1V1224.9h1V1225.4h1V1232.3h1V1231.2h1V1231.7h1V1219.2h1V1237.4h1V1230.6h1V1243.5h1V1240.2h1V1229.6h1V1210.5h1V1225.9h1V1217.3h1V1222.4h1V1230.8h1V1212.1h1V1240.6h1V1242.1h1V1229.8h1V1231.5h1V1240.6h1V1220.8h1V1224.9h1V1203h1V1227.3h1V1214.2h1V1218.3h1V1231.3h1V1235.5h1V1245.3h1V1235.6h1V1229.9h1V1232.2h1V1215.3h1V1226.8h1V1219.3h1V1219.7h1V1185h1V1210h1V1245.3h1V1182.5h1V1203.8h1V1196.9h1V1197.1h1V1197h1V1215.5h1V1217.1h1V1208.9h1V1229.1h1V1218.9h1V1226.2h1V1226.1h1V1217.2h1V1227.1h1V1227h1V1221.9h1V1244.1h1V1230.5h1V1240h1V1223.9h1V1227.2h1V1209.1h1V1229.5h1V1238.9h1V1235.9h1V1244.8h1V1228.8h1V1222.7h1V1222h1V1230.3h1V1229.2h1V1207.7h1V1210.2h1V1232.9h1V1224.6h1V1228h1V1181.4h1V1221.4h1V1206.8h1V1210h1V1214h1V1215.9h1V1209.1h1V1207.5h1V1199.2h1V1230.2h1V1219.9h1V1221.9h1V1201.3h1V1227.8h1V1220h1V1217h1V1216.5h1V1169.1h1V1215.5h1V1227.8h1V1239.3h1V1231.5h1V1229.7h1V1218.9h1V1231h1V1228.8h1V1236.3h1V1231.4h1V1242.5h1V1225.2h1V1211.1h1V1209.4h1V1233.6h1V1203.3h1V1199.6h1V1212.7h1V1212.2h1V1243.1h1V1180h1V1179.3h1V1158h1V1202.8h1V1178.2h1V1199.9h1V1189.9h1V1202.7h1V1207.9h1V1214.4h1V1215.5h1V1198.5h1V1229.7h1V1232.7h1V1223.3h1V1209.4h1V1232.8h1V1224h1V1229.3h1V1211.5h1V1226.4h1V1217.1h1V1229.2h1V1228.8h1V1230.2h1V1236.8h1V1227.2h1V1232.5h1V1217.6h1V1227.8h1V1220.3h1V1241h1V1220.1h1V1241.3h1V1217.9h1V1223.5h1V1232.6h1V1216.7h1V1222.3h1V1235.7h1V1240.8h1V1234.3h1V1222.4h1V1228.1h1V1223.6h1V1229.7h1V1221.9h1V1230.6h1V1229.2h1V1229.4h1V1215.4h1V1225.9h1V1196.8h1V1216.6h1V1225.4h1V1229.7h1V1215.6h1V1232h1V1220.5h1V1207.5h1V1240.4h1V1229.9h1V1228.8h1V1202.9h1V1202.3h1V1220.9h1V1214.6h1V1211.2h1V1225.5h1V1216.7h1V1184.6h1V1210.2h1V1231.7h1V1190.9h1V1186.9h1V1183.8h1V1211h1V1225.6h1V1184.2h1V1230.7h1V1242.9h1V1242.3h1V1205.1h1V1232.6h1V1230.7h1V1233.2h1V1212.3h1V1227.3h1V1214.2h1V1204.1h1V1225.8h1V1208.2h1V1230.1h1V1237h1V1207.7h1V1226.2h1V1225.6h1V1237.1h1V1214.5h1V1218.1h1V1229.3h1V1227.1h1V1239.2h1V1234.6h1V1230.2h1V1233.7h1V1220.1h1V1230.1h1V1213.2h1V1193.7h1V1198.8h1V1224.5h1V1234h1V1217.2h1V1216.8h1V1218.3h1V1229.4h1V1214.8h1V1227.3h1V1241.5h1V1238.3h1V1231h1V1220h1V1226.6h1V1235h1V1233.7h1V1229.1h1V1236h1V1227.5h1V1225.1h1V1218.8h1V1236.4h1V1237.5h1V1226.6h1V1231.5h1V1224.2h1V1231.7h1V1229.6h1V1232.6h1V1231.1h1V1237.4h1V1234.4h1V1245.3h1V1217.1h1V1237.9h1V1230h1V1246.3h1V1184.9h1V1203.6h1V1184.8h1V1194h1V1212.9h1V1225.1h1V1218.1h1V1182.6h1V1244.5h1V1234h1V1235.7h1V1225.4h1V1209.9h1V1220.5h1V1222.7h1V1210.2h1V1241.3h1V1226.1h1V1232.8h1V1229.9h1V1243.3h1V1248.8h1V1246.3h1V1248.4h1V1236.1h1V1236.2h1V1235.4h1V1240.4h1V1224.8h1V1237.8h1V1227.7h1V1208.5h1V1222.3h1V1235.5h1V1237.1h1V1229h1V1218h1V1221.4h1V1234.2h1V1239.1h1V1233.8h1V1238.1h1V1229.9h1V1247.3h1V1237.1h1V1225.8h1V1208.2h1V1231.5h1V1234.8h1V1224.3h1V1219.8h1V1223.3h1V1218.6h1V1224.2h1V1206.5h1V1227.3h1V1225h1V1189.6h1V1157h1V1225.4h1V1236.8h1V1228.5h1V1233.1h1V1231.1h1V1227.9h1V1229.1h1V1227.5h1V1235.2h1V1226.3h1V1219.1h1V1224.4h1V1179.7h1V1234h1V1208.1h1V1179h1V1202.9h1V1186.6h1V1188.6h1V1200h1V1205.4h1V1201.2h1V1207h1V1210.4h1V1206.5h1V1195.6h1V1210.8h1V1195.4h1V1173.9h1V1203.1h1V1220.4h1V1209.6h1V1213h1V1231.6h1V1227.4h1V1229.1h1V1213.5h1V1227.3h1V1216.2h1V1218.3h1V1232.8h1V1240.9h1V1229h1V1232.3h1V1234.6h1V1214.8h1V1232.8h1V1241.9h1V1226.7h1V1229.6h1V1206.3h1V1186.2h1V1211.6h1V1211.3h1V1226.1h1V1227.4h1V1197.4h1V1210.2h1V1216.1h1V1207.2h1V1187.1h1V1189.3h1V1219.2h1V1167.5h1V1227h1V1216.5h1V1215.8h1V1212.4h1V1213.2h1V1215.5h1V1209.5h1V1210h1V1228.5h1V1235.2h1V1199.4h1V1211.5h1V1201.2h1V1234.8h1V1236.4h1V1211.4h1V1213.5h1V1227.9h1V1215.7h1V1227.5h1V1227.2h1V1201.3h1V1229.5h1V1249.9h1V1271.6Z" fill="#2ca02c" fill-opacity="0.7" shape-rendering="crispEdges"/>
<path d="M230 1271.6V1185.7h1V1230.1h1V1223.5h1V1213.4h1V1231.6h1V1242.8h1V1238.5h1V1219.1h1V1230.3h1V1244.8h1V1220.5h1V1242.2h1V1235.1h1V1233.9h1V1248.4h1V1231h1V1234.1h1V1240.9h1V1233.7h1V1234.8h1V1249.1h1V1238.4h1V1231.9h1V1238.5h1V1223.6h1V1233.4h1V1241.9h1V1251.2h1V1248.3h1V1247.4h1V1216.5h1V1230.2h1V1236h1V1222.6h1V1208.3h1V1200.9h1V1173.3h1V1175h1V1183.7h1V1216h1V1217.3h1V1211.9h1V1213h1V1235.3h1V1226.6h1V1229h1V1240.7h1V1239.2h1V1235.9h1V1228.5h1V1240.1h1V1237.7h1V1222.6h1V1240.1h1V1232.8h1V1231.4h1V1231.5h1V1236.4h1V1241.7h1V1249.4h1V1224.7h1V1234.9h1V1226.8h1V1242.5h1V1237.3h1V1242.3h1V1224.6h1V1242.4h1V1226.1h1V1214.4h1V1237.3h1V1227.5h1V1243.5h1V1251h1V1185.7h1V1222.1h1V1199.1h1V1227h1V1212.7h1V1205h1V1214.1h1V1215.1h1V1231.6h1V1225.6h1V1229h1V1239.6h1V1220.5h1V1225.8h1V1233.7h1V1232.4h1V1245.1h1V1212.2h1V1239.6h1V1244.5h1V1229.6h1V1217.9h1V1228h1V1232.8h1V1240.6h1V1229.9h1V1249.3h1V1231.5h1V1226.8h1V1225.7h1V1224.4h1V1231.6h1V1217.3h1V1231.3h1V1208.4h1V1211.4h1V1213.6h1V1231.9h1V1230.4h1V1237.1h1V1235.9h1V1238.6h1V1242.7h1V1246.9h1V1231.8h1V1241.4h1V1234.6h1V1203.6h1V1220.5h1V1240.6h1V1233.2h1V1217.4h1V1236h1V1233.2h1V1246.7h1V1227.5h1V1234.3h1V1239.9h1V1242.3h1V1237.9h1V1246.1h1V1243.2h1V1236.8h1V1226.2h1V1243.1h1V1221.7h1V1232.7h1V1225.7h1V1238.5h1V1210.6h1V1230.1h1V1217.5h1V1249.6h1V1208h1V1196.3h1V1202.3h1V1237.6h1V1222.3h1V1212h1V1224.5h1V1233h1V1233.8h1V1231.7h1V1239.1h1V1225.5h1V1238.4h1V1217.2h1V1234.7h1V1232.3h1V1226h1V1238.2h1V1241.4h1V1231.8h1V1233.5h1V1234.2h1V1245.1h1V1237.4h1V1240h1V1240.7h1V1211.7h1V1232.3h1V1229.5h1V1245.1h1V1230.2h1V1243.7h1V1227.9h1V1225.7h1V1227.5h1V1231.8h1V1223.8h1V1228h1V1231.8h1V1232h1V1238.3h1V1245.9h1V1240.4h1V1222.4h1V1244.8h1V1238.6h1V1229.6h1V1225.9h1V1229.9h1V1237.3h1V1230.2h1V1229.6h1V1243h1V1240.7h1V1235.3h1V1230.4h1V1240.3h1V1237.9h1V1232.7h1V1238.6h1V1243.4h1V1244.5h1V1233.4h1V1235.3h1V1241h1V1238.6h1V1240.7h1V1238h1V1246.7h1V1238.6h1V1217.6h1V1221.1h1V1250.9h1V1248.4h1V1177.8h1V1190.2h1V1171.3h1V1181.1h1V1208.5h1V1203.5h1V1187.8h1V1200.4h1V1203.7h1V1181.6h1V1210h1V1198.7h1V1212.9h1V1212.2h1V1187.4h1V1197.8h1V1214.4h1V1222.5h1V1231.9h1V1221.8h1V1232h1V1237.4h1V1231.8h1V1232.3h1V1232h1V1236.6h1V1240.8h1V1247.7h1V1242.3h1V1248.3h1V1236.1h1V1245h1V1250.3h1V1243h1V1234h1V1228.3h1V1236.3h1V1235.6h1V1240.9h1V1243.8h1V1247.9h1V1248.1h1V1243.6h1V1243.2h1V1238.4h1V1226h1V1237.9h1V1233.3h1V1224.8h1V1225.2h1V1235.8h1V1241.2h1V1215.7h1V1215.7h1V1235h1V1230.7h1V1227.5h1V1228.3h1V1238.4h1V1229.2h1V1224h1V1242.2h1V1242.2h1V1250.8h1V1239.8h1V1232.1h1V1240.3h1V1241.3h1V1226.1h1V1241.6h1V1227.1h1V1231.8h1V1247.6h1V1184.5h1V1177h1V1192.3h1V1198h1V1198.5h1V1211.8h1V1203.3h1V1189.4h1V1217.6h1V1219h1V1223.2h1V1230.7h1V1239.7h1V1224.3h1V1232.1h1V1226.6h1V1243h1V1230.9h1V1238.2h1V1232h1V1234.1h1V1246.4h1V1245.5h1V1250.7h1V1236.7h1V1238h1V1233h1V1242.1h1V1244.5h1V1237.4h1V1233.2h1V1235.7h1V1230.5h1V1222.4h1V1232.6h1V1230.1h1V1232.6h1V1226.7h1V1234.7h1V1237.2h1V1237h1V1229.5h1V1234.9h1V1241.8h1V1244.1h1V1242.2h1V1242.9h1V1230h1V1244.9h1V1233.1h1V1236.4h1V1233.5h1V1234.8h1V1238.9h1V1240.8h1V1226h1V1238.1h1V1236.6h1V1240.9h1V1249.6h1V1243.3h1V1244.8h1V1238.1h1V1248h1V1245h1V1235.3h1V1233.9h1V1241h1V1242.1h1V1236.2h1V1237.6h1V1225.9h1V1246.8h1V1253.4h1V1218.3h1V1191.3h1V1171.5h1V1171.6h1V1175.2h1V1199.6h1V1217.1h1V1182.9h1V1183.1h1V1191h1V1211.7h1V1200.1h1V1199.6h1V1235.9h1V1214.5h1V1239.2h1V1230.3h1V1233.4h1V1235.6h1V1245.9h1V1231.7h1V1227.3h1V1237.1h1V1225.5h1V1224.1h1V1244.4h1V1241.4h1V1249.3h1V1236.8h1V1239.1h1V1241.6h1V1236.9h1V1236.5h1V1251.9h1V1246.1h1V1241.3h1V1226.6h1V1229.7h1V1236.1h1V1223.5h1V1233.2h1V1220.6h1V1248.3h1V1231.3h1V1233.7h1V1242.2h1V1226h1V1212.9h1V1233.6h1V1242.6h1V1242.9h1V1233.9h1V1223.4h1V1227.6h1V1234h1V1225.4h1V1225.9h1V1239.8h1V1234.3h1V1226.4h1V1241.1h1V1218.5h1V1231.2h1V1239.9h1V1245.1h1V1241.8h1V1224.3h1V1237.3h1V1221.1h1V1226.5h1V1223.8h1V1232.3h1V1246.1h1V1237.7h1V1216.7h1V1206h1V1231.1h1V1218.2h1V1231.3h1V1243.9h1V1231h1V1229.4h1V1233.1h1V1212.9h1V1217.9h1V1230.6h1V1224.8h1V1235.6h1V1225.5h1V1237.7h1V1232.8h1V1224h1V1246.8h1V1241.4h1V1233.8h1V1250.3h1V1249.2h1V1241.2h1V1239.4h1V1243.9h1V1238.4h1V1248.7h1V1251.4h1V1228.3h1V1222.9h1V1228.5h1V1249.8h1V1240.6h1V1232.9h1V1231.9h1V1231.2h1V1229.2h1V1233.6h1V1247.8h1V1248.1h1V1233.8h1V1231.7h1V1237.3h1V1233.6h1V1233.3h1V1242h1V1236.1h1V1247.7h1V1228.7h1V1228.3h1V1208.3h1V1238.3h1V1221.9h1V1199.9h1V1234.7h1V1225.1h1V1228.5h1V1239.8h1V1218.4h1V1229.8h1V1220.7h1V1233.2h1V1228.8h1V1222h1V1220h1V1221.3h1V1244.2h1V1220.5h1V1208h1V1219.8h1V1221.4h1V1245.2h1V1159.6h1V1181.2h1V1211.6h1V1183.8h1V1193.8h1V1192.1h1V1213.4h1V1187.9h1V1225.2h1V1187.9h1V1221.2h1V1193.8h1V1226.5h1V1213.4h1V1219.6h1V1239.7h1V1236.8h1V1243.8h1V1235.4h1V1210.6h1V1218.4h1V1239.8h1V1233.1h1V1229.5h1V1225.7h1V1235.5h1V1222.5h1V1228.2h1V1225.2h1V1238.5h1V1231.9h1V1232.6h1V1235.2h1V1233.7h1V1244h1V1243.7h1V1234.3h1V1216.3h1V1241.1h1V1235.8h1V1233.8h1V1214.4h1V1226.6h1V1226.9h1V1222.1h1V1233.2h1V1223.6h1V1229.5h1V1222.3h1V1235.6h1V1244.6h1V1241.6h1V1212.7h1V1246.8h1V1232.5h1V1244.3h1V1236h1V1239.5h1V1235.8h1V1233.2h1V1233.8h1V1236.7h1V1232.6h1V1224.7h1V1220h1V1229.1h1V1237.8h1V1239.8h1V1236.4h1V1229.4h1V1221.2h1V1217h1V1243.3h1V1254.5h1V1207.9h1V1183.3h1V1199.2h1V1221.9h1V1225.9h1V1226.5h1V1231.6h1V1236h1V1243.4h1V1215.1h1V1236.3h1V1219.4h1V1247.9h1V1242.6h1V1247.2h1V1244.5h1V1251.4h1V1236.8h1V1241.9h1V1250.1h1V1235.4h1V1243.9h1V1233.3h1V1237.9h1V1237.3h1V1241.9h1V1225.4h1V1214.3h1V1218h1V1239.6h1V1239.1h1V1243.2h1V1229.8h1V1232.7h1V1236.7h1V1231.6h1V1217.1h1V1231.2h1V1230.5h1V1244h1V1231.3h1V1244.8h1V1237.5h1V1224.9h1V1244.8h1V1218.5h1V1246h1V1233.9h1V1241.8h1V1246.9h1V1235h1V1227.5h1V1246h1V1239.9h1V1236.3h1V1236.3h1V1242.5h1V1244.8h1V1233.9h1V1244.1h1V1232.1h1V1228.2h1V1228.1h1V1222.5h1V1224.1h1V1232.6h1V1228.2h1V1235.8h1V1236.9h1V1227.4h1V1217.8h1V1228.7h1V1257.9h1V1230.1h1V1220.7h1V1223.8h1V1219.6h1V1227.6h1V1220.3h1V1217.9h1V1226.5h1V1231.3h1V1219.7h1V1237.8h1V1231.5h1V1218.8h1V1216.3h1V1220.4h1V1232.4h1V1219.5h1V1218.6h1V1232.3h1V1235.8h1V1226.5h1V1238.9h1V1234.2h1V1240.3h1V1228.8h1V1241.8h1V1234.1h1V1237.4h1V1245.1h1V1240.3h1V1235.7h1V1223.4h1V1234.2h1V1246h1V1233.2h1V1214.2h1V1228.8h1V1207.5h1V1236.7h1V1221.5h1V1231.6h1V1230h1V1243.9h1V1231.2h1V1247.5h1V1227.8h1V1228.8h1V1245.8h1V1240.4h1V1233.5h1V1228.9h1V1252h1V1235h1V1242.2h1V1238.8h1V1241.5h1V1222.9h1V1237.7h1V1222.7h1V1209.3h1V1222.7h1V1236.6h1V1217.6h1V1218.5h1V1224.5h1V1219.7h1V1171.6h1V1226.4h1V1221.3h1V1207.5h1V1206.9h1V1204.6h1V1186.2h1V1234.7h1V1221.9h1V1195.2h1V1217.7h1V1206.5h1V1217.9h1V1229.5h1V1218h1V1221h1V1206.1h1V1239.8h1V1222.1h1V1231h1V1235.7h1V1242.1h1V1231.4h1V1228.9h1V1222.2h1V1214.6h1V1225.1h1V1225.5h1V1237.8h1V1219.4h1V1240.5h1V1238.3h1V1238.4h1V1243.8h1V1236.9h1V1245.7h1V1232.4h1V1232.1h1V1237.5h1V1246.4h1V1243h1V1230h1V1230.1h1V1219.1h1V1229.6h1V1219.7h1V1235.2h1V1237.8h1V1227.2h1V1237.2h1V1239.9h1V1231.7h1V1234.3h1V1222.8h1V1243.3h1V1238.9h1V1239.4h1V1221.6h1V1232.5h1V1233.8h1V1223.6h1V1214.4h1V1223.6h1V1235.2h1V1219.9h1V1219.9h1V1202.3h1V1228h1V1208.2h1V1201.3h1V1203.6h1V1216.7h1V1200h1V1212.5h1V1171.8h1V1206.9h1V1219.1h1V1213.8h1V1212.9h1V1210.2h1V1237.2h1V1184.4h1V1200.7h1V1181.9h1V1188h1V1207.2h1V1215.5h1V1203.7h1V1226h1V1240.8h1V1210.6h1V1220.1h1V1224h1V1234.9h1V1234.5h1V1234.9h1V1236.3h1V1245.1h1V1238.1h1V1234.7h1V1224.7h1V1224.2h1V1231.3h1V1240.2h1V1226.8h1V1242h1V1236.7h1V1244.9h1V1246.9h1V1248.8h1V1234.4h1V1225.7h1V1233.3h1V1224.7h1V1235.6h1V1238.1h1V1240.9h1V1232.8h1V1249.9h1V1243.7h1V1228.7h1V1236.4h1V1232.8h1V1236.6h1V1236.8h1V1237.2h1V1246.5h1V1237.1h1V1248.7h1V1234.7h1V1248.6h1V1244.5h1V1246.5h1V1233.1h1V1234.6h1V1247.9h1V1238.3h1V1230.3h1V1231.4h1V1246h1V1227.5h1V1239.4h1V1230.9h1V1224h1V1235.1h1V1226.6h1V1244h1V1236.4h1V1224.3h1V1239.9h1V1227h1V1242.4h1V1231.7h1V1250.6h1V1258h1V1209.8h1V1222h1V1235.8h1V1231.5h1V1232.3h1V1224.1h1V1224.7h1V1228.8h1V1220h1V1243.7h1V1231.2h1V1234.4h1V1234.4h1V1235.2h1V1245.8h1V1239.4h1V1240.4h1V1242.3h1V1249.9h1V1252.1h1V1248h1V1232.3h1V1254.7h1V1251.2h1V1226.7h1V1236.4h1V1235h1V1239.4h1V1223.1h1V1235.6h1V1222.6h1V1232.9h1V1249.4h1V1236.1h1V1241.2h1V1234.1h1V1236.2h1V1242.7h1V1232.2h1V1232.4h1V1239.7h1V1243.4h1V1251.2h1V1237.3h1V1227.4h1V1243.4h1V1240.8h1V1223.7h1V1235.8h1V1244.2h1V1225.8h1V1227.6h1V1219.8h1V1216.4h1V1233.2h1V1222.8h1V1214.7h1V1208.4h1V1211.3h1V1222.4h1V1230.7h1V1200.8h1V1215.3h1V1237.2h1V1235.8h1V1246.4h1V1232.5h1V1229.2h1V1230.8h1V1224.1h1V1236.4h1V1246.4h1V1245.8h1V1186.4h1V1223.7h1V1239.9h1V1236.3h1V1228.9h1V1229h1V1241.5h1V1213.9h1V1223h1V1227.8h1V1227.3h1V1227.3h1V1228.9h1V1235.2h1V1240.6h1V1243.1h1V1244.9h1V1244.2h1V1243.7h1V1234.4h1V1244.2h1V1240.8h1V1237h1V1240.2h1V1247.8h1V1249.3h1V1246.2h1V1245.5h1V1238.4h1V1237.1h1V1247.6h1V1242.3h1V1249.8h1V1240.2h1V1250.8h1V1238.1h1V1237.4h1V1249h1V1247.8h1V1238.6h1V1242.2h1V1246h1V1241.5h1V1243.3h1V1246.8h1V1240.4h1V1232.8h1V1244h1V1240.9h1V1236h1V1232.9h1V1247.9h1V1246.9h1V1244.4h1V1230.5h1V1253.5h1V1242.8h1V1245h1V1246.5h1V1239.7h1V1234.6h1V1227.9h1V1237.4h1V1251.5h1V1247.4h1V1250.6h1V1251h1V1242.5h1V1245.1h1V1242.5h1V1234.1h1V1238.5h1V1249.8h1V1254.7h1V1188.3h1V1236.1h1V1226.7h1V1223.4h1V1220.5h1V1221.7h1V1242.4h1V1226.4h1V1241.2h1V1238.2h1V1236.1h1V1228.2h1V1243.2h1V1233.3h1V1227.4h1V1238.7h1V1253.8h1V1240.5h1V1242.5h1V1251.2h1V1246.6h1V1227.2h1V1233.5h1V1235.3h1V1228.4h1V1221.1h1V1236.3h1V1218.1h1V1232.1h1V1238.3h1V1246.4h1V1238.8h1V1249.6h1V1235.7h1V1250.9h1V1250h1V1248.5h1V1225.3h1V1226.6h1V1224.7h1V1225.6h1V1208.6h1V1210.9h1V1223.6h1V1207.8h1V1218.1h1V1226.8h1V1226.7h1V1229.7h1V1240.5h1V1215.4h1V1225.5h1V1222.5h1V1233.2h1V1229.7h1V1245.2h1V1235.1h1V1239.9h1V1247.7h1V1243.5h1V1233.5h1V1235.8h1V1230.8h1V1236.6h1V1231.8h1V1236.6h1V1234.7h1V1232.7h1V1235h1V1231.9h1V1210.9h1V1215.8h1V1244.8h1V1248.7h1V1183.7h1V1230.7h1V1225.3h1V1229.4h1V1220.1h1V1212.9h1V1213.7h1V1230.2h1V1211.1h1V1230.9h1V1217.7h1V1226.6h1V1229.7h1V1220.2h1V1236.8h1V1223h1V1187.3h1V1228.6h1V1234.7h1V1224.6h1V1232.7h1V1222.7h1V1244.9h1V1244.9h1V1213h1V1238.2h1V1225.9h1V1227.3h1V1232.7h1V1239.9h1V1238.1h1V1225.4h1V1246.1h1V1243.7h1V1243.9h1V1211.8h1V1214.1h1V1238.6h1V1241.4h1V1234.1h1V1247.9h1V1247.7h1V1233h1V1245h1V1243.7h1V1234.4h1V1240.2h1V1243.4h1V1234.7h1V1228.2h1V1228.4h1V1230.4h1V1247.1h1V1243.1h1V1239.9h1V1241.4h1V1244.3h1V1233.8h1V1238.5h1V1242h1V1237.1h1V1224.2h1V1234.8h1V1236.6h1V1222.6h1V1232.5h1V1228.1h1V1214h1V1208.5h1V1224.6h1V1235.4h1V1194.5h1V1234.3h1V1180.8h1V1155.8h1V1206.1h1V1186h1V1210.4h1V1179.8h1V1197.5h1V1182.3h1V1176.8h1V1203.6h1V1184h1V1185.5h1V1192.4h1V1216.4h1V1186.4h1V1199.8h1V1182.8h1V1184.7h1V1192.3h1V1213h1V1211h1V1209.4h1V1219.8h1V1210.7h1V1222.6h1V1245.8h1V1231.2h1V1226.1h1V1235.7h1V1221.7h1V1221.5h1V1231.4h1V1218.6h1V1204h1V1207.1h1V1190.1h1V1176.2h1V1171.7h1V1169.5h1V1184.2h1V1193.2h1V1188.6h1V1186.6h1V1199.8h1V1199.5h1V1230.5h1V1227.5h1V1239.8h1V1235.7h1V1229.1h1V1226.6h1V1222.7h1V1210.2h1V1210.8h1V1216.4h1V1219.6h1V1201.6h1V1211.6h1V1207.3h1V1239.7h1V1235h1V1224.4h1V1230.3h1V1234.7h1V1236.8h1V1199.5h1V1236.3h1V1239.4h1V1198.9h1V1208.8h1V1216.8h1V1217.4h1V1240.3h1V1231.7h1V1194h1V1219h1V1184.2h1V1212h1V1220.3h1V1224.2h1V1212.1h1V1230.9h1V1203h1V1231h1V1228.5h1V1188.1h1V1186.3h1V1227.7h1V1217.8h1V1205h1V1211.8h1V1216.6h1V1208.8h1V1230.4h1V1221.5h1V1238.3h1V1225.2h1V1226.9h1V1216.9h1V1211.4h1V1229.3h1V1239.1h1V1197.4h1V1174.5h1V1215.8h1V1242.2h1V1210.4h1V1238.7h1V1235.4h1V1228.2h1V1209h1V1193h1V1200h1V1223.1h1V1228h1V1216.6h1V1237.6h1V1217.6h1V1237h1V1220h1V1243.2h1V1216.8h1V1237.9h1V1216.3h1V1212.6h1V1180.7h1V1218.9h1V1224.1h1V1240.3h1V1242h1V1202.8h1V1211.6h1V1235.1h1V1233.3h1V1219.5h1V1211.6h1V1214.7h1V1245.5h1V1220.3h1V1233.3h1V1239.1h1V1234.3h1V1237.1h1V1224.7h1V1239.2h1V1222h1V1253h1V1195.9h1V1199.1h1V1199.9h1V1208.2h1V1177.2h1V1185.1h1V1177.4h1V1177.2h1V1206.4h1V1208.6h1V1207.9h1V1235.1h1V1204.3h1V1194.3h1V1248.8h1V1219.7h1V1240.1h1V1230.1h1V1235.1h1V1229.8h1V1222.3h1V1228h1V1226.9h1V1231.1h1V1218.4h1V1223.8h1V1230.7h1V1224.5h1V1220.7h1V1202.7h1V1205.4h1V1222.1h1V1220.5h1V1222.1h1V1253.8h1V1235.8h1V1235.7h1V1231.2h1V1242h1V1218.5h1V1225.8h1V1217.1h1V1229.3h1V1218.7h1V1219.9h1V1235.1h1V1209.9h1V1217h1V1216.4h1V1224.4h1V1222.2h1V1241.9h1V1229.1h1V1236.6h1V1236.2h1V1235.6h1V1227.8h1V1227.6h1V1228.4h1V1222.2h1V1228.4h1V1234.9h1V1239.8h1V1234.9h1V1238.6h1V1232h1V1228.6h1V1233.6h1V1224.2h1V1213.3h1V1220.2h1V1212.8h1V1246h1V1246.9h1V1183.6h1V1173.3h1V1186.4h1V1181.9h1V1184.9h1V1205.2h1V1226.3h1V1210.8h1V1173.3h1V1203h1V1195.5h1V1201.8h1V1205.6h1V1223.4h1V1223.8h1V1247.4h1V1218.9h1V1244.8h1V1239.1h1V1231.6h1V1240.1h1V1238.7h1V1240.7h1V1219.6h1V1231.5h1V1237.7h1V1234.3h1V1215h1V1212.8h1V1236.4h1V1235.1h1V1224.8h1V1245.6h1V1234.8h1V1238.2h1V1230.3h1V1231.5h1V1238.5h1V1235.5h1V1237.4h1V1237.3h1V1244.8h1V1233.1h1V1250.1h1V1247.6h1V1246.7h1V1241h1V1241.8h1V1241.5h1V1253.2h1V1232.1h1V1236h1V1246.8h1V1234.1h1V1233.6h1V1219.8h1V1224.5h1V1244.1h1V1230.6h1V1241.4h1V1235.4h1V1239h1V1237.8h1V1246.4h1V1242h1V1240.5h1V1231.8h1V1241h1V1233.1h1V1219.4h1V1234.5h1V1201.4h1V1254.3h1V1204.5h1V1208.2h1V1206.9h1V1205.8h1V1216.2h1V1211.2h1V1207.9h1V1209.5h1V1212.5h1V1220.8h1V1231.8h1V1206.2h1V1218h1V1237.7h1V1220.6h1V1225.6h1V1232.5h1V1233.3h1V1247.2h1V1239.6h1V1239.3h1V1225.1h1V1235.7h1V1233.2h1V1223.9h1V1234.2h1V1238.4h1V1228.9h1V1236.3h1V1234.9h1V1241.8h1V1243h1V1246.6h1V1248.3h1V1234.2h1V1243.1h1V1233.4h1V1221.5h1V1234.8h1V1237.1h1V1236.6h1V1238.7h1V1240.6h1V1247h1V1242h1V1233.4h1V1231.8h1V1235.9h1V1247.8h1V1236.5h1V1237.9h1V1233.6h1V1247.3h1V1226.5h1V1234.2h1V1250.1h1V1251.9h1V1249.4h1V1241.1h1V1226.9h1V1228h1V1233.9h1V1230.2h1V1229.4h1V1229.2h1V1195.8h1V1223.4h1V1232h1V1208.3h1V1216.1h1V1238.6h1V1223.5h1V1225.5h1V1247.5h1V1204.8h1V1193.2h1V1190.9h1V1179.1h1V1194.6h1V1227.8h1V1216.2h1V1185.7h1V1217.9h1V1214.2h1V1225.6h1V1225.3h1V1223.9h1V1220.5h1V1212.2h1V1224.8h1V1215.1h1V1229.1h1V1233.6h1V1229.3h1V1231.1h1V1240.8h1V1244.5h1V1245.5h1V1247.6h1V1250.9h1V1246.5h1V1248.7h1V1249.6h1V1238.6h1V1239.9h1V1245.1h1V1242.6h1V1245.7h1V1253h1V1235.6h1V1231.3h1V1246.3h1V1242.9h1V1248.9h1V1229.3h1V1242h1V1246h1V1237.7h1V1234.5h1V1241.5h1V1229.1h1V1233.1h1V1229.6h1V1228.1h1V1230.1h1V1244.2h1V1230.2h1V1218.8h1V1252h1V1238.4h1V1247.6h1V1242h1V1239.7h1V1231.9h1V1256.1h1V1239.4h1V1237.7h1V1230.7h1V1239.5h1V1230.5h1V1224.3h1V1228.3h1V1212.7h1V1226.2h1V1210.1h1V1206.2h1V1235.7h1V1243.7h1V1195.1h1V1185.9h1V1192.5h1V1186.4h1V1188.2h1V1198.8h1V1207.1h1V1201.7h1V1183.2h1V1210.8h1V1186.5h1V1216.5h1V1217.3h1V1230h1V1240.8h1V1233.4h1V1222.2h1V1246.8h1V1235h1V1234.4h1V1225.4h1V1244.8h1V1239.2h1V1222.2h1V1227h1V1233.6h1V1230.4h1V1238.8h1V1237.8h1V1207.1h1V1223.9h1V1207.5h1V1230.5h1V1208.2h1V1221.9h1V1196h1V1223.5h1V1221.6h1V1235h1V1218.7h1V1238h1V1233h1V1238.7h1V1232.8h1V1236.4h1V1244.6h1V1240.4h1V1216.5h1V1246.9h1V1236.3h1V1238.1h1V1246h1V1234.9h1V1233.1h1V1226.7h1V1249.6h1V1240.5h1V1243.8h1V1234.2h1V1235h1V1249.4h1V1244.9h1V1247.8h1V1227.5h1V1229.5h1V1246.7h1V1234.3h1V1235.5h1V1243.7h1V1229.6h1V1229.3h1V1226.6h1V1254.3h1V1207.5h1V1213.3h1V1212.5h1V1227h1V1228.4h1V1240.9h1V1234.9h1V1232.5h1V1226.8h1V1240.1h1V1220.1h1V1238.8h1V1237.7h1V1235.8h1V1227.7h1V1226.6h1V1238.5h1V1246.6h1V1239.5h1V1244.9h1V1233h1V1233.6h1V1245.5h1V1240.1h1V1247.1h1V1236.6h1V1244.1h1V1234.9h1V1243.5h1V1246.7h1V1231h1V1251.7h1V1241.2h1V1245.2h1V1238.6h1V1239.6h1V1232.1h1V1235.6h1V1224.4h1V1232.2h1V1241.9h1V1248.1h1V1242.2h1V1243.7h1V1238.7h1V1243.4h1V1238.3h1V1234.2h1V1240.2h1V1230h1V1235.7h1V1235.5h1V1232.4h1V1226.7h1V1241h1V1248.5h1V1250.1h1V1239.8h1V1246.5h1V1241.6h1V1253.5h1V1224h1V1240.8h1V1243.1h1V1222h1V1226.2h1V1239.7h1V1234.2h1V1220.6h1V1241.5h1V1234.1h1V1236.8h1V1238.6h1V1257.6h1V1219.7h1V1204.5h1V1200.8h1V1186.6h1V1176.4h1V1190.9h1V1186.9h1V1209.1h1V1202.3h1V1205.8h1V1197.1h1V1225.9h1V1198.5h1V1205.8h1V1213.9h1V1237.1h1V1218.1h1V1209.6h1V1211.3h1V1228.4h1V1234h1V1211.2h1V1241.4h1V1232.7h1V1243.1h1V1223.9h1V1243.1h1V1241h1V1239.2h1V1217.9h1V1236h1V1227.7h1V1225h1V1234.9h1V1236h1V1234.6h1V1233.8h1V1233.1h1V1246.1h1V1239.9h1V1244.6h1V1243h1V1230.2h1V1215.9h1V1227.5h1V1230.6h1V1245.5h1V1237.9h1V1216.9h1V1242.7h1V1247.9h1V1239.6h1V1234.9h1V1241.6h1V1225.2h1V1241.6h1V1204h1V1232.3h1V1227.7h1V1222h1V1237.6h1V1240.8h1V1245.9h1V1243.1h1V1230.5h1V1237h1V1217.6h1V1229.8h1V1247.6h1V1240.7h1V1223.6h1V1223.3h1V1253.9h1V1183.2h1V1211.3h1V1221.9h1V1229.2h1V1201.3h1V1221.4h1V1242.4h1V1241.7h1V1231.9h1V1226.4h1V1226.3h1V1226.4h1V1227.2h1V1230.4h1V1244.4h1V1241h1V1247.2h1V1236.6h1V1252.8h1V1240h1V1246.4h1V1225.9h1V1239h1V1246.5h1V1243.1h1V1249.6h1V1241.6h1V1233.8h1V1234.8h1V1245.7h1V1241h1V1230.2h1V1222.2h1V1241.1h1V1235h1V1231.6h1V1194.1h1V1234.1h1V1225.4h1V1221h1V1220.2h1V1221.3h1V1221.5h1V1228h1V1223.8h1V1241.7h1V1232.5h1V1224.6h1V1225.1h1V1232.1h1V1220.4h1V1236.6h1V1237h1V1201.4h1V1231.7h1V1230.1h1V1242.4h1V1241.3h1V1235.8h1V1230.3h1V1231.8h1V1242.2h1V1238.5h1V1234.5h1V1247.5h1V1230.2h1V1226.1h1V1224.3h1V1241.3h1V1208.2h1V1205h1V1217.8h1V1249.5h1V1243.2h1V1186.4h1V1198.5h1V1168h1V1213.6h1V1195.4h1V1223h1V1194.4h1V1224.6h1V1208.6h1V1222.5h1V1229.4h1V1210.5h1V1231.4h1V1241.1h1V1232.5h1V1220.8h1V1235h1V1237.2h1V1237.9h1V1223.6h1V1230.6h1V1222.8h1V1234.1h1V1229.4h1V1235.4h1V1237.1h1V1228.8h1V1234.5h1V1232.3h1V1232.6h1V1228.4h1V1243.4h1V1228.2h1V1242.4h1V1220.8h1V1225.2h1V1236.7h1V1234.3h1V1232.2h1V1236h1V1252.9h1V1241.5h1V1227.5h1V1235h1V1229.1h1V1232.6h1V1228.9h1V1236.1h1V1240h1V1237.2h1V1238.6h1V1234.8h1V1219.7h1V1222.7h1V1228.4h1V1237h1V1219h1V1232.3h1V1220.8h1V1234.8h1V1242h1V1230.9h1V1246.5h1V1239.3h1V1233.4h1V1227h1V1224h1V1218.3h1V1235.9h1V1219.2h1V1203.1h1V1230.1h1V1233.1h1V1203.1h1V1193.8h1V1204.4h1V1225h1V1232.7h1V1207.7h1V1235.9h1V1243.2h1V1244h1V1228.6h1V1240.9h1V1236h1V1233.5h1V1226h1V1228.8h1V1222.6h1V1230.9h1V1231.3h1V1226.4h1V1245h1V1241.2h1V1220.3h1V1227.4h1V1238h1V1242h1V1221.7h1V1232.2h1V1244h1V1235.3h1V1239.8h1V1239.3h1V1238h1V1246.1h1V1223.8h1V1239h1V1228.8h1V1214.1h1V1214.5h1V1229.1h1V1235.2h1V1222.7h1V1220.1h1V1242.5h1V1230.1h1V1229.7h1V1234.3h1V1241.6h1V1241.5h1V1239.3h1V1228.3h1V1232.8h1V1235.4h1V1240.7h1V1234.7h1V1244h1V1244.9h1V1234.3h1V1225.3h1V1239.2h1V1237.7h1V1232h1V1235.7h1V1231.1h1V1246.8h1V1244h1V1236.9h1V1236.6h1V1239.3h1V1234.6h1V1247.2h1V1230.5h1V1238.4h1V1233.8h1V1252.2h1V1204.5h1V1220.3h1V1191.2h1V1224.6h1V1231.7h1V1225.3h1V1233.5h1V1215.9h1V1246.2h1V1235.2h1V1241.3h1V1243.7h1V1224.9h1V1230.5h1V1232.6h1V1219.8h1V1243.9h1V1234.5h1V1240.7h1V1250.8h1V1253.3h1V1249.4h1V1253.7h1V1254.1h1V1245.3h1V1243.6h1V1238.8h1V1256.3h1V1235.7h1V1238.7h1V1230.9h1V1247.6h1V1230.3h1V1239.7h1V1243.7h1V1229.7h1V1224.7h1V1237.4h1V1234.6h1V1245.7h1V1234.5h1V1247.2h1V1238.6h1V1249.7h1V1245h1V1251.1h1V1231.8h1V1233.6h1V1244.4h1V1243.6h1V1225.6h1V1245.5h1V1222.7h1V1244.1h1V1219.8h1V1227.4h1V1228.5h1V1218.2h1V1193.9h1V1238.5h1V1238.6h1V1232.2h1V1234.2h1V1231.3h1V1248.9h1V1235.5h1V1230.2h1V1246.3h1V1230.8h1V1240.1h1V1235.9h1V1228.8h1V1251.1h1V1252.8h1V1181.7h1V1203.8h1V1192.1h1V1200.5h1V1205.7h1V1214.9h1V1206.4h1V1208.2h1V1213.3h1V1212.2h1V1218.4h1V1218.4h1V1220.4h1V1220.6h1V1226.2h1V1220.9h1V1218.8h1V1213.2h1V1239h1V1231.4h1V1236.8h1V1243.1h1V1238.9h1V1232.6h1V1223.3h1V1244.6h1V1241.6h1V1243.3h1V1248.6h1V1234.8h1V1218.8h1V1235.6h1V1247.3h1V1243.2h1V1239.1h1V1214.3h1V1187.1h1V1222.6h1V1211.6h1V1231.6h1V1233.6h1V1230.1h1V1234h1V1217.7h1V1217.2h1V1202.5h1V1229.5h1V1236.6h1V1206.7h1V1227.6h1V1231.9h1V1226.1h1V1224.8h1V1218.8h1V1237.4h1V1229.7h1V1241.3h1V1230.1h1V1237.5h1V1233.4h1V1222.2h1V1203.7h1V1236.2h1V1247.2h1V1243.1h1V1228.6h1V1234.4h1V1219.5h1V1232.9h1V1228.5h1V1230.9h1V1235.8h1V1251.4h1V1271.6Z" fill="#2ca02c" fill-opacity="0.7" shape-rendering="crispEdges"/>
<rect x="119.2" y="1001.2" width="2426.6" height="270.4" fill="none" stroke="#1c1c1c" stroke-width="1.6"/>
<path d="M112.3 1271.6H119.2" stroke="#000" stroke-width="1.6"/>
<text font-size="19.4" fill="#000" text-anchor="middle" style="font-family:'Noto Sans CJK SC','WenQuanYi Zen Hei',sans-serif"><tspan font-size="19.98" style="font-family:'Liberation Sans','Noto Sans CJK SC',sans-serif"><tspan x="100.35" y="1279.6" textLength="9.11" lengthAdjust="spacingAndGlyphs">0</tspan></tspan></text>
<path d="M112.3 1222.75H119.2" stroke="#000" stroke-width="1.6"/>
<text font-size="19.4" fill="#000" text-anchor="middle" style="font-family:'Noto Sans CJK SC','WenQuanYi Zen Hei',sans-serif"><tspan font-size="19.98" style="font-family:'Liberation Sans','Noto Sans CJK SC',sans-serif"><tspan x="71.25" y="1230.75" textLength="9.11" lengthAdjust="spacingAndGlyphs">2</tspan><tspan x="80.95" y="1230.75" textLength="9.11" lengthAdjust="spacingAndGlyphs">5</tspan><tspan x="90.65" y="1230.75" textLength="9.11" lengthAdjust="spacingAndGlyphs">0</tspan><tspan x="100.35" y="1230.75" textLength="9.11" lengthAdjust="spacingAndGlyphs">0</tspan></tspan></text>
<path d="M112.3 1173.9H119.2" stroke="#000" stroke-width="1.6"/>
<text font-size="19.4" fill="#000" text-anchor="middle" style="font-family:'Noto Sans CJK SC','WenQuanYi Zen Hei',sans-serif"><tspan font-size="19.98" style="font-family:'Liberation Sans','Noto Sans CJK SC',sans-serif"><tspan x="71.25" y="1181.9" textLength="9.11" lengthAdjust="spacingAndGlyphs">5</tspan><tspan x="80.95" y="1181.9" textLength="9.11" lengthAdjust="spacingAndGlyphs">0</tspan><tspan x="90.65" y="1181.9" textLength="9.11" lengthAdjust="spacingAndGlyphs">0</tspan><tspan x="100.35" y="1181.9" textLength="9.11" lengthAdjust="spacingAndGlyphs">0</tspan></tspan></text>
<path d="M112.3 1125.05H119.2" stroke="#000" stroke-width="1.6"/>
<text font-size="19.4" fill="#000" text-anchor="middle" style="font-family:'Noto Sans CJK SC','WenQuanYi Zen Hei',sans-serif"><tspan font-size="19.98" style="font-family:'Liberation Sans','Noto Sans CJK SC',sans-serif"><tspan x="71.25" y="1133.05" textLength="9.11" lengthAdjust="spacingAndGlyphs">7</tspan><tspan x="80.95" y="1133.05" textLength="9.11" lengthAdjust="spacingAndGlyphs">5</tspan><tspan x="90.65" y="1133.05" textLength="9.11" lengthAdjust="spacingAndGlyphs">0</tspan><tspan x="100.35" y="1133.05" textLength="9.11" lengthAdjust="spacingAndGlyphs">0</tspan></tspan></text>
<path d="M112.3 1076.2H119.2" stroke="#000" stroke-width="1.6"/>
<text font-size="19.4" fill="#000" text-anchor="middle" style="font-family:'Noto Sans CJK SC','WenQuanYi Zen Hei',sans-serif"><tspan font-size="19.98" style="font-family:'Liberation Sans','Noto Sans CJK SC',sans-serif"><tspan x="61.55" y="1084.2" textLength="9.11" lengthAdjust="spacingAndGlyphs">1</tspan><tspan x="71.25" y="1084.2" textLength="9.11" lengthAdjust="spacingAndGlyphs">0</tspan><tspan x="80.95" y="1084.2" textLength="9.11" lengthAdjust="spacingAndGlyphs">0</tspan><tspan x="90.65" y="1084.2" textLength="9.11" lengthAdjust="spacingAndGlyphs">0</tspan><tspan x="100.35" y="1084.2" textLength="9.11" lengthAdjust="spacingAndGlyphs">0</tspan></tspan></text>
<path d="M112.3 1027.35H119.2" stroke="#000" stroke-width="1.6"/>
<text font-size="19.4" fill="#000" text-anchor="middle" style="font-family:'Noto Sans CJK SC','WenQuanYi Zen Hei',sans-serif"><tspan font-size="19.98" style="font-family:'Liberation Sans','Noto Sans CJK SC',sans-serif"><tspan x="61.55" y="1035.35" textLength="9.11" lengthAdjust="spacingAndGlyphs">1</tspan><tspan x="71.25" y="1035.35" textLength="9.11" lengthAdjust="spacingAndGlyphs">2</tspan><tspan x="80.95" y="1035.35" textLength="9.11" lengthAdjust="spacingAndGlyphs">5</tspan><tspan x="90.65" y="1035.35" textLength="9.11" lengthAdjust="spacingAndGlyphs">0</tspan><tspan x="100.35" y="1035.35" textLength="9.11" lengthAdjust="spacingAndGlyphs">0</tspan></tspan></text>
<path d="M229.6 1271.6V1278.5" stroke="#000" stroke-width="1.6"/>
<g transform="translate(226.7,1297.1) rotate(-45)"><text font-size="19.4" fill="#000" text-anchor="middle" style="font-family:'Noto Sans CJK SC','WenQuanYi Zen Hei',sans-serif"><tspan font-size="19.98" style="font-family:'Liberation Sans','Noto Sans CJK SC',sans-serif"><tspan x="-92.15" y="0" textLength="9.11" lengthAdjust="spacingAndGlyphs">2</tspan><tspan x="-82.45" y="0" textLength="9.11" lengthAdjust="spacingAndGlyphs">0</tspan><tspan x="-72.75" y="0" textLength="9.11" lengthAdjust="spacingAndGlyphs">2</tspan><tspan x="-63.05" y="0" textLength="9.11" lengthAdjust="spacingAndGlyphs">5</tspan><tspan x="-53.35" y="-1.16" textLength="10.31" lengthAdjust="spacingAndGlyphs">-</tspan><tspan x="-43.65" y="0" textLength="9.11" lengthAdjust="spacingAndGlyphs">1</tspan><tspan x="-33.95" y="0" textLength="9.11" lengthAdjust="spacingAndGlyphs">1</tspan><tspan x="-24.25" y="-1.16" textLength="10.31" lengthAdjust="spacingAndGlyphs">-</tspan><tspan x="-14.55" y="0" textLength="9.11" lengthAdjust="spacingAndGlyphs">1</tspan><tspan x="-4.85" y="0" textLength="9.11" lengthAdjust="spacingAndGlyphs">2</tspan></tspan></text></g>
<path d="M450.26 1271.6V1278.5" stroke="#000" stroke-width="1.6"/>
<g transform="translate(447.37,1297.1) rotate(-45)"><text font-size="19.4" fill="#000" text-anchor="middle" style="font-family:'Noto Sans CJK SC','WenQuanYi Zen Hei',sans-serif"><tspan font-size="19.98" style="font-family:'Liberation Sans','Noto Sans CJK SC',sans-serif"><tspan x="-92.15" y="0" textLength="9.11" lengthAdjust="spacingAndGlyphs">2</tspan><tspan x="-82.45" y="0" textLength="9.11" lengthAdjust="spacingAndGlyphs">0</tspan><tspan x="-72.75" y="0" textLength="9.11" lengthAdjust="spacingAndGlyphs">2</tspan><tspan x="-63.05" y="0" textLength="9.11" lengthAdjust="spacingAndGlyphs">5</tspan><tspan x="-53.35" y="-1.16" textLength="10.31" lengthAdjust="spacingAndGlyphs">-</tspan><tspan x="-43.65" y="0" textLength="9.11" lengthAdjust="spacingAndGlyphs">1</tspan><tspan x="-33.95" y="0" textLength="9.11" lengthAdjust="spacingAndGlyphs">1</tspan><tspan x="-24.25" y="-1.16" textLength="10.31" lengthAdjust="spacingAndGlyphs">-</tspan><tspan x="-14.55" y="0" textLength="9.11" lengthAdjust="spacingAndGlyphs">1</tspan><tspan x="-4.85" y="0" textLength="9.11" lengthAdjust="spacingAndGlyphs">7</tspan></tspan></text></g>
<path d="M670.93 1271.6V1278.5" stroke="#000" stroke-width="1.6"/>
<g transform="translate(668.03,1297.1) rotate(-45)"><text font-size="19.4" fill="#000" text-anchor="middle" style="font-family:'Noto Sans CJK SC','WenQuanYi Zen Hei',sans-serif"><tspan font-size="19.98" style="font-family:'Liberation Sans','Noto Sans CJK SC',sans-serif"><tspan x="-92.15" y="0" textLength="9.11" lengthAdjust="spacingAndGlyphs">2</tspan><tspan x="-82.45" y="0" textLength="9.11" lengthAdjust="spacingAndGlyphs">0</tspan><tspan x="-72.75" y="0" textLength="9.11" lengthAdjust="spacingAndGlyphs">2</tspan><tspan x="-63.05" y="0" textLength="9.11" lengthAdjust="spacingAndGlyphs">5</tspan><tspan x="-53.35" y="-1.16" textLength="10.31" lengthAdjust="spacingAndGlyphs">-</tspan><tspan x="-43.65" y="0" textLength="9.11" lengthAdjust="spacingAndGlyphs">1</tspan><tspan x="-33.95" y="0" textLength="9.11" lengthAdjust="spacingAndGlyphs">1</tspan><tspan x="-24.25" y="-1.16" textLength="10.31" lengthAdjust="spacingAndGlyphs">-</tspan><tspan x="-14.55" y="0" textLength="9.11" lengthAdjust="spacingAndGlyphs">2</tspan><tspan x="-4.85" y="0" textLength="9.11" lengthAdjust="spacingAndGlyphs">0</tspan></tspan></text></g>
<path d="M891.6 1271.6V1278.5" stroke="#000" stroke-width="1.6"/>
<g transform="translate(888.7,1297.1) rotate(-45)"><text font-size="19.4" fill="#000" text-anchor="middle" style="font-family:'Noto Sans CJK SC','WenQuanYi Zen Hei',sans-serif"><tspan font-size="19.98" style="font-family:'Liberation Sans','Noto Sans CJK SC',sans-serif"><tspan x="-92.15" y="0" textLength="9.11" lengthAdjust="spacingAndGlyphs">2</tspan><tspan x="-82.45" y="0" textLength="9.11" lengthAdjust="spacingAndGlyphs">0</tspan><tspan x="-72.75" y="0" textLength="9.11" lengthAdjust="spacingAndGlyphs">2</tspan><tspan x="-63.05" y="0" textLength="9.11" lengthAdjust="spacingAndGlyphs">5</tspan><tspan x="-53.35" y="-1.16" textLength="10.31" lengthAdjust="spacingAndGlyphs">-</tspan><tspan x="-43.65" y="0" textLength="9.11" lengthAdjust="spacingAndGlyphs">1</tspan><tspan x="-33.95" y="0" textLength="9.11" lengthAdjust="spacingAndGlyphs">1</tspan><tspan x="-24.25" y="-1.16" textLength="10.31" lengthAdjust="spacingAndGlyphs">-</tspan><tspan x="-14.55" y="0" textLength="9.11" lengthAdjust="spacingAndGlyphs">2</tspan><tspan x="-4.85" y="0" textLength="9.11" lengthAdjust="spacingAndGlyphs">5</tspan></tspan></text></g>
<path d="M1112.26 1271.6V1278.5" stroke="#000" stroke-width="1.6"/>
<g transform="translate(1109.36,1297.1) rotate(-45)"><text font-size="19.4" fill="#000" text-anchor="middle" style="font-family:'Noto Sans CJK SC','WenQuanYi Zen Hei',sans-serif"><tspan font-size="19.98" style="font-family:'Liberation Sans','Noto Sans CJK SC',sans-serif"><tspan x="-92.15" y="0" textLength="9.11" lengthAdjust="spacingAndGlyphs">2</tspan><tspan x="-82.45" y="0" textLength="9.11" lengthAdjust="spacingAndGlyphs">0</tspan><tspan x="-72.75" y="0" textLength="9.11" lengthAdjust="spacingAndGlyphs">2</tspan><tspan x="-63.05" y="0" textLength="9.11" lengthAdjust="spacingAndGlyphs">5</tspan><tspan x="-53.35" y="-1.16" textLength="10.31" lengthAdjust="spacingAndGlyphs">-</tspan><tspan x="-43.65" y="0" textLength="9.11" lengthAdjust="spacingAndGlyphs">1</tspan><tspan x="-33.95" y="0" textLength="9.11" lengthAdjust="spacingAndGlyphs">1</tspan><tspan x="-24.25" y="-1.16" textLength="10.31" lengthAdjust="spacingAndGlyphs">-</tspan><tspan x="-14.55" y="0" textLength="9.11" lengthAdjust="spacingAndGlyphs">2</tspan><tspan x="-4.85" y="0" textLength="9.11" lengthAdjust="spacingAndGlyphs">8</tspan></tspan></text></g>
<path d="M1332.92 1271.6V1278.5" stroke="#000" stroke-width="1.6"/>
<g transform="translate(1330.02,1297.1) rotate(-45)"><text font-size="19.4" fill="#000" text-anchor="middle" style="font-family:'Noto Sans CJK SC','WenQuanYi Zen Hei',sans-serif"><tspan font-size="19.98" style="font-family:'Liberation Sans','Noto Sans CJK SC',sans-serif"><tspan x="-92.15" y="0" textLength="9.11" lengthAdjust="spacingAndGlyphs">2</tspan><tspan x="-82.45" y="0" textLength="9.11" lengthAdjust="spacingAndGlyphs">0</tspan><tspan x="-72.75" y="0" textLength="9.11" lengthAdjust="spacingAndGlyphs">2</tspan><tspan x="-63.05" y="0" textLength="9.11" lengthAdjust="spacingAndGlyphs">5</tspan><tspan x="-53.35" y="-1.16" textLength="10.31" lengthAdjust="spacingAndGlyphs">-</tspan><tspan x="-43.65" y="0" textLength="9.11" lengthAdjust="spacingAndGlyphs">1</tspan><tspan x="-33.95" y="0" textLength="9.11" lengthAdjust="spacingAndGlyphs">2</tspan><tspan x="-24.25" y="-1.16" textLength="10.31" lengthAdjust="spacingAndGlyphs">-</tspan><tspan x="-14.55" y="0" textLength="9.11" lengthAdjust="spacingAndGlyphs">0</tspan><tspan x="-4.85" y="0" textLength="9.11" lengthAdjust="spacingAndGlyphs">3</tspan></tspan></text></g>
<path d="M1553.59 1271.6V1278.5" stroke="#000" stroke-width="1.6"/>
<g transform="translate(1550.69,1297.1) rotate(-45)"><text font-size="19.4" fill="#000" text-anchor="middle" style="font-family:'Noto Sans CJK SC','WenQuanYi Zen Hei',sans-serif"><tspan font-size="19.98" style="font-family:'Liberation Sans','Noto Sans CJK SC',sans-serif"><tspan x="-92.15" y="0" textLength="9.11" lengthAdjust="spacingAndGlyphs">2</tspan><tspan x="-82.45" y="0" textLength="9.11" lengthAdjust="spacingAndGlyphs">0</tspan><tspan x="-72.75" y="0" textLength="9.11" lengthAdjust="spacingAndGlyphs">2</tspan><tspan x="-63.05" y="0" textLength="9.11" lengthAdjust="spacingAndGlyphs">5</tspan><tspan x="-53.35" y="-1.16" textLength="10.31" lengthAdjust="spacingAndGlyphs">-</tspan><tspan x="-43.65" y="0" textLength="9.11" lengthAdjust="spacingAndGlyphs">1</tspan><tspan x="-33.95" y="0" textLength="9.11" lengthAdjust="spacingAndGlyphs">2</tspan><tspan x="-24.25" y="-1.16" textLength="10.31" lengthAdjust="spacingAndGlyphs">-</tspan><tspan x="-14.55" y="0" textLength="9.11" lengthAdjust="spacingAndGlyphs">0</tspan><tspan x="-4.85" y="0" textLength="9.11" lengthAdjust="spacingAndGlyphs">8</tspan></tspan></text></g>
<path d="M1774.26 1271.6V1278.5" stroke="#000" stroke-width="1.6"/>
<g transform="translate(1771.36,1297.1) rotate(-45)"><text font-size="19.4" fill="#000" text-anchor="middle" style="font-family:'Noto Sans CJK SC','WenQuanYi Zen Hei',sans-serif"><tspan font-size="19.98" style="font-family:'Liberation Sans','Noto Sans CJK SC',sans-serif"><tspan x="-92.15" y="0" textLength="9.11" lengthAdjust="spacingAndGlyphs">2</tspan><tspan x="-82.45" y="0" textLength="9.11" lengthAdjust="spacingAndGlyphs">0</tspan><tspan x="-72.75" y="0" textLength="9.11" lengthAdjust="spacingAndGlyphs">2</tspan><tspan x="-63.05" y="0" textLength="9.11" lengthAdjust="spacingAndGlyphs">5</tspan><tspan x="-53.35" y="-1.16" textLength="10.31" lengthAdjust="spacingAndGlyphs">-</tspan><tspan x="-43.65" y="0" textLength="9.11" lengthAdjust="spacingAndGlyphs">1</tspan><tspan x="-33.95" y="0" textLength="9.11" lengthAdjust="spacingAndGlyphs">2</tspan><tspan x="-24.25" y="-1.16" textLength="10.31" lengthAdjust="spacingAndGlyphs">-</tspan><tspan x="-14.55" y="0" textLength="9.11" lengthAdjust="spacingAndGlyphs">1</tspan><tspan x="-4.85" y="0" textLength="9.11" lengthAdjust="spacingAndGlyphs">1</tspan></tspan></text></g>
<path d="M1994.92 1271.6V1278.5" stroke="#000" stroke-width="1.6"/>
<g transform="translate(1992.02,1297.1) rotate(-45)"><text font-size="19.4" fill="#000" text-anchor="middle" style="font-family:'Noto Sans CJK SC','WenQuanYi Zen Hei',sans-serif"><tspan font-size="19.98" style="font-family:'Liberation Sans','Noto Sans CJK SC',sans-serif"><tspan x="-92.15" y="0" textLength="9.11" lengthAdjust="spacingAndGlyphs">2</tspan><tspan x="-82.45" y="0" textLength="9.11" lengthAdjust="spacingAndGlyphs">0</tspan><tspan x="-72.75" y="0" textLength="9.11" lengthAdjust="spacingAndGlyphs">2</tspan><tspan x="-63.05" y="0" textLength="9.11" lengthAdjust="spacingAndGlyphs">5</tspan><tspan x="-53.35" y="-1.16" textLength="10.31" lengthAdjust="spacingAndGlyphs">-</tspan><tspan x="-43.65" y="0" textLength="9.11" lengthAdjust="spacingAndGlyphs">1</tspan><tspan x="-33.95" y="0" textLength="9.11" lengthAdjust="spacingAndGlyphs">2</tspan><tspan x="-24.25" y="-1.16" textLength="10.31" lengthAdjust="spacingAndGlyphs">-</tspan><tspan x="-14.55" y="0" textLength="9.11" lengthAdjust="spacingAndGlyphs">1</tspan><tspan x="-4.85" y="0" textLength="9.11" lengthAdjust="spacingAndGlyphs">6</tspan></tspan></text></g>
<path d="M2215.59 1271.6V1278.5" stroke="#000" stroke-width="1.6"/>
<g transform="translate(2212.68,1297.1) rotate(-45)"><text font-size="19.4" fill="#000" text-anchor="middle" style="font-family:'Noto Sans CJK SC','WenQuanYi Zen Hei',sans-serif"><tspan font-size="19.98" style="font-family:'Liberation Sans','Noto Sans CJK SC',sans-serif"><tspan x="-92.15" y="0" textLength="9.11" lengthAdjust="spacingAndGlyphs">2</tspan><tspan x="-82.45" y="0" textLength="9.11" lengthAdjust="spacingAndGlyphs">0</tspan><tspan x="-72.75" y="0" textLength="9.11" lengthAdjust="spacingAndGlyphs">2</tspan><tspan x="-63.05" y="0" textLength="9.11" lengthAdjust="spacingAndGlyphs">5</tspan><tspan x="-53.35" y="-1.16" textLength="10.31" lengthAdjust="spacingAndGlyphs">-</tspan><tspan x="-43.65" y="0" textLength="9.11" lengthAdjust="spacingAndGlyphs">1</tspan><tspan x="-33.95" y="0" textLength="9.11" lengthAdjust="spacingAndGlyphs">2</tspan><tspan x="-24.25" y="-1.16" textLength="10.31" lengthAdjust="spacingAndGlyphs">-</tspan><tspan x="-14.55" y="0" textLength="9.11" lengthAdjust="spacingAndGlyphs">1</tspan><tspan x="-4.85" y="0" textLength="9.11" lengthAdjust="spacingAndGlyphs">9</tspan></tspan></text></g>
<text transform="translate(45,0) rotate(-90)" x="-1164 -1139 -1114" y="0" font-size="25" text-anchor="middle" style="font-family:'Noto Sans CJK SC','WenQuanYi Zen Hei',sans-serif">成交量</text>
<text x="1255 1280 1305.4 1329.5 1358 1383.9 1410.5" y="1397.5" font-size="25" text-anchor="middle" style="font-family:'Noto Sans CJK SC','WenQuanYi Zen Hei',sans-serif">时间轴（连续）</text>
</svg>
</body></html>
